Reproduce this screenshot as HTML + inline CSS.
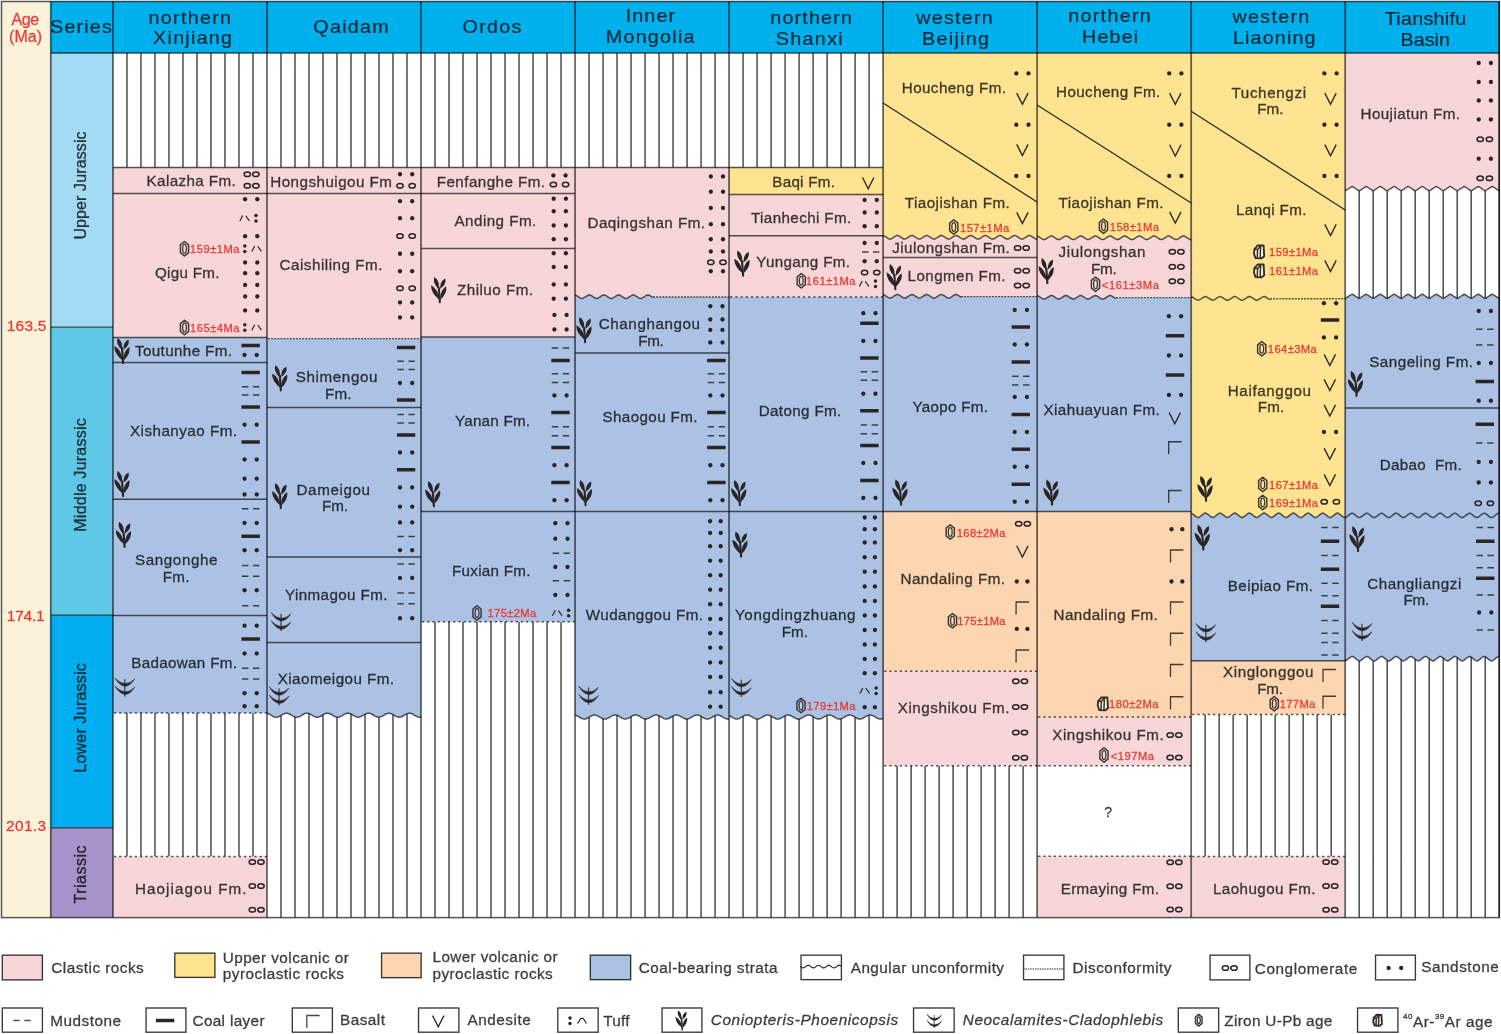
<!DOCTYPE html>
<html lang="en"><head><meta charset="utf-8"><title>Jurassic stratigraphic correlation of northern China</title>
<style>html,body{margin:0;padding:0;background:#fff}svg{display:block}
text{font-family:"Liberation Sans",sans-serif;fill:#000;stroke:#000;stroke-width:.32px;opacity:.77}
.h{stroke-width:.22px}.r{fill:#E5352F;stroke:#E5352F;stroke-width:.3px;opacity:.95}.sy{fill:#2a2526}.s{fill:none;stroke:#2a2526;stroke-width:1.5}.m{fill:none;stroke:rgba(0,0,0,.68);stroke-width:1.4}
.b{fill:none;stroke:rgba(0,0,0,.72);stroke-width:1.3}.v{fill:none;stroke:#2a2526;stroke-width:1.35}.c{fill:none;stroke:#2a2526;stroke-width:1.2;stroke-linejoin:round}
.z{fill:none;stroke:#3a3636;stroke-width:1.45;stroke-linejoin:round}.z3{fill:#fff;fill-opacity:.18;stroke:#3a3636;stroke-width:1.3}
.a{fill:#fff;fill-opacity:.8;stroke:#352c22;stroke-width:1.9;stroke-linejoin:round}.a2{fill:none;stroke:#352c22;stroke-width:1.5}</style></head>
<body>
<svg width="1501" height="1034" viewBox="0 0 1501 1034">
<rect x="0" y="0" width="1501" height="1034" fill="#fff"/>
<rect x="1.5" y="1.5" width="49.25" height="916.1" fill="#FBF3D9"/>
<rect x="50.75" y="1.5" width="1448.47" height="51.5" fill="#00B0EC"/>
<rect x="50.75" y="53" width="62.2" height="274.2" fill="#A2DBF3"/>
<rect x="50.75" y="327.2" width="62.2" height="288" fill="#60C8E7"/>
<rect x="50.75" y="615.2" width="62.2" height="212.6" fill="#00AEEF"/>
<rect x="50.75" y="827.8" width="62.2" height="89.8" fill="#A892CA"/>
<path d="M126.95 53V167.5M140.96 53V167.5M154.96 53V167.5M168.96 53V167.5M182.96 53V167.5M196.97 53V167.5M210.97 53V167.5M224.97 53V167.5M238.97 53V167.5M252.98 53V167.5M126.95 713V856.5M140.96 713V856.5M154.96 713V856.5M168.96 713V856.5M182.96 713V856.5M196.97 713V856.5M210.97 713V856.5M224.97 713V856.5M238.97 713V856.5M252.98 713V856.5M280.98 53V167.5M294.99 53V167.5M308.99 53V167.5M322.99 53V167.5M336.99 53V167.5M351 53V167.5M365 53V167.5M379 53V167.5M393 53V167.5M407.01 53V167.5M280.98 715.43V917.6M294.99 716.92V917.6M308.99 713.57V917.6M322.99 714.81V917.6M336.99 717.15V917.6M351 714V917.6M365 714.23V917.6M379 717.19V917.6M393 714.54V917.6M407.01 713.75V917.6M435.01 53V167.5M449.02 53V167.5M463.02 53V167.5M477.02 53V167.5M491.02 53V167.5M505.03 53V167.5M519.03 53V167.5M533.03 53V167.5M547.03 53V167.5M561.04 53V167.5M435.01 621.75V917.6M449.02 621.75V917.6M463.02 621.75V917.6M477.02 621.75V917.6M491.02 621.75V917.6M505.03 621.75V917.6M519.03 621.75V917.6M533.03 621.75V917.6M547.03 621.75V917.6M561.04 621.75V917.6M589.04 53V167.5M603.05 53V167.5M617.05 53V167.5M631.05 53V167.5M645.05 53V167.5M659.06 53V167.5M673.06 53V167.5M687.06 53V167.5M701.06 53V167.5M715.07 53V167.5M589.04 717.23V917.6M603.05 718.72V917.6M617.05 715.37V917.6M631.05 716.61V917.6M645.05 718.95V917.6M659.06 715.8V917.6M673.06 716.03V917.6M687.06 718.99V917.6M701.06 716.34V917.6M715.07 715.55V917.6M743.07 53V167.5M757.08 53V167.5M771.08 53V167.5M785.08 53V167.5M799.08 53V167.5M813.09 53V167.5M827.09 53V167.5M841.09 53V167.5M855.09 53V167.5M869.1 53V167.5M743.07 716.32V917.6M757.08 718.99V917.6M771.08 716.05V917.6M785.08 715.78V917.6M799.08 718.95V917.6M813.09 716.63V917.6M827.09 715.36V917.6M841.09 718.71V917.6M855.09 717.24V917.6M869.1 715.09V917.6M897.1 765.75V917.6M911.11 765.75V917.6M925.11 765.75V917.6M939.11 765.75V917.6M953.11 765.75V917.6M967.12 765.75V917.6M981.12 765.75V917.6M995.12 765.75V917.6M1009.12 765.75V917.6M1023.13 765.75V917.6M1205.16 714.5V856.5M1219.17 714.5V856.5M1233.17 714.5V856.5M1247.17 714.5V856.5M1261.17 714.5V856.5M1275.18 714.5V856.5M1289.18 714.5V856.5M1303.18 714.5V856.5M1317.18 714.5V856.5M1331.19 714.5V856.5M1359.19 190.7V298.4M1373.2 190.7V298.4M1387.2 190.7V298.4M1401.2 190.7V298.4M1415.2 190.7V298.4M1429.21 190.7V298.4M1443.21 190.7V298.4M1457.21 190.7V298.4M1471.21 190.7V298.4M1485.22 190.7V298.4M1359.19 660.94V917.6M1373.2 660.61V917.6M1387.2 660.2V917.6M1401.2 659.73V917.6M1415.2 659.21V917.6M1429.21 658.67V917.6M1443.21 658.13V917.6M1457.21 657.62V917.6M1471.21 657.15V917.6M1485.22 656.75V917.6" stroke="rgba(0,0,0,.68)" stroke-width="1.55" fill="none"/>
<rect x="112.95" y="167.5" width="154.03" height="26" fill="#F7D6D8"/>
<rect x="112.95" y="193.5" width="154.03" height="144" fill="#F7D6D8"/>
<rect x="112.95" y="337.5" width="154.03" height="25" fill="#ACC2E4"/>
<rect x="112.95" y="362.5" width="154.03" height="136.75" fill="#ACC2E4"/>
<rect x="112.95" y="499.25" width="154.03" height="116.25" fill="#ACC2E4"/>
<rect x="112.95" y="615.5" width="154.03" height="97.5" fill="#ACC2E4"/>
<rect x="112.95" y="856.5" width="154.03" height="61.1" fill="#F7D6D8"/>
<rect x="266.98" y="167.5" width="154.03" height="26" fill="#F7D6D8"/>
<rect x="266.98" y="193.5" width="154.03" height="145.1" fill="#F7D6D8"/>
<rect x="266.98" y="338.6" width="154.03" height="68.9" fill="#ACC2E4"/>
<rect x="266.98" y="407.5" width="154.03" height="149.5" fill="#ACC2E4"/>
<rect x="266.98" y="557" width="154.03" height="85.5" fill="#ACC2E4"/>
<path d="M266.98 642.5 421.01 642.5 L421 717 420.1 717.2 419.2 717.2 418.3 717 417.4 716.7 416.5 716.3 415.6 715.8 414.7 715.3 413.8 714.7 412.9 714.2 412 713.8 411.1 713.4 410.2 713.2 409.3 713.2 408.4 713.3 407.5 713.6 406.6 713.9 405.7 714.4 404.8 714.9 403.9 715.5 403 716 402.1 716.5 401.2 716.8 400.3 717.1 399.4 717.2 398.5 717.1 397.6 717 396.7 716.6 395.8 716.2 394.9 715.7 394 715.1 393.1 714.6 392.2 714.1 391.3 713.7 390.4 713.4 389.5 713.2 388.6 713.2 387.7 713.4 386.8 713.6 385.9 714 385 714.5 384.1 715.1 383.2 715.6 382.3 716.1 381.4 716.6 380.5 716.9 379.6 717.1 378.7 717.2 377.8 717.1 376.9 716.9 376 716.5 375.1 716.1 374.2 715.5 373.3 715 372.4 714.5 371.5 714 370.6 713.6 369.7 713.3 368.8 713.2 367.9 713.2 367 713.4 366.1 713.7 365.2 714.1 364.3 714.7 363.4 715.2 362.5 715.7 361.6 716.2 360.7 716.7 359.8 717 358.9 717.2 358 717.2 357.1 717.1 356.2 716.8 355.3 716.4 354.4 715.9 353.5 715.4 352.6 714.9 351.7 714.3 350.8 713.9 349.8 713.5 348.9 713.3 348 713.2 347.1 713.3 346.2 713.5 345.3 713.8 344.4 714.3 343.5 714.8 342.6 715.3 341.7 715.9 340.8 716.4 339.9 716.8 339 717 338.1 717.2 337.2 717.2 336.3 717 335.4 716.7 334.5 716.3 333.6 715.8 332.7 715.3 331.8 714.7 330.9 714.2 330 713.8 329.1 713.5 328.2 713.3 327.3 713.2 326.4 713.3 325.5 713.5 324.6 713.9 323.7 714.4 322.8 714.9 321.9 715.5 321 716 320.1 716.5 319.2 716.8 318.3 717.1 317.4 717.2 316.5 717.2 315.6 717 314.7 716.6 313.8 716.2 312.9 715.7 312 715.1 311.1 714.6 310.2 714.1 309.3 713.7 308.4 713.4 307.5 713.2 306.6 713.2 305.7 713.3 304.8 713.6 303.9 714 303 714.5 302.1 715 301.2 715.6 300.3 716.1 299.4 716.6 298.5 716.9 297.6 717.1 296.7 717.2 295.8 717.1 294.9 716.9 294 716.5 293.1 716.1 292.2 715.6 291.3 715 290.4 714.5 289.5 714 288.6 713.6 287.7 713.3 286.8 713.2 285.9 713.2 285 713.4 284.1 713.7 283.2 714.1 282.3 714.6 281.4 715.2 280.5 715.7 279.6 716.2 278.7 716.7 277.8 717 276.9 717.2 276 717.2 275.1 717.1 274.2 716.8 273.3 716.4 272.4 716 271.5 715.4 270.6 714.9 269.7 714.4 268.8 713.9 267.9 713.5 267 713.3Z" fill="#ACC2E4"/>
<rect x="421.01" y="167.5" width="154.03" height="26" fill="#F7D6D8"/>
<rect x="421.01" y="193.5" width="154.03" height="55" fill="#F7D6D8"/>
<rect x="421.01" y="248.5" width="154.03" height="88.5" fill="#F7D6D8"/>
<rect x="421.01" y="337" width="154.03" height="174.5" fill="#ACC2E4"/>
<rect x="421.01" y="511.5" width="154.03" height="110.25" fill="#ACC2E4"/>
<path d="M575.04 167.5 729.07 167.5 L729.1 297 728.2 297 727.3 297 726.4 297 725.5 297 724.6 297 723.7 297 722.8 297 721.9 297 721 297 720.1 297 719.2 297 718.3 297 717.4 297 716.5 297 715.6 297 714.7 297 713.8 297 712.9 297 712 297 711.1 297 710.2 297 709.3 297 708.4 297 707.5 297 706.6 297 705.7 297 704.7 297 703.8 297 702.9 297 702 297 701.1 297 700.2 297 699.3 297 698.4 297 697.5 297 696.6 297 695.7 297 694.8 297 693.9 297 693 297 692.1 297 691.2 297 690.3 297 689.4 297 688.5 297 687.6 297 686.7 297 685.8 297 684.9 297 684 297 683.1 297 682.2 297 681.3 297 680.4 297 679.5 297 678.6 297 677.7 297 676.8 297 675.9 297 675 297 674.1 297 673.2 297 672.3 297 671.4 297 670.5 297 669.6 297 668.7 297 667.8 297 666.9 297 666 297 665.1 297 664.2 297 663.3 297 662.4 297 661.5 297 660.6 297 659.7 297 658.8 297 657.9 297 657 297 656.1 297 655.2 297 654.3 297 653.4 297 652.5 297.3 651.6 296.7 650.7 296.1 649.8 295.5 648.9 295.1 648 294.9 647.1 295 646.2 295.5 645.3 296 644.4 296.6 643.5 297.2 642.6 297.8 641.7 298.3 640.8 298.5 639.9 298.4 639 298 638.1 297.4 637.2 296.9 636.3 296.3 635.4 295.7 634.5 295.2 633.6 294.9 632.7 294.9 631.8 295.4 630.9 295.9 630 296.5 629.1 297.1 628.2 297.6 627.3 298.1 626.4 298.5 625.5 298.5 624.6 298.1 623.7 297.6 622.8 297 621.9 296.4 621 295.9 620.1 295.3 619.2 294.9 618.3 294.9 617.4 295.2 616.5 295.7 615.6 296.3 614.7 296.9 613.8 297.5 612.9 298 612 298.4 611.1 298.5 610.2 298.2 609.3 297.8 608.4 297.2 607.5 296.6 606.6 296 605.7 295.5 604.8 295 603.9 294.9 603 295.1 602.1 295.6 601.2 296.1 600.3 296.7 599.4 297.3 598.5 297.8 597.6 298.3 596.7 298.5 595.8 298.4 594.9 297.9 594 297.4 593.1 296.8 592.2 296.2 591.3 295.6 590.4 295.1 589.5 294.9 588.6 295 587.7 295.4 586.7 296 585.8 296.5 584.9 297.1 584 297.7 583.1 298.2 582.2 298.5 581.3 298.5 580.4 298 579.5 297.5 578.6 296.9 577.7 296.3 576.8 295.8 575.9 295.3 575 294.9Z" fill="#F7D6D8"/>
<path d="M575 294.9 575.9 295.3 576.8 295.8 577.7 296.3 578.6 296.9 579.5 297.5 580.4 298 581.3 298.5 582.2 298.5 583.1 298.2 584 297.7 584.9 297.1 585.8 296.5 586.7 296 587.7 295.4 588.6 295 589.5 294.9 590.4 295.1 591.3 295.6 592.2 296.2 593.1 296.8 594 297.4 594.9 297.9 595.8 298.4 596.7 298.5 597.6 298.3 598.5 297.8 599.4 297.3 600.3 296.7 601.2 296.1 602.1 295.6 603 295.1 603.9 294.9 604.8 295 605.7 295.5 606.6 296 607.5 296.6 608.4 297.2 609.3 297.8 610.2 298.2 611.1 298.5 612 298.4 612.9 298 613.8 297.5 614.7 296.9 615.6 296.3 616.5 295.7 617.4 295.2 618.3 294.9 619.2 294.9 620.1 295.3 621 295.9 621.9 296.4 622.8 297 623.7 297.6 624.6 298.1 625.5 298.5 626.4 298.5 627.3 298.1 628.2 297.6 629.1 297.1 630 296.5 630.9 295.9 631.8 295.4 632.7 294.9 633.6 294.9 634.5 295.2 635.4 295.7 636.3 296.3 637.2 296.9 638.1 297.4 639 298 639.9 298.4 640.8 298.5 641.7 298.3 642.6 297.8 643.5 297.2 644.4 296.6 645.3 296 646.2 295.5 647.1 295 648 294.9 648.9 295.1 649.8 295.5 650.7 296.1 651.6 296.7 652.5 297.3 653.4 297 654.3 297 655.2 297 656.1 297 657 297 657.9 297 658.8 297 659.7 297 660.6 297 661.5 297 662.4 297 663.3 297 664.2 297 665.1 297 666 297 666.9 297 667.8 297 668.7 297 669.6 297 670.5 297 671.4 297 672.3 297 673.2 297 674.1 297 675 297 675.9 297 676.8 297 677.7 297 678.6 297 679.5 297 680.4 297 681.3 297 682.2 297 683.1 297 684 297 684.9 297 685.8 297 686.7 297 687.6 297 688.5 297 689.4 297 690.3 297 691.2 297 692.1 297 693 297 693.9 297 694.8 297 695.7 297 696.6 297 697.5 297 698.4 297 699.3 297 700.2 297 701.1 297 702 297 702.9 297 703.8 297 704.7 297 705.7 297 706.6 297 707.5 297 708.4 297 709.3 297 710.2 297 711.1 297 712 297 712.9 297 713.8 297 714.7 297 715.6 297 716.5 297 717.4 297 718.3 297 719.2 297 720.1 297 721 297 721.9 297 722.8 297 723.7 297 724.6 297 725.5 297 726.4 297 727.3 297 728.2 297 729.1 297 L729.07 353 575.04 353Z" fill="#ACC2E4"/>
<rect x="575.04" y="353" width="154.03" height="158.5" fill="#ACC2E4"/>
<path d="M575.04 511.5 729.07 511.5 L729.1 718.8 728.2 719 727.3 719 726.4 718.8 725.5 718.5 724.6 718.1 723.7 717.6 722.8 717.1 721.9 716.5 721 716 720.1 715.6 719.2 715.2 718.3 715 717.4 715 716.5 715.1 715.6 715.4 714.7 715.7 713.8 716.2 712.9 716.7 712 717.3 711.1 717.8 710.2 718.3 709.3 718.6 708.4 718.9 707.5 719 706.6 718.9 705.7 718.8 704.7 718.4 703.8 718 702.9 717.5 702 716.9 701.1 716.4 700.2 715.9 699.3 715.5 698.4 715.2 697.5 715 696.6 715 695.7 715.2 694.8 715.4 693.9 715.8 693 716.3 692.1 716.9 691.2 717.4 690.3 717.9 689.4 718.4 688.5 718.7 687.6 718.9 686.7 719 685.8 718.9 684.9 718.7 684 718.3 683.1 717.9 682.2 717.3 681.3 716.8 680.4 716.3 679.5 715.8 678.6 715.4 677.7 715.1 676.8 715 675.9 715 675 715.2 674.1 715.5 673.2 715.9 672.3 716.5 671.4 717 670.5 717.5 669.6 718 668.7 718.5 667.8 718.8 666.9 719 666 719 665.1 718.9 664.2 718.6 663.3 718.2 662.4 717.7 661.5 717.2 660.6 716.7 659.7 716.1 658.8 715.7 657.9 715.3 657 715.1 656.1 715 655.2 715.1 654.3 715.3 653.4 715.6 652.5 716.1 651.6 716.6 650.7 717.1 649.8 717.7 648.9 718.2 648 718.6 647.1 718.8 646.2 719 645.3 719 644.4 718.8 643.5 718.5 642.6 718.1 641.7 717.6 640.8 717.1 639.9 716.5 639 716 638.1 715.6 637.2 715.3 636.3 715.1 635.4 715 634.5 715.1 633.6 715.3 632.7 715.7 631.8 716.2 630.9 716.7 630 717.3 629.1 717.8 628.2 718.3 627.3 718.6 626.4 718.9 625.5 719 624.6 719 623.7 718.8 622.8 718.4 621.9 718 621 717.5 620.1 716.9 619.2 716.4 618.3 715.9 617.4 715.5 616.5 715.2 615.6 715 614.7 715 613.8 715.1 612.9 715.4 612 715.8 611.1 716.3 610.2 716.8 609.3 717.4 608.4 717.9 607.5 718.4 606.6 718.7 605.7 718.9 604.8 719 603.9 718.9 603 718.7 602.1 718.3 601.2 717.9 600.3 717.4 599.4 716.8 598.5 716.3 597.6 715.8 596.7 715.4 595.8 715.1 594.9 715 594 715 593.1 715.2 592.2 715.5 591.3 715.9 590.4 716.4 589.5 717 588.6 717.5 587.7 718 586.7 718.5 585.8 718.8 584.9 719 584 719 583.1 718.9 582.2 718.6 581.3 718.2 580.4 717.8 579.5 717.2 578.6 716.7 577.7 716.2 576.8 715.7 575.9 715.3 575 715.1Z" fill="#ACC2E4"/>
<rect x="729.07" y="167.5" width="154.03" height="27" fill="#FEE391"/>
<rect x="729.07" y="194.5" width="154.03" height="41.25" fill="#F7D6D8"/>
<rect x="729.07" y="235.75" width="154.03" height="61.25" fill="#F7D6D8"/>
<rect x="729.07" y="297" width="154.03" height="214.5" fill="#ACC2E4"/>
<path d="M729.07 511.5 883.1 511.5 L883.1 718.3 882.2 718.7 881.3 718.9 880.4 719 879.5 718.9 878.6 718.7 877.7 718.4 876.8 717.9 875.9 717.4 875 716.9 874.1 716.3 873.2 715.8 872.3 715.4 871.4 715.2 870.5 715 869.6 715 868.7 715.2 867.8 715.5 866.9 715.9 866 716.4 865.1 716.9 864.2 717.5 863.3 718 862.4 718.4 861.5 718.7 860.6 718.9 859.7 719 858.8 718.9 857.9 718.7 857 718.3 856.1 717.8 855.2 717.3 854.3 716.7 853.4 716.2 852.5 715.7 851.6 715.4 850.7 715.1 849.8 715 848.9 715 848 715.2 847.1 715.6 846.2 716 845.3 716.5 844.4 717 843.5 717.6 842.6 718.1 841.7 718.5 840.8 718.8 839.9 719 839 719 838.1 718.9 837.2 718.6 836.3 718.2 835.4 717.7 834.5 717.2 833.6 716.6 832.7 716.1 831.8 715.6 830.9 715.3 830 715.1 829.1 715 828.2 715.1 827.3 715.3 826.4 715.7 825.5 716.1 824.6 716.6 823.6 717.2 822.7 717.7 821.8 718.2 820.9 718.6 820 718.9 819.1 719 818.2 719 817.3 718.8 816.4 718.5 815.5 718.1 814.6 717.6 813.7 717 812.8 716.5 811.9 716 811 715.5 810.1 715.2 809.2 715 808.3 715 807.4 715.1 806.5 715.4 805.6 715.8 804.7 716.2 803.8 716.8 802.9 717.3 802 717.8 801.1 718.3 800.2 718.7 799.3 718.9 798.4 719 797.5 718.9 796.6 718.7 795.7 718.4 794.8 718 793.9 717.4 793 716.9 792.1 716.4 791.2 715.9 790.3 715.5 789.4 715.2 788.5 715 787.6 715 786.7 715.2 785.8 715.5 784.9 715.9 784 716.4 783.1 716.9 782.2 717.4 781.3 718 780.4 718.4 779.5 718.7 778.6 718.9 777.7 719 776.8 718.9 775.9 718.7 775 718.3 774.1 717.8 773.2 717.3 772.3 716.8 771.4 716.2 770.5 715.8 769.6 715.4 768.7 715.1 767.8 715 766.9 715 766 715.2 765.1 715.5 764.2 716 763.3 716.5 762.4 717 761.5 717.6 760.6 718.1 759.7 718.5 758.8 718.8 757.9 719 757 719 756.1 718.9 755.2 718.6 754.3 718.2 753.4 717.7 752.5 717.2 751.6 716.6 750.7 716.1 749.8 715.7 748.9 715.3 748 715.1 747.1 715 746.2 715.1 745.3 715.3 744.4 715.6 743.5 716.1 742.6 716.6 741.7 717.2 740.8 717.7 739.9 718.2 739 718.6 738.1 718.9 737.2 719 736.3 719 735.4 718.8 734.5 718.5 733.6 718.1 732.7 717.6 731.8 717 730.9 716.5 730 716 729.1 715.6Z" fill="#ACC2E4"/>
<path d="M883.1 53 1037.13 53 L1037.1 239.1 1036.2 239.1 1035.3 238.7 1034.4 238.2 1033.5 237.6 1032.6 237 1031.7 236.5 1030.8 235.9 1029.9 235.5 1029 235.5 1028.1 235.8 1027.2 236.3 1026.3 236.9 1025.4 237.5 1024.5 238.1 1023.6 238.6 1022.7 239 1021.8 239.1 1020.9 238.8 1020 238.4 1019.1 237.8 1018.2 237.2 1017.3 236.6 1016.4 236.1 1015.5 235.6 1014.6 235.5 1013.7 235.7 1012.8 236.2 1011.9 236.7 1011 237.3 1010.1 237.9 1009.2 238.5 1008.3 238.9 1007.4 239.1 1006.5 239 1005.6 238.5 1004.7 238 1003.8 237.4 1002.9 236.8 1002 236.2 1001.1 235.7 1000.2 235.5 999.3 235.6 998.4 236 997.5 236.6 996.6 237.1 995.7 237.7 994.8 238.3 993.9 238.8 993 239.1 992.1 239.1 991.2 238.6 990.3 238.1 989.4 237.5 988.5 236.9 987.6 236.4 986.7 235.9 985.8 235.5 984.9 235.5 984 235.9 983.1 236.4 982.2 237 981.3 237.6 980.4 238.1 979.5 238.7 978.6 239.1 977.7 239.1 976.8 238.8 975.9 238.3 975 237.7 974.1 237.1 973.2 236.5 972.3 236 971.4 235.6 970.5 235.5 969.6 235.8 968.7 236.2 967.8 236.8 966.9 237.4 966 238 965.1 238.5 964.2 239 963.3 239.1 962.4 238.9 961.5 238.4 960.6 237.9 959.7 237.3 958.8 236.7 957.9 236.1 957 235.7 956.1 235.5 955.2 235.6 954.3 236.1 953.4 236.6 952.5 237.2 951.6 237.8 950.7 238.4 949.8 238.9 948.9 239.1 948 239 947.1 238.6 946.2 238 945.3 237.5 944.4 236.9 943.5 236.3 942.6 235.8 941.6 235.5 940.7 235.5 939.8 236 938.9 236.5 938 237.1 937.1 237.7 936.2 238.2 935.3 238.7 934.4 239.1 933.5 239.1 932.6 238.7 931.7 238.2 930.8 237.6 929.9 237 929 236.5 928.1 235.9 927.2 235.5 926.3 235.5 925.4 235.8 924.5 236.3 923.6 236.9 922.7 237.5 921.8 238.1 920.9 238.6 920 239 919.1 239.1 918.2 238.8 917.3 238.4 916.4 237.8 915.5 237.2 914.6 236.6 913.7 236.1 912.8 235.6 911.9 235.5 911 235.7 910.1 236.2 909.2 236.7 908.3 237.3 907.4 237.9 906.5 238.4 905.6 238.9 904.7 239.1 903.8 239 902.9 238.5 902 238 901.1 237.4 900.2 236.8 899.3 236.2 898.4 235.7 897.5 235.5 896.6 235.6 895.7 236 894.8 236.6 893.9 237.1 893 237.7 892.1 238.3 891.2 238.8 890.3 239.1 889.4 239.1 888.5 238.6 887.6 238.1 886.7 237.5 885.8 236.9 884.9 236.4 884 235.9 883.1 235.5Z" fill="#FEE391"/>
<path d="M883.1 235.5 884 235.9 884.9 236.4 885.8 236.9 886.7 237.5 887.6 238.1 888.5 238.6 889.4 239.1 890.3 239.1 891.2 238.8 892.1 238.3 893 237.7 893.9 237.1 894.8 236.6 895.7 236 896.6 235.6 897.5 235.5 898.4 235.7 899.3 236.2 900.2 236.8 901.1 237.4 902 238 902.9 238.5 903.8 239 904.7 239.1 905.6 238.9 906.5 238.4 907.4 237.9 908.3 237.3 909.2 236.7 910.1 236.2 911 235.7 911.9 235.5 912.8 235.6 913.7 236.1 914.6 236.6 915.5 237.2 916.4 237.8 917.3 238.4 918.2 238.8 919.1 239.1 920 239 920.9 238.6 921.8 238.1 922.7 237.5 923.6 236.9 924.5 236.3 925.4 235.8 926.3 235.5 927.2 235.5 928.1 235.9 929 236.5 929.9 237 930.8 237.6 931.7 238.2 932.6 238.7 933.5 239.1 934.4 239.1 935.3 238.7 936.2 238.2 937.1 237.7 938 237.1 938.9 236.5 939.8 236 940.7 235.5 941.6 235.5 942.6 235.8 943.5 236.3 944.4 236.9 945.3 237.5 946.2 238 947.1 238.6 948 239 948.9 239.1 949.8 238.9 950.7 238.4 951.6 237.8 952.5 237.2 953.4 236.6 954.3 236.1 955.2 235.6 956.1 235.5 957 235.7 957.9 236.1 958.8 236.7 959.7 237.3 960.6 237.9 961.5 238.4 962.4 238.9 963.3 239.1 964.2 239 965.1 238.5 966 238 966.9 237.4 967.8 236.8 968.7 236.2 969.6 235.8 970.5 235.5 971.4 235.6 972.3 236 973.2 236.5 974.1 237.1 975 237.7 975.9 238.3 976.8 238.8 977.7 239.1 978.6 239.1 979.5 238.7 980.4 238.1 981.3 237.6 982.2 237 983.1 236.4 984 235.9 984.9 235.5 985.8 235.5 986.7 235.9 987.6 236.4 988.5 236.9 989.4 237.5 990.3 238.1 991.2 238.6 992.1 239.1 993 239.1 993.9 238.8 994.8 238.3 995.7 237.7 996.6 237.1 997.5 236.6 998.4 236 999.3 235.6 1000.2 235.5 1001.1 235.7 1002 236.2 1002.9 236.8 1003.8 237.4 1004.7 238 1005.6 238.5 1006.5 239 1007.4 239.1 1008.3 238.9 1009.2 238.5 1010.1 237.9 1011 237.3 1011.9 236.7 1012.8 236.2 1013.7 235.7 1014.6 235.5 1015.5 235.6 1016.4 236.1 1017.3 236.6 1018.2 237.2 1019.1 237.8 1020 238.4 1020.9 238.8 1021.8 239.1 1022.7 239 1023.6 238.6 1024.5 238.1 1025.4 237.5 1026.3 236.9 1027.2 236.3 1028.1 235.8 1029 235.5 1029.9 235.5 1030.8 235.9 1031.7 236.5 1032.6 237 1033.5 237.6 1034.4 238.2 1035.3 238.7 1036.2 239.1 1037.1 239.1 L1037.13 257.5 883.1 257.5Z" fill="#F7D6D8"/>
<path d="M883.1 257.5 1037.13 257.5 L1037.1 296.6 1036.2 296.6 1035.3 296.6 1034.4 296.6 1033.5 296.6 1032.6 296.6 1031.7 296.6 1030.8 296.6 1029.9 296.6 1029 296.6 1028.1 296.6 1027.2 296.6 1026.3 296.6 1025.4 296.6 1024.5 296.6 1023.6 296.6 1022.7 296.6 1021.8 296.6 1020.9 296.6 1020 296.6 1019.1 296.6 1018.2 296.6 1017.3 296.6 1016.4 296.6 1015.5 296.6 1014.6 296.6 1013.7 296.6 1012.8 296.6 1011.9 296.6 1011 296.6 1010.1 296.6 1009.2 296.6 1008.3 296.6 1007.4 296.6 1006.5 296.6 1005.6 296.6 1004.7 296.6 1003.8 296.6 1002.9 296.6 1002 296.6 1001.1 296.6 1000.2 296.6 999.3 296.6 998.4 296.6 997.5 296.6 996.6 296.6 995.7 296.6 994.8 296.6 993.9 296.6 993 296.6 992.1 296.6 991.2 296.6 990.3 296.6 989.4 296.6 988.5 296.6 987.6 296.6 986.7 296.6 985.8 296.6 984.9 296.6 984 296.6 983.1 296.6 982.2 296.6 981.3 296.6 980.4 296.6 979.5 296.6 978.6 296.6 977.7 296.6 976.8 296.6 975.9 296.6 975 296.6 974.1 296.6 973.2 296.6 972.3 296.6 971.4 296.6 970.5 296.6 969.6 296.6 968.7 296.6 967.8 296.6 966.9 296.6 966 296.6 965.1 296.6 964.2 296.6 963.3 296.6 962.4 296.6 961.5 296.6 960.6 296.9 959.7 296.3 958.8 295.7 957.9 295.1 957 294.7 956.1 294.5 955.2 294.6 954.3 295.1 953.4 295.6 952.5 296.2 951.6 296.8 950.7 297.4 949.8 297.9 948.9 298.1 948 298 947.1 297.6 946.2 297 945.3 296.5 944.4 295.9 943.5 295.3 942.6 294.8 941.6 294.5 940.7 294.5 939.8 295 938.9 295.5 938 296.1 937.1 296.7 936.2 297.2 935.3 297.7 934.4 298.1 933.5 298.1 932.6 297.7 931.7 297.2 930.8 296.6 929.9 296 929 295.5 928.1 294.9 927.2 294.5 926.3 294.5 925.4 294.8 924.5 295.3 923.6 295.9 922.7 296.5 921.8 297.1 920.9 297.6 920 298 919.1 298.1 918.2 297.8 917.3 297.4 916.4 296.8 915.5 296.2 914.6 295.6 913.7 295.1 912.8 294.6 911.9 294.5 911 294.7 910.1 295.2 909.2 295.7 908.3 296.3 907.4 296.9 906.5 297.4 905.6 297.9 904.7 298.1 903.8 298 902.9 297.5 902 297 901.1 296.4 900.2 295.8 899.3 295.2 898.4 294.7 897.5 294.5 896.6 294.6 895.7 295 894.8 295.6 893.9 296.1 893 296.7 892.1 297.3 891.2 297.8 890.3 298.1 889.4 298.1 888.5 297.6 887.6 297.1 886.7 296.5 885.8 295.9 884.9 295.4 884 294.9 883.1 294.5Z" fill="#F7D6D8"/>
<path d="M883.1 294.5 884 294.9 884.9 295.4 885.8 295.9 886.7 296.5 887.6 297.1 888.5 297.6 889.4 298.1 890.3 298.1 891.2 297.8 892.1 297.3 893 296.7 893.9 296.1 894.8 295.6 895.7 295 896.6 294.6 897.5 294.5 898.4 294.7 899.3 295.2 900.2 295.8 901.1 296.4 902 297 902.9 297.5 903.8 298 904.7 298.1 905.6 297.9 906.5 297.4 907.4 296.9 908.3 296.3 909.2 295.7 910.1 295.2 911 294.7 911.9 294.5 912.8 294.6 913.7 295.1 914.6 295.6 915.5 296.2 916.4 296.8 917.3 297.4 918.2 297.8 919.1 298.1 920 298 920.9 297.6 921.8 297.1 922.7 296.5 923.6 295.9 924.5 295.3 925.4 294.8 926.3 294.5 927.2 294.5 928.1 294.9 929 295.5 929.9 296 930.8 296.6 931.7 297.2 932.6 297.7 933.5 298.1 934.4 298.1 935.3 297.7 936.2 297.2 937.1 296.7 938 296.1 938.9 295.5 939.8 295 940.7 294.5 941.6 294.5 942.6 294.8 943.5 295.3 944.4 295.9 945.3 296.5 946.2 297 947.1 297.6 948 298 948.9 298.1 949.8 297.9 950.7 297.4 951.6 296.8 952.5 296.2 953.4 295.6 954.3 295.1 955.2 294.6 956.1 294.5 957 294.7 957.9 295.1 958.8 295.7 959.7 296.3 960.6 296.9 961.5 296.6 962.4 296.6 963.3 296.6 964.2 296.6 965.1 296.6 966 296.6 966.9 296.6 967.8 296.6 968.7 296.6 969.6 296.6 970.5 296.6 971.4 296.6 972.3 296.6 973.2 296.6 974.1 296.6 975 296.6 975.9 296.6 976.8 296.6 977.7 296.6 978.6 296.6 979.5 296.6 980.4 296.6 981.3 296.6 982.2 296.6 983.1 296.6 984 296.6 984.9 296.6 985.8 296.6 986.7 296.6 987.6 296.6 988.5 296.6 989.4 296.6 990.3 296.6 991.2 296.6 992.1 296.6 993 296.6 993.9 296.6 994.8 296.6 995.7 296.6 996.6 296.6 997.5 296.6 998.4 296.6 999.3 296.6 1000.2 296.6 1001.1 296.6 1002 296.6 1002.9 296.6 1003.8 296.6 1004.7 296.6 1005.6 296.6 1006.5 296.6 1007.4 296.6 1008.3 296.6 1009.2 296.6 1010.1 296.6 1011 296.6 1011.9 296.6 1012.8 296.6 1013.7 296.6 1014.6 296.6 1015.5 296.6 1016.4 296.6 1017.3 296.6 1018.2 296.6 1019.1 296.6 1020 296.6 1020.9 296.6 1021.8 296.6 1022.7 296.6 1023.6 296.6 1024.5 296.6 1025.4 296.6 1026.3 296.6 1027.2 296.6 1028.1 296.6 1029 296.6 1029.9 296.6 1030.8 296.6 1031.7 296.6 1032.6 296.6 1033.5 296.6 1034.4 296.6 1035.3 296.6 1036.2 296.6 1037.1 296.6 L1037.13 511.5 883.1 511.5Z" fill="#ACC2E4"/>
<rect x="883.1" y="511.5" width="154.03" height="159.75" fill="#FCD5B1"/>
<rect x="883.1" y="671.25" width="154.03" height="94.5" fill="#F7D6D8"/>
<path d="M1037.13 53 1191.16 53 L1191.2 239.6 1190.3 239.6 1189.4 239.2 1188.5 238.7 1187.6 238.1 1186.7 237.5 1185.8 237 1184.9 236.4 1184 236 1183.1 236 1182.2 236.3 1181.3 236.8 1180.4 237.4 1179.5 238 1178.5 238.6 1177.6 239.1 1176.7 239.5 1175.8 239.6 1174.9 239.3 1174 238.9 1173.1 238.3 1172.2 237.7 1171.3 237.1 1170.4 236.6 1169.5 236.1 1168.6 236 1167.7 236.2 1166.8 236.7 1165.9 237.2 1165 237.8 1164.1 238.4 1163.2 239 1162.3 239.4 1161.4 239.6 1160.5 239.5 1159.6 239 1158.7 238.5 1157.8 237.9 1156.9 237.3 1156 236.7 1155.1 236.2 1154.2 236 1153.3 236.1 1152.4 236.5 1151.5 237.1 1150.6 237.6 1149.7 238.2 1148.8 238.8 1147.9 239.3 1147 239.6 1146.1 239.6 1145.2 239.1 1144.3 238.6 1143.4 238 1142.5 237.4 1141.6 236.9 1140.7 236.4 1139.8 236 1138.9 236 1138 236.4 1137.1 236.9 1136.2 237.5 1135.3 238.1 1134.4 238.6 1133.5 239.2 1132.6 239.6 1131.7 239.6 1130.8 239.3 1129.9 238.8 1129 238.2 1128.1 237.6 1127.2 237 1126.3 236.5 1125.4 236.1 1124.5 236 1123.6 236.3 1122.7 236.7 1121.8 237.3 1120.9 237.9 1120 238.5 1119.1 239 1118.2 239.5 1117.3 239.6 1116.4 239.4 1115.5 238.9 1114.6 238.4 1113.7 237.8 1112.8 237.2 1111.9 236.6 1111 236.2 1110.1 236 1109.2 236.1 1108.3 236.6 1107.4 237.1 1106.5 237.7 1105.6 238.3 1104.7 238.9 1103.8 239.4 1102.9 239.6 1102 239.5 1101.1 239.1 1100.2 238.5 1099.3 238 1098.4 237.4 1097.5 236.8 1096.6 236.3 1095.7 236 1094.8 236 1093.9 236.5 1093 237 1092.1 237.6 1091.2 238.2 1090.3 238.7 1089.4 239.2 1088.5 239.6 1087.6 239.6 1086.7 239.2 1085.8 238.7 1084.9 238.1 1084 237.5 1083.1 237 1082.2 236.4 1081.3 236 1080.4 236 1079.5 236.3 1078.6 236.8 1077.7 237.4 1076.8 238 1075.9 238.6 1075 239.1 1074.1 239.5 1073.2 239.6 1072.3 239.3 1071.4 238.9 1070.5 238.3 1069.6 237.7 1068.7 237.1 1067.8 236.6 1066.9 236.1 1066 236 1065.1 236.2 1064.2 236.7 1063.3 237.2 1062.4 237.8 1061.5 238.4 1060.5 238.9 1059.6 239.4 1058.7 239.6 1057.8 239.5 1056.9 239 1056 238.5 1055.1 237.9 1054.2 237.3 1053.3 236.7 1052.4 236.2 1051.5 236 1050.6 236.1 1049.7 236.5 1048.8 237.1 1047.9 237.6 1047 238.2 1046.1 238.8 1045.2 239.3 1044.3 239.6 1043.4 239.6 1042.5 239.1 1041.6 238.6 1040.7 238 1039.8 237.4 1038.9 236.9 1038 236.4 1037.1 236Z" fill="#FEE391"/>
<path d="M1037.1 236 1038 236.4 1038.9 236.9 1039.8 237.4 1040.7 238 1041.6 238.6 1042.5 239.1 1043.4 239.6 1044.3 239.6 1045.2 239.3 1046.1 238.8 1047 238.2 1047.9 237.6 1048.8 237.1 1049.7 236.5 1050.6 236.1 1051.5 236 1052.4 236.2 1053.3 236.7 1054.2 237.3 1055.1 237.9 1056 238.5 1056.9 239 1057.8 239.5 1058.7 239.6 1059.6 239.4 1060.5 238.9 1061.5 238.4 1062.4 237.8 1063.3 237.2 1064.2 236.7 1065.1 236.2 1066 236 1066.9 236.1 1067.8 236.6 1068.7 237.1 1069.6 237.7 1070.5 238.3 1071.4 238.9 1072.3 239.3 1073.2 239.6 1074.1 239.5 1075 239.1 1075.9 238.6 1076.8 238 1077.7 237.4 1078.6 236.8 1079.5 236.3 1080.4 236 1081.3 236 1082.2 236.4 1083.1 237 1084 237.5 1084.9 238.1 1085.8 238.7 1086.7 239.2 1087.6 239.6 1088.5 239.6 1089.4 239.2 1090.3 238.7 1091.2 238.2 1092.1 237.6 1093 237 1093.9 236.5 1094.8 236 1095.7 236 1096.6 236.3 1097.5 236.8 1098.4 237.4 1099.3 238 1100.2 238.5 1101.1 239.1 1102 239.5 1102.9 239.6 1103.8 239.4 1104.7 238.9 1105.6 238.3 1106.5 237.7 1107.4 237.1 1108.3 236.6 1109.2 236.1 1110.1 236 1111 236.2 1111.9 236.6 1112.8 237.2 1113.7 237.8 1114.6 238.4 1115.5 238.9 1116.4 239.4 1117.3 239.6 1118.2 239.5 1119.1 239 1120 238.5 1120.9 237.9 1121.8 237.3 1122.7 236.7 1123.6 236.3 1124.5 236 1125.4 236.1 1126.3 236.5 1127.2 237 1128.1 237.6 1129 238.2 1129.9 238.8 1130.8 239.3 1131.7 239.6 1132.6 239.6 1133.5 239.2 1134.4 238.6 1135.3 238.1 1136.2 237.5 1137.1 236.9 1138 236.4 1138.9 236 1139.8 236 1140.7 236.4 1141.6 236.9 1142.5 237.4 1143.4 238 1144.3 238.6 1145.2 239.1 1146.1 239.6 1147 239.6 1147.9 239.3 1148.8 238.8 1149.7 238.2 1150.6 237.6 1151.5 237.1 1152.4 236.5 1153.3 236.1 1154.2 236 1155.1 236.2 1156 236.7 1156.9 237.3 1157.8 237.9 1158.7 238.5 1159.6 239 1160.5 239.5 1161.4 239.6 1162.3 239.4 1163.2 239 1164.1 238.4 1165 237.8 1165.9 237.2 1166.8 236.7 1167.7 236.2 1168.6 236 1169.5 236.1 1170.4 236.6 1171.3 237.1 1172.2 237.7 1173.1 238.3 1174 238.9 1174.9 239.3 1175.8 239.6 1176.7 239.5 1177.6 239.1 1178.5 238.6 1179.5 238 1180.4 237.4 1181.3 236.8 1182.2 236.3 1183.1 236 1184 236 1184.9 236.4 1185.8 237 1186.7 237.5 1187.6 238.1 1188.5 238.7 1189.4 239.2 1190.3 239.6 1191.2 239.6 L1191.2 297.6 1190.3 297.6 1189.4 297.6 1188.5 297.6 1187.6 297.6 1186.7 297.6 1185.8 297.6 1184.9 297.6 1184 297.6 1183.1 297.6 1182.2 297.6 1181.3 297.6 1180.4 297.6 1179.5 297.6 1178.5 297.6 1177.6 297.6 1176.7 297.6 1175.8 297.6 1174.9 297.6 1174 297.6 1173.1 297.6 1172.2 297.6 1171.3 297.6 1170.4 297.6 1169.5 297.6 1168.6 297.6 1167.7 297.6 1166.8 297.6 1165.9 297.6 1165 297.6 1164.1 297.6 1163.2 297.6 1162.3 297.6 1161.4 297.6 1160.5 297.6 1159.6 297.6 1158.7 297.6 1157.8 297.6 1156.9 297.6 1156 297.6 1155.1 297.6 1154.2 297.6 1153.3 297.6 1152.4 297.6 1151.5 297.6 1150.6 297.6 1149.7 297.6 1148.8 297.6 1147.9 297.6 1147 297.6 1146.1 297.6 1145.2 297.6 1144.3 297.6 1143.4 297.6 1142.5 297.6 1141.6 297.6 1140.7 297.6 1139.8 297.6 1138.9 297.6 1138 297.6 1137.1 297.6 1136.2 297.6 1135.3 297.6 1134.4 297.6 1133.5 297.6 1132.6 297.6 1131.7 297.6 1130.8 297.6 1129.9 297.6 1129 297.6 1128.1 297.6 1127.2 297.6 1126.3 297.6 1125.4 297.6 1124.5 297.6 1123.6 297.6 1122.7 297.6 1121.8 297.6 1120.9 297.6 1120 297.6 1119.1 297.6 1118.2 297.6 1117.3 297.6 1116.4 297.6 1115.5 298.4 1114.6 297.9 1113.7 297.3 1112.8 296.7 1111.9 296.1 1111 295.7 1110.1 295.5 1109.2 295.6 1108.3 296.1 1107.4 296.6 1106.5 297.2 1105.6 297.8 1104.7 298.4 1103.8 298.9 1102.9 299.1 1102 299 1101.1 298.6 1100.2 298 1099.3 297.5 1098.4 296.9 1097.5 296.3 1096.6 295.8 1095.7 295.5 1094.8 295.5 1093.9 296 1093 296.5 1092.1 297.1 1091.2 297.7 1090.3 298.2 1089.4 298.7 1088.5 299.1 1087.6 299.1 1086.7 298.7 1085.8 298.2 1084.9 297.6 1084 297 1083.1 296.5 1082.2 295.9 1081.3 295.5 1080.4 295.5 1079.5 295.8 1078.6 296.3 1077.7 296.9 1076.8 297.5 1075.9 298.1 1075 298.6 1074.1 299 1073.2 299.1 1072.3 298.8 1071.4 298.4 1070.5 297.8 1069.6 297.2 1068.7 296.6 1067.8 296.1 1066.9 295.6 1066 295.5 1065.1 295.7 1064.2 296.2 1063.3 296.7 1062.4 297.3 1061.5 297.9 1060.5 298.4 1059.6 298.9 1058.7 299.1 1057.8 299 1056.9 298.5 1056 298 1055.1 297.4 1054.2 296.8 1053.3 296.2 1052.4 295.7 1051.5 295.5 1050.6 295.6 1049.7 296 1048.8 296.6 1047.9 297.1 1047 297.7 1046.1 298.3 1045.2 298.8 1044.3 299.1 1043.4 299.1 1042.5 298.6 1041.6 298.1 1040.7 297.5 1039.8 296.9 1038.9 296.4 1038 295.9 1037.1 295.5Z" fill="#F7D6D8"/>
<path d="M1037.1 295.5 1038 295.9 1038.9 296.4 1039.8 296.9 1040.7 297.5 1041.6 298.1 1042.5 298.6 1043.4 299.1 1044.3 299.1 1045.2 298.8 1046.1 298.3 1047 297.7 1047.9 297.1 1048.8 296.6 1049.7 296 1050.6 295.6 1051.5 295.5 1052.4 295.7 1053.3 296.2 1054.2 296.8 1055.1 297.4 1056 298 1056.9 298.5 1057.8 299 1058.7 299.1 1059.6 298.9 1060.5 298.4 1061.5 297.9 1062.4 297.3 1063.3 296.7 1064.2 296.2 1065.1 295.7 1066 295.5 1066.9 295.6 1067.8 296.1 1068.7 296.6 1069.6 297.2 1070.5 297.8 1071.4 298.4 1072.3 298.8 1073.2 299.1 1074.1 299 1075 298.6 1075.9 298.1 1076.8 297.5 1077.7 296.9 1078.6 296.3 1079.5 295.8 1080.4 295.5 1081.3 295.5 1082.2 295.9 1083.1 296.5 1084 297 1084.9 297.6 1085.8 298.2 1086.7 298.7 1087.6 299.1 1088.5 299.1 1089.4 298.7 1090.3 298.2 1091.2 297.7 1092.1 297.1 1093 296.5 1093.9 296 1094.8 295.5 1095.7 295.5 1096.6 295.8 1097.5 296.3 1098.4 296.9 1099.3 297.5 1100.2 298 1101.1 298.6 1102 299 1102.9 299.1 1103.8 298.9 1104.7 298.4 1105.6 297.8 1106.5 297.2 1107.4 296.6 1108.3 296.1 1109.2 295.6 1110.1 295.5 1111 295.7 1111.9 296.1 1112.8 296.7 1113.7 297.3 1114.6 297.9 1115.5 298.4 1116.4 297.6 1117.3 297.6 1118.2 297.6 1119.1 297.6 1120 297.6 1120.9 297.6 1121.8 297.6 1122.7 297.6 1123.6 297.6 1124.5 297.6 1125.4 297.6 1126.3 297.6 1127.2 297.6 1128.1 297.6 1129 297.6 1129.9 297.6 1130.8 297.6 1131.7 297.6 1132.6 297.6 1133.5 297.6 1134.4 297.6 1135.3 297.6 1136.2 297.6 1137.1 297.6 1138 297.6 1138.9 297.6 1139.8 297.6 1140.7 297.6 1141.6 297.6 1142.5 297.6 1143.4 297.6 1144.3 297.6 1145.2 297.6 1146.1 297.6 1147 297.6 1147.9 297.6 1148.8 297.6 1149.7 297.6 1150.6 297.6 1151.5 297.6 1152.4 297.6 1153.3 297.6 1154.2 297.6 1155.1 297.6 1156 297.6 1156.9 297.6 1157.8 297.6 1158.7 297.6 1159.6 297.6 1160.5 297.6 1161.4 297.6 1162.3 297.6 1163.2 297.6 1164.1 297.6 1165 297.6 1165.9 297.6 1166.8 297.6 1167.7 297.6 1168.6 297.6 1169.5 297.6 1170.4 297.6 1171.3 297.6 1172.2 297.6 1173.1 297.6 1174 297.6 1174.9 297.6 1175.8 297.6 1176.7 297.6 1177.6 297.6 1178.5 297.6 1179.5 297.6 1180.4 297.6 1181.3 297.6 1182.2 297.6 1183.1 297.6 1184 297.6 1184.9 297.6 1185.8 297.6 1186.7 297.6 1187.6 297.6 1188.5 297.6 1189.4 297.6 1190.3 297.6 1191.2 297.6 L1191.16 511.5 1037.13 511.5Z" fill="#ACC2E4"/>
<rect x="1037.13" y="511.5" width="154.03" height="205.5" fill="#FCD5B1"/>
<rect x="1037.13" y="717" width="154.03" height="48.75" fill="#F7D6D8"/>
<rect x="1037.13" y="856.25" width="154.03" height="61.35" fill="#F7D6D8"/>
<path d="M1191.16 53 1345.19 53 L1345.2 298.7 1344.3 298.7 1343.4 298.7 1342.5 298.7 1341.6 298.7 1340.7 298.7 1339.8 298.7 1338.9 298.7 1338 298.7 1337.1 298.7 1336.2 298.7 1335.3 298.7 1334.4 298.7 1333.5 298.7 1332.6 298.7 1331.7 298.7 1330.8 298.7 1329.9 298.7 1329 298.7 1328.1 298.7 1327.2 298.7 1326.3 298.7 1325.4 298.7 1324.5 298.7 1323.6 298.7 1322.7 298.7 1321.8 298.7 1320.9 298.7 1320 298.7 1319.1 298.7 1318.2 298.7 1317.3 298.7 1316.4 298.7 1315.5 298.7 1314.6 298.7 1313.7 298.7 1312.8 298.7 1311.9 298.7 1311 298.7 1310.1 298.7 1309.2 298.7 1308.3 298.7 1307.4 298.7 1306.5 298.7 1305.6 298.7 1304.7 298.7 1303.8 298.7 1302.9 298.7 1302 298.7 1301.1 298.7 1300.2 298.7 1299.3 298.7 1298.4 298.7 1297.4 298.7 1296.5 298.7 1295.6 298.7 1294.7 298.7 1293.8 298.7 1292.9 298.7 1292 298.7 1291.1 298.7 1290.2 298.7 1289.3 298.7 1288.4 298.7 1287.5 298.7 1286.6 298.7 1285.7 298.7 1284.8 298.7 1283.9 298.7 1283 298.7 1282.1 298.7 1281.2 298.7 1280.3 298.7 1279.4 298.7 1278.5 298.7 1277.6 298.7 1276.7 298.7 1275.8 298.7 1274.9 298.7 1274 298.7 1273.1 298.7 1272.2 298.7 1271.3 298.7 1270.4 298.7 1269.5 299.5 1268.6 299 1267.7 298.4 1266.8 297.8 1265.9 297.2 1265 296.8 1264.1 296.6 1263.2 296.7 1262.3 297.2 1261.4 297.7 1260.5 298.3 1259.6 298.9 1258.7 299.5 1257.8 300 1256.9 300.2 1256 300.1 1255.1 299.7 1254.2 299.1 1253.3 298.6 1252.4 298 1251.5 297.4 1250.6 296.9 1249.7 296.6 1248.8 296.6 1247.9 297.1 1247 297.6 1246.1 298.2 1245.2 298.8 1244.3 299.3 1243.4 299.8 1242.5 300.2 1241.6 300.2 1240.7 299.8 1239.8 299.3 1238.9 298.7 1238 298.1 1237.1 297.6 1236.2 297 1235.3 296.6 1234.4 296.6 1233.5 296.9 1232.6 297.4 1231.7 298 1230.8 298.6 1229.9 299.2 1229 299.7 1228.1 300.1 1227.2 300.2 1226.3 299.9 1225.4 299.5 1224.5 298.9 1223.6 298.3 1222.7 297.7 1221.8 297.2 1220.9 296.7 1220 296.6 1219.1 296.8 1218.2 297.3 1217.3 297.8 1216.4 298.4 1215.5 299 1214.6 299.5 1213.7 300 1212.8 300.2 1211.9 300.1 1211 299.6 1210.1 299.1 1209.2 298.5 1208.3 297.9 1207.4 297.3 1206.5 296.8 1205.6 296.6 1204.7 296.7 1203.8 297.1 1202.9 297.7 1202 298.2 1201.1 298.8 1200.2 299.4 1199.3 299.9 1198.4 300.2 1197.5 300.2 1196.6 299.7 1195.7 299.2 1194.8 298.6 1193.9 298 1193 297.5 1192.1 297 1191.2 296.6Z" fill="#FEE391"/>
<path d="M1191.2 296.6 1192.1 297 1193 297.5 1193.9 298 1194.8 298.6 1195.7 299.2 1196.6 299.7 1197.5 300.2 1198.4 300.2 1199.3 299.9 1200.2 299.4 1201.1 298.8 1202 298.2 1202.9 297.7 1203.8 297.1 1204.7 296.7 1205.6 296.6 1206.5 296.8 1207.4 297.3 1208.3 297.9 1209.2 298.5 1210.1 299.1 1211 299.6 1211.9 300.1 1212.8 300.2 1213.7 300 1214.6 299.5 1215.5 299 1216.4 298.4 1217.3 297.8 1218.2 297.3 1219.1 296.8 1220 296.6 1220.9 296.7 1221.8 297.2 1222.7 297.7 1223.6 298.3 1224.5 298.9 1225.4 299.5 1226.3 299.9 1227.2 300.2 1228.1 300.1 1229 299.7 1229.9 299.2 1230.8 298.6 1231.7 298 1232.6 297.4 1233.5 296.9 1234.4 296.6 1235.3 296.6 1236.2 297 1237.1 297.6 1238 298.1 1238.9 298.7 1239.8 299.3 1240.7 299.8 1241.6 300.2 1242.5 300.2 1243.4 299.8 1244.3 299.3 1245.2 298.8 1246.1 298.2 1247 297.6 1247.9 297.1 1248.8 296.6 1249.7 296.6 1250.6 296.9 1251.5 297.4 1252.4 298 1253.3 298.6 1254.2 299.1 1255.1 299.7 1256 300.1 1256.9 300.2 1257.8 300 1258.7 299.5 1259.6 298.9 1260.5 298.3 1261.4 297.7 1262.3 297.2 1263.2 296.7 1264.1 296.6 1265 296.8 1265.9 297.2 1266.8 297.8 1267.7 298.4 1268.6 299 1269.5 299.5 1270.4 298.7 1271.3 298.7 1272.2 298.7 1273.1 298.7 1274 298.7 1274.9 298.7 1275.8 298.7 1276.7 298.7 1277.6 298.7 1278.5 298.7 1279.4 298.7 1280.3 298.7 1281.2 298.7 1282.1 298.7 1283 298.7 1283.9 298.7 1284.8 298.7 1285.7 298.7 1286.6 298.7 1287.5 298.7 1288.4 298.7 1289.3 298.7 1290.2 298.7 1291.1 298.7 1292 298.7 1292.9 298.7 1293.8 298.7 1294.7 298.7 1295.6 298.7 1296.5 298.7 1297.4 298.7 1298.4 298.7 1299.3 298.7 1300.2 298.7 1301.1 298.7 1302 298.7 1302.9 298.7 1303.8 298.7 1304.7 298.7 1305.6 298.7 1306.5 298.7 1307.4 298.7 1308.3 298.7 1309.2 298.7 1310.1 298.7 1311 298.7 1311.9 298.7 1312.8 298.7 1313.7 298.7 1314.6 298.7 1315.5 298.7 1316.4 298.7 1317.3 298.7 1318.2 298.7 1319.1 298.7 1320 298.7 1320.9 298.7 1321.8 298.7 1322.7 298.7 1323.6 298.7 1324.5 298.7 1325.4 298.7 1326.3 298.7 1327.2 298.7 1328.1 298.7 1329 298.7 1329.9 298.7 1330.8 298.7 1331.7 298.7 1332.6 298.7 1333.5 298.7 1334.4 298.7 1335.3 298.7 1336.2 298.7 1337.1 298.7 1338 298.7 1338.9 298.7 1339.8 298.7 1340.7 298.7 1341.6 298.7 1342.5 298.7 1343.4 298.7 1344.3 298.7 1345.2 298.7 L1345.2 517.5 1344.3 517.5 1343.4 517 1342.5 516.4 1341.6 515.7 1340.7 515 1339.8 514.3 1338.9 513.6 1338 513.1 1337.1 513.1 1336.2 513.5 1335.3 514.1 1334.4 514.8 1333.5 515.5 1332.6 516.2 1331.7 516.9 1330.8 517.4 1329.9 517.5 1329 517.2 1328.1 516.6 1327.2 515.9 1326.3 515.2 1325.4 514.5 1324.5 513.8 1323.6 513.3 1322.7 513.1 1321.8 513.4 1320.9 513.9 1320 514.6 1319.1 515.3 1318.2 516 1317.3 516.7 1316.4 517.3 1315.5 517.5 1314.6 517.3 1313.7 516.8 1312.8 516.1 1311.9 515.4 1311 514.7 1310.1 514 1309.2 513.4 1308.3 513.1 1307.4 513.2 1306.5 513.8 1305.6 514.4 1304.7 515.1 1303.8 515.8 1302.9 516.5 1302 517.1 1301.1 517.5 1300.2 517.4 1299.3 516.9 1298.4 516.3 1297.4 515.6 1296.5 514.9 1295.6 514.2 1294.7 513.6 1293.8 513.1 1292.9 513.1 1292 513.6 1291.1 514.2 1290.2 514.9 1289.3 515.6 1288.4 516.3 1287.5 517 1286.6 517.5 1285.7 517.5 1284.8 517.1 1283.9 516.5 1283 515.8 1282.1 515.1 1281.2 514.4 1280.3 513.7 1279.4 513.2 1278.5 513.1 1277.6 513.4 1276.7 514 1275.8 514.7 1274.9 515.4 1274 516.1 1273.1 516.8 1272.2 517.3 1271.3 517.5 1270.4 517.2 1269.5 516.7 1268.6 516 1267.7 515.3 1266.8 514.6 1265.9 513.9 1265 513.3 1264.1 513.1 1263.2 513.3 1262.3 513.8 1261.4 514.5 1260.5 515.2 1259.6 515.9 1258.7 516.6 1257.8 517.2 1256.9 517.5 1256 517.4 1255.1 516.8 1254.2 516.2 1253.3 515.5 1252.4 514.8 1251.5 514.1 1250.6 513.5 1249.7 513.1 1248.8 513.2 1247.9 513.7 1247 514.3 1246.1 515 1245.2 515.7 1244.3 516.4 1243.4 517 1242.5 517.5 1241.6 517.5 1240.7 517 1239.8 516.4 1238.9 515.7 1238 515 1237.1 514.3 1236.2 513.6 1235.3 513.1 1234.4 513.1 1233.5 513.5 1232.6 514.1 1231.7 514.8 1230.8 515.5 1229.9 516.2 1229 516.9 1228.1 517.4 1227.2 517.5 1226.3 517.2 1225.4 516.6 1224.5 515.9 1223.6 515.2 1222.7 514.5 1221.8 513.8 1220.9 513.3 1220 513.1 1219.1 513.4 1218.2 513.9 1217.3 514.6 1216.4 515.3 1215.5 516 1214.6 516.7 1213.7 517.3 1212.8 517.5 1211.9 517.3 1211 516.8 1210.1 516.1 1209.2 515.4 1208.3 514.7 1207.4 514 1206.5 513.4 1205.6 513.1 1204.7 513.2 1203.8 513.8 1202.9 514.4 1202 515.1 1201.1 515.8 1200.2 516.5 1199.3 517.1 1198.4 517.5 1197.5 517.4 1196.6 516.9 1195.7 516.3 1194.8 515.6 1193.9 514.9 1193 514.2 1192.1 513.6 1191.2 513.1Z" fill="#FEE391"/>
<path d="M1191.2 513.1 1192.1 513.6 1193 514.2 1193.9 514.9 1194.8 515.6 1195.7 516.3 1196.6 516.9 1197.5 517.4 1198.4 517.5 1199.3 517.1 1200.2 516.5 1201.1 515.8 1202 515.1 1202.9 514.4 1203.8 513.8 1204.7 513.2 1205.6 513.1 1206.5 513.4 1207.4 514 1208.3 514.7 1209.2 515.4 1210.1 516.1 1211 516.8 1211.9 517.3 1212.8 517.5 1213.7 517.3 1214.6 516.7 1215.5 516 1216.4 515.3 1217.3 514.6 1218.2 513.9 1219.1 513.4 1220 513.1 1220.9 513.3 1221.8 513.8 1222.7 514.5 1223.6 515.2 1224.5 515.9 1225.4 516.6 1226.3 517.2 1227.2 517.5 1228.1 517.4 1229 516.9 1229.9 516.2 1230.8 515.5 1231.7 514.8 1232.6 514.1 1233.5 513.5 1234.4 513.1 1235.3 513.1 1236.2 513.6 1237.1 514.3 1238 515 1238.9 515.7 1239.8 516.4 1240.7 517 1241.6 517.5 1242.5 517.5 1243.4 517 1244.3 516.4 1245.2 515.7 1246.1 515 1247 514.3 1247.9 513.7 1248.8 513.2 1249.7 513.1 1250.6 513.5 1251.5 514.1 1252.4 514.8 1253.3 515.5 1254.2 516.2 1255.1 516.8 1256 517.4 1256.9 517.5 1257.8 517.2 1258.7 516.6 1259.6 515.9 1260.5 515.2 1261.4 514.5 1262.3 513.8 1263.2 513.3 1264.1 513.1 1265 513.3 1265.9 513.9 1266.8 514.6 1267.7 515.3 1268.6 516 1269.5 516.7 1270.4 517.2 1271.3 517.5 1272.2 517.3 1273.1 516.8 1274 516.1 1274.9 515.4 1275.8 514.7 1276.7 514 1277.6 513.4 1278.5 513.1 1279.4 513.2 1280.3 513.7 1281.2 514.4 1282.1 515.1 1283 515.8 1283.9 516.5 1284.8 517.1 1285.7 517.5 1286.6 517.5 1287.5 517 1288.4 516.3 1289.3 515.6 1290.2 514.9 1291.1 514.2 1292 513.6 1292.9 513.1 1293.8 513.1 1294.7 513.6 1295.6 514.2 1296.5 514.9 1297.4 515.6 1298.4 516.3 1299.3 516.9 1300.2 517.4 1301.1 517.5 1302 517.1 1302.9 516.5 1303.8 515.8 1304.7 515.1 1305.6 514.4 1306.5 513.8 1307.4 513.2 1308.3 513.1 1309.2 513.4 1310.1 514 1311 514.7 1311.9 515.4 1312.8 516.1 1313.7 516.8 1314.6 517.3 1315.5 517.5 1316.4 517.3 1317.3 516.7 1318.2 516 1319.1 515.3 1320 514.6 1320.9 513.9 1321.8 513.4 1322.7 513.1 1323.6 513.3 1324.5 513.8 1325.4 514.5 1326.3 515.2 1327.2 515.9 1328.1 516.6 1329 517.2 1329.9 517.5 1330.8 517.4 1331.7 516.9 1332.6 516.2 1333.5 515.5 1334.4 514.8 1335.3 514.1 1336.2 513.5 1337.1 513.1 1338 513.1 1338.9 513.6 1339.8 514.3 1340.7 515 1341.6 515.7 1342.5 516.4 1343.4 517 1344.3 517.5 1345.2 517.5 L1345.19 660.75 1191.16 660.75Z" fill="#ACC2E4"/>
<rect x="1191.16" y="660.75" width="154.03" height="53.75" fill="#FCD5B1"/>
<rect x="1191.16" y="856.5" width="154.03" height="61.1" fill="#F7D6D8"/>
<path d="M1345.19 53 1499.22 53 L1499.2 190.7 1498.3 190.3 1497.4 189.7 1496.5 189.1 1495.6 188.5 1494.7 187.9 1493.8 187.3 1492.9 186.7 1492 186.5 1491.1 187 1490.2 187.6 1489.3 188.2 1488.4 188.8 1487.5 189.4 1486.6 190 1485.7 190.6 1484.8 190.7 1483.9 190.1 1483 189.5 1482.1 188.8 1481.2 188.2 1480.3 187.6 1479.4 187 1478.5 186.5 1477.6 186.7 1476.7 187.3 1475.8 187.9 1474.9 188.5 1474 189.1 1473.1 189.7 1472.2 190.3 1471.3 190.7 1470.4 190.4 1469.5 189.8 1468.6 189.2 1467.7 188.6 1466.8 188 1465.9 187.4 1465 186.8 1464.1 186.5 1463.2 186.9 1462.3 187.6 1461.4 188.2 1460.5 188.8 1459.6 189.4 1458.7 190 1457.8 190.6 1456.9 190.7 1456 190.1 1455.1 189.5 1454.2 188.9 1453.3 188.3 1452.4 187.7 1451.5 187.1 1450.6 186.5 1449.7 186.6 1448.8 187.2 1447.9 187.8 1447 188.4 1446.1 189 1445.2 189.6 1444.3 190.2 1443.4 190.7 1442.5 190.4 1441.6 189.8 1440.7 189.2 1439.8 188.6 1438.9 188 1438 187.4 1437.1 186.8 1436.2 186.5 1435.3 186.9 1434.4 187.5 1433.5 188.1 1432.6 188.7 1431.7 189.3 1430.8 189.9 1429.9 190.5 1429 190.7 1428.1 190.2 1427.2 189.6 1426.3 189 1425.4 188.4 1424.5 187.8 1423.6 187.1 1422.7 186.5 1421.8 186.6 1420.9 187.2 1420 187.8 1419.1 188.4 1418.2 189 1417.3 189.6 1416.4 190.2 1415.4 190.7 1414.5 190.5 1413.6 189.9 1412.7 189.3 1411.8 188.7 1410.9 188.1 1410 187.5 1409.1 186.9 1408.2 186.5 1407.3 186.8 1406.4 187.4 1405.5 188 1404.6 188.6 1403.7 189.3 1402.8 189.9 1401.9 190.5 1401 190.7 1400.1 190.2 1399.2 189.6 1398.3 189 1397.4 188.4 1396.5 187.8 1395.6 187.2 1394.7 186.6 1393.8 186.5 1392.9 187.1 1392 187.7 1391.1 188.3 1390.2 188.9 1389.3 189.5 1388.4 190.1 1387.5 190.7 1386.6 190.6 1385.7 190 1384.8 189.4 1383.9 188.7 1383 188.1 1382.1 187.5 1381.2 186.9 1380.3 186.5 1379.4 186.8 1378.5 187.4 1377.6 188 1376.7 188.6 1375.8 189.2 1374.9 189.8 1374 190.4 1373.1 190.7 1372.2 190.3 1371.3 189.7 1370.4 189.1 1369.5 188.5 1368.6 187.9 1367.7 187.3 1366.8 186.7 1365.9 186.5 1365 187 1364.1 187.7 1363.2 188.3 1362.3 188.9 1361.4 189.5 1360.5 190.1 1359.6 190.7 1358.7 190.6 1357.8 190 1356.9 189.4 1356 188.8 1355.1 188.2 1354.2 187.6 1353.3 187 1352.4 186.5 1351.5 186.7 1350.6 187.3 1349.7 187.9 1348.8 188.5 1347.9 189.1 1347 189.7 1346.1 190.3 1345.2 190.7Z" fill="#F7D6D8"/>
<path d="M1345.2 298.4 1346.1 298 1347 297.4 1347.9 296.8 1348.8 296.2 1349.7 295.6 1350.6 295 1351.5 294.4 1352.4 294.2 1353.3 294.7 1354.2 295.3 1355.1 295.9 1356 296.5 1356.9 297.1 1357.8 297.7 1358.7 298.3 1359.6 298.4 1360.5 297.8 1361.4 297.2 1362.3 296.6 1363.2 296 1364.1 295.4 1365 294.7 1365.9 294.2 1366.8 294.4 1367.7 295 1368.6 295.6 1369.5 296.2 1370.4 296.8 1371.3 297.4 1372.2 298 1373.1 298.4 1374 298.1 1374.9 297.5 1375.8 296.9 1376.7 296.3 1377.6 295.7 1378.5 295.1 1379.4 294.5 1380.3 294.2 1381.2 294.6 1382.1 295.2 1383 295.8 1383.9 296.4 1384.8 297.1 1385.7 297.7 1386.6 298.3 1387.5 298.4 1388.4 297.8 1389.3 297.2 1390.2 296.6 1391.1 296 1392 295.4 1392.9 294.8 1393.8 294.2 1394.7 294.3 1395.6 294.9 1396.5 295.5 1397.4 296.1 1398.3 296.7 1399.2 297.3 1400.1 297.9 1401 298.4 1401.9 298.2 1402.8 297.6 1403.7 297 1404.6 296.3 1405.5 295.7 1406.4 295.1 1407.3 294.5 1408.2 294.2 1409.1 294.6 1410 295.2 1410.9 295.8 1411.8 296.4 1412.7 297 1413.6 297.6 1414.5 298.2 1415.4 298.4 1416.4 297.9 1417.3 297.3 1418.2 296.7 1419.1 296.1 1420 295.5 1420.9 294.9 1421.8 294.3 1422.7 294.2 1423.6 294.8 1424.5 295.5 1425.4 296.1 1426.3 296.7 1427.2 297.3 1428.1 297.9 1429 298.4 1429.9 298.2 1430.8 297.6 1431.7 297 1432.6 296.4 1433.5 295.8 1434.4 295.2 1435.3 294.6 1436.2 294.2 1437.1 294.5 1438 295.1 1438.9 295.7 1439.8 296.3 1440.7 296.9 1441.6 297.5 1442.5 298.1 1443.4 298.4 1444.3 297.9 1445.2 297.3 1446.1 296.7 1447 296.1 1447.9 295.5 1448.8 294.9 1449.7 294.3 1450.6 294.2 1451.5 294.8 1452.4 295.4 1453.3 296 1454.2 296.6 1455.1 297.2 1456 297.8 1456.9 298.4 1457.8 298.3 1458.7 297.7 1459.6 297.1 1460.5 296.5 1461.4 295.9 1462.3 295.3 1463.2 294.6 1464.1 294.2 1465 294.5 1465.9 295.1 1466.8 295.7 1467.7 296.3 1468.6 296.9 1469.5 297.5 1470.4 298.1 1471.3 298.4 1472.2 298 1473.1 297.4 1474 296.8 1474.9 296.2 1475.8 295.6 1476.7 295 1477.6 294.4 1478.5 294.2 1479.4 294.7 1480.3 295.3 1481.2 295.9 1482.1 296.5 1483 297.2 1483.9 297.8 1484.8 298.4 1485.7 298.3 1486.6 297.7 1487.5 297.1 1488.4 296.5 1489.3 295.9 1490.2 295.3 1491.1 294.7 1492 294.2 1492.9 294.4 1493.8 295 1494.7 295.6 1495.6 296.2 1496.5 296.8 1497.4 297.4 1498.3 298 1499.2 298.4 L1499.22 408 1345.19 408Z" fill="#ACC2E4"/>
<path d="M1345.19 408 1499.22 408 L1499.2 513.2 1498.3 513.2 1497.4 513.7 1496.5 514.3 1495.6 515 1494.7 515.8 1493.8 516.5 1492.9 517.1 1492 517.6 1491.1 517.6 1490.2 517.2 1489.3 516.6 1488.4 515.9 1487.5 515.1 1486.6 514.4 1485.7 513.8 1484.8 513.3 1483.9 513.2 1483 513.6 1482.1 514.1 1481.2 514.8 1480.3 515.5 1479.4 516.3 1478.5 516.9 1477.6 517.4 1476.7 517.6 1475.8 517.3 1474.9 516.7 1474 516.1 1473.1 515.4 1472.2 514.6 1471.3 514 1470.4 513.4 1469.5 513.2 1468.6 513.4 1467.7 514 1466.8 514.6 1465.9 515.3 1465 516.1 1464.1 516.7 1463.2 517.3 1462.3 517.6 1461.4 517.5 1460.5 516.9 1459.6 516.3 1458.7 515.6 1457.8 514.8 1456.9 514.2 1456 513.6 1455.1 513.2 1454.2 513.3 1453.3 513.8 1452.4 514.4 1451.5 515.1 1450.6 515.9 1449.7 516.6 1448.8 517.2 1447.9 517.6 1447 517.6 1446.1 517.1 1445.2 516.5 1444.3 515.8 1443.4 515 1442.5 514.3 1441.6 513.7 1440.7 513.2 1439.8 513.2 1438.9 513.6 1438 514.2 1437.1 514.9 1436.2 515.7 1435.3 516.4 1434.4 517 1433.5 517.5 1432.6 517.6 1431.7 517.2 1430.8 516.7 1429.9 516 1429 515.3 1428.1 514.5 1427.2 513.9 1426.3 513.4 1425.4 513.2 1424.5 513.5 1423.6 514 1422.7 514.7 1421.8 515.4 1420.9 516.2 1420 516.8 1419.1 517.4 1418.2 517.6 1417.3 517.4 1416.4 516.8 1415.4 516.2 1414.5 515.5 1413.6 514.7 1412.7 514.1 1411.8 513.5 1410.9 513.2 1410 513.3 1409.1 513.9 1408.2 514.5 1407.3 515.2 1406.4 516 1405.5 516.6 1404.6 517.2 1403.7 517.6 1402.8 517.5 1401.9 517 1401 516.4 1400.1 515.7 1399.2 514.9 1398.3 514.2 1397.4 513.6 1396.5 513.2 1395.6 513.2 1394.7 513.7 1393.8 514.3 1392.9 515 1392 515.8 1391.1 516.5 1390.2 517.1 1389.3 517.6 1388.4 517.6 1387.5 517.2 1386.6 516.6 1385.7 515.9 1384.8 515.1 1383.9 514.4 1383 513.8 1382.1 513.3 1381.2 513.2 1380.3 513.6 1379.4 514.1 1378.5 514.8 1377.6 515.5 1376.7 516.3 1375.8 516.9 1374.9 517.4 1374 517.6 1373.1 517.3 1372.2 516.8 1371.3 516.1 1370.4 515.4 1369.5 514.6 1368.6 514 1367.7 513.4 1366.8 513.2 1365.9 513.4 1365 514 1364.1 514.6 1363.2 515.3 1362.3 516.1 1361.4 516.7 1360.5 517.3 1359.6 517.6 1358.7 517.5 1357.8 516.9 1356.9 516.3 1356 515.6 1355.1 514.8 1354.2 514.2 1353.3 513.6 1352.4 513.2 1351.5 513.3 1350.6 513.8 1349.7 514.4 1348.8 515.1 1347.9 515.9 1347 516.5 1346.1 517.2 1345.2 517.6Z" fill="#ACC2E4"/>
<path d="M1345.2 517.6 1346.1 517.2 1347 516.5 1347.9 515.9 1348.8 515.1 1349.7 514.4 1350.6 513.8 1351.5 513.3 1352.4 513.2 1353.3 513.6 1354.2 514.2 1355.1 514.8 1356 515.6 1356.9 516.3 1357.8 516.9 1358.7 517.5 1359.6 517.6 1360.5 517.3 1361.4 516.7 1362.3 516.1 1363.2 515.3 1364.1 514.6 1365 514 1365.9 513.4 1366.8 513.2 1367.7 513.4 1368.6 514 1369.5 514.6 1370.4 515.4 1371.3 516.1 1372.2 516.8 1373.1 517.3 1374 517.6 1374.9 517.4 1375.8 516.9 1376.7 516.3 1377.6 515.5 1378.5 514.8 1379.4 514.1 1380.3 513.6 1381.2 513.2 1382.1 513.3 1383 513.8 1383.9 514.4 1384.8 515.1 1385.7 515.9 1386.6 516.6 1387.5 517.2 1388.4 517.6 1389.3 517.6 1390.2 517.1 1391.1 516.5 1392 515.8 1392.9 515 1393.8 514.3 1394.7 513.7 1395.6 513.2 1396.5 513.2 1397.4 513.6 1398.3 514.2 1399.2 514.9 1400.1 515.7 1401 516.4 1401.9 517 1402.8 517.5 1403.7 517.6 1404.6 517.2 1405.5 516.6 1406.4 516 1407.3 515.2 1408.2 514.5 1409.1 513.9 1410 513.3 1410.9 513.2 1411.8 513.5 1412.7 514.1 1413.6 514.7 1414.5 515.5 1415.4 516.2 1416.4 516.8 1417.3 517.4 1418.2 517.6 1419.1 517.4 1420 516.8 1420.9 516.2 1421.8 515.4 1422.7 514.7 1423.6 514 1424.5 513.5 1425.4 513.2 1426.3 513.4 1427.2 513.9 1428.1 514.5 1429 515.3 1429.9 516 1430.8 516.7 1431.7 517.2 1432.6 517.6 1433.5 517.5 1434.4 517 1435.3 516.4 1436.2 515.7 1437.1 514.9 1438 514.2 1438.9 513.6 1439.8 513.2 1440.7 513.2 1441.6 513.7 1442.5 514.3 1443.4 515 1444.3 515.8 1445.2 516.5 1446.1 517.1 1447 517.6 1447.9 517.6 1448.8 517.2 1449.7 516.6 1450.6 515.9 1451.5 515.1 1452.4 514.4 1453.3 513.8 1454.2 513.3 1455.1 513.2 1456 513.6 1456.9 514.2 1457.8 514.8 1458.7 515.6 1459.6 516.3 1460.5 516.9 1461.4 517.5 1462.3 517.6 1463.2 517.3 1464.1 516.7 1465 516.1 1465.9 515.3 1466.8 514.6 1467.7 514 1468.6 513.4 1469.5 513.2 1470.4 513.4 1471.3 514 1472.2 514.6 1473.1 515.4 1474 516.1 1474.9 516.7 1475.8 517.3 1476.7 517.6 1477.6 517.4 1478.5 516.9 1479.4 516.3 1480.3 515.5 1481.2 514.8 1482.1 514.1 1483 513.6 1483.9 513.2 1484.8 513.3 1485.7 513.8 1486.6 514.4 1487.5 515.1 1488.4 515.9 1489.3 516.6 1490.2 517.2 1491.1 517.6 1492 517.6 1492.9 517.1 1493.8 516.5 1494.7 515.8 1495.6 515 1496.5 514.3 1497.4 513.7 1498.3 513.2 1499.2 513.2 L1499.2 656.5 1498.3 656.6 1497.4 657.1 1496.5 657.7 1495.6 658.4 1494.7 659.1 1493.8 659.8 1492.9 660.4 1492 660.9 1491.1 660.9 1490.2 660.4 1489.3 659.8 1488.4 659.1 1487.5 658.4 1486.6 657.7 1485.7 657 1484.8 656.5 1483.9 656.5 1483 656.9 1482.1 657.5 1481.2 658.2 1480.3 658.9 1479.4 659.6 1478.5 660.3 1477.6 660.8 1476.7 660.9 1475.8 660.6 1474.9 660 1474 659.3 1473.1 658.6 1472.2 657.9 1471.3 657.2 1470.4 656.7 1469.5 656.5 1468.6 656.8 1467.7 657.3 1466.8 658 1465.9 658.7 1465 659.4 1464.1 660.1 1463.2 660.7 1462.3 660.9 1461.4 660.7 1460.5 660.2 1459.6 659.5 1458.7 658.8 1457.8 658.1 1456.9 657.4 1456 656.8 1455.1 656.5 1454.2 656.6 1453.3 657.2 1452.4 657.8 1451.5 658.5 1450.6 659.2 1449.7 659.9 1448.8 660.5 1447.9 660.9 1447 660.8 1446.1 660.3 1445.2 659.7 1444.3 659 1443.4 658.3 1442.5 657.6 1441.6 657 1440.7 656.5 1439.8 656.5 1438.9 657 1438 657.6 1437.1 658.3 1436.2 659 1435.3 659.7 1434.4 660.4 1433.5 660.9 1432.6 660.9 1431.7 660.5 1430.8 659.9 1429.9 659.2 1429 658.5 1428.1 657.8 1427.2 657.1 1426.3 656.6 1425.4 656.5 1424.5 656.8 1423.6 657.4 1422.7 658.1 1421.8 658.8 1420.9 659.5 1420 660.2 1419.1 660.7 1418.2 660.9 1417.3 660.6 1416.4 660.1 1415.4 659.4 1414.5 658.7 1413.6 658 1412.7 657.3 1411.8 656.7 1410.9 656.5 1410 656.7 1409.1 657.2 1408.2 657.9 1407.3 658.6 1406.4 659.3 1405.5 660 1404.6 660.6 1403.7 660.9 1402.8 660.8 1401.9 660.2 1401 659.6 1400.1 658.9 1399.2 658.2 1398.3 657.5 1397.4 656.9 1396.5 656.5 1395.6 656.6 1394.7 657.1 1393.8 657.7 1392.9 658.4 1392 659.1 1391.1 659.8 1390.2 660.4 1389.3 660.9 1388.4 660.9 1387.5 660.4 1386.6 659.8 1385.7 659.1 1384.8 658.4 1383.9 657.7 1383 657 1382.1 656.5 1381.2 656.5 1380.3 656.9 1379.4 657.5 1378.5 658.2 1377.6 658.9 1376.7 659.6 1375.8 660.3 1374.9 660.8 1374 660.9 1373.1 660.6 1372.2 660 1371.3 659.3 1370.4 658.6 1369.5 657.9 1368.6 657.2 1367.7 656.7 1366.8 656.5 1365.9 656.8 1365 657.3 1364.1 658 1363.2 658.7 1362.3 659.4 1361.4 660.1 1360.5 660.7 1359.6 660.9 1358.7 660.7 1357.8 660.2 1356.9 659.5 1356 658.8 1355.1 658.1 1354.2 657.4 1353.3 656.8 1352.4 656.5 1351.5 656.6 1350.6 657.2 1349.7 657.8 1348.8 658.5 1347.9 659.2 1347 659.9 1346.1 660.5 1345.2 660.9Z" fill="#ACC2E4"/>
<path d="M112.95 167.5H266.98M112.95 193.5H266.98M112.95 337.5H266.98M112.95 362.5H266.98M112.95 499.25H266.98M112.95 615.5H266.98M266.98 167.5H421.01M266.98 193.5H421.01M266.98 407.5H421.01M266.98 557H421.01M266.98 642.5H421.01M421.01 167.5H575.04M421.01 193.5H575.04M421.01 248.5H575.04M421.01 337H575.04M421.01 511.5H575.04M575.04 167.5H729.07M575.04 353H729.07M575.04 511.5H729.07M729.07 167.5H883.1M729.07 194.5H883.1M729.07 235.75H883.1M729.07 511.5H883.1M883.1 257.5H1037.13M883.1 511.5H1037.13M1037.13 511.5H1191.16M1191.16 660.75H1345.19M1345.19 408H1499.22" stroke="rgba(0,0,0,.66)" stroke-width="1.3" fill="none"/>
<path d="M113.95 713H266.98M113.95 856.5H266.98M422.01 621.75H575.04M730.07 297H883.1M884.1 671.25H1037.13M884.1 765.75H1037.13M1038.13 717H1191.16M1038.13 765.75H1191.16M1038.13 856.25H1191.16M1192.16 714.5H1345.19M1192.16 856.5H1345.19" stroke="rgba(0,0,0,.66)" stroke-width="1.45" stroke-dasharray="2.3 2.9" fill="none"/>
<path d="M267.98 338.6H421.01M653 297H729.07M961 296.6H1037.13M1116 297.6H1191.16M1270 298.7H1345.19" stroke="rgba(0,0,0,.66)" stroke-width="1.4" stroke-dasharray="2 1.1" fill="none"/>
<path d="M267 713.3 267.9 713.5 268.8 713.9 269.7 714.4 270.6 714.9 271.5 715.4 272.4 716 273.3 716.4 274.2 716.8 275.1 717.1 276 717.2 276.9 717.2 277.8 717 278.7 716.7 279.6 716.2 280.5 715.7 281.4 715.2 282.3 714.6 283.2 714.1 284.1 713.7 285 713.4 285.9 713.2 286.8 713.2 287.7 713.3 288.6 713.6 289.5 714 290.4 714.5 291.3 715 292.2 715.6 293.1 716.1 294 716.5 294.9 716.9 295.8 717.1 296.7 717.2 297.6 717.1 298.5 716.9 299.4 716.6 300.3 716.1 301.2 715.6 302.1 715 303 714.5 303.9 714 304.8 713.6 305.7 713.3 306.6 713.2 307.5 713.2 308.4 713.4 309.3 713.7 310.2 714.1 311.1 714.6 312 715.1 312.9 715.7 313.8 716.2 314.7 716.6 315.6 717 316.5 717.2 317.4 717.2 318.3 717.1 319.2 716.8 320.1 716.5 321 716 321.9 715.5 322.8 714.9 323.7 714.4 324.6 713.9 325.5 713.5 326.4 713.3 327.3 713.2 328.2 713.3 329.1 713.5 330 713.8 330.9 714.2 331.8 714.7 332.7 715.3 333.6 715.8 334.5 716.3 335.4 716.7 336.3 717 337.2 717.2 338.1 717.2 339 717 339.9 716.8 340.8 716.4 341.7 715.9 342.6 715.3 343.5 714.8 344.4 714.3 345.3 713.8 346.2 713.5 347.1 713.3 348 713.2 348.9 713.3 349.8 713.5 350.8 713.9 351.7 714.3 352.6 714.9 353.5 715.4 354.4 715.9 355.3 716.4 356.2 716.8 357.1 717.1 358 717.2 358.9 717.2 359.8 717 360.7 716.7 361.6 716.2 362.5 715.7 363.4 715.2 364.3 714.7 365.2 714.1 366.1 713.7 367 713.4 367.9 713.2 368.8 713.2 369.7 713.3 370.6 713.6 371.5 714 372.4 714.5 373.3 715 374.2 715.5 375.1 716.1 376 716.5 376.9 716.9 377.8 717.1 378.7 717.2 379.6 717.1 380.5 716.9 381.4 716.6 382.3 716.1 383.2 715.6 384.1 715.1 385 714.5 385.9 714 386.8 713.6 387.7 713.4 388.6 713.2 389.5 713.2 390.4 713.4 391.3 713.7 392.2 714.1 393.1 714.6 394 715.1 394.9 715.7 395.8 716.2 396.7 716.6 397.6 717 398.5 717.1 399.4 717.2 400.3 717.1 401.2 716.8 402.1 716.5 403 716 403.9 715.5 404.8 714.9 405.7 714.4 406.6 713.9 407.5 713.6 408.4 713.3 409.3 713.2 410.2 713.2 411.1 713.4 412 713.8 412.9 714.2 413.8 714.7 414.7 715.3 415.6 715.8 416.5 716.3 417.4 716.7 418.3 717 419.2 717.2 420.1 717.2 421 717M575 294.9 575.9 295.3 576.8 295.8 577.7 296.3 578.6 296.9 579.5 297.5 580.4 298 581.3 298.4 582.2 298.5 583.1 298.2 584 297.7 584.9 297.2 585.8 296.6 586.7 296 587.6 295.5 588.5 295 589.4 294.9 590.3 295.1 591.2 295.6 592.1 296.1 593 296.7 593.9 297.3 594.8 297.8 595.7 298.3 596.5 298.5 597.4 298.4 598.3 297.9 599.2 297.4 600.1 296.8 601 296.2 601.9 295.6 602.8 295.2 603.7 294.9 604.6 295 605.5 295.4 606.4 295.9 607.3 296.5 608.2 297.1 609.1 297.7 610 298.1 610.9 298.5 611.8 298.5 612.7 298.1 613.6 297.6 614.5 297 615.4 296.4 616.3 295.8 617.2 295.3 618.1 294.9 618.9 294.9 619.8 295.2 620.7 295.7 621.6 296.3 622.5 296.9 623.4 297.4 624.3 298 625.2 298.4 626.1 298.5 627 298.3 627.9 297.8 628.8 297.2 629.7 296.6 630.6 296.1 631.5 295.5 632.4 295.1 633.3 294.9 634.2 295.1 635.1 295.5 636 296.1 636.9 296.6 637.8 297.2 638.7 297.8 639.6 298.3 640.5 298.5 641.4 298.4 642.2 298 643.1 297.4 644 296.9 644.9 296.3 645.8 295.7 646.7 295.2 647.6 294.9 648.5 294.9 649.4 295.3 650.3 295.8 651.2 296.4 652.1 297 653 297.6M575 715.1 575.9 715.3 576.8 715.7 577.7 716.2 578.6 716.7 579.5 717.2 580.4 717.8 581.3 718.2 582.2 718.6 583.1 718.9 584 719 584.9 719 585.8 718.8 586.7 718.5 587.7 718 588.6 717.5 589.5 717 590.4 716.4 591.3 715.9 592.2 715.5 593.1 715.2 594 715 594.9 715 595.8 715.1 596.7 715.4 597.6 715.8 598.5 716.3 599.4 716.8 600.3 717.4 601.2 717.9 602.1 718.3 603 718.7 603.9 718.9 604.8 719 605.7 718.9 606.6 718.7 607.5 718.4 608.4 717.9 609.3 717.4 610.2 716.8 611.1 716.3 612 715.8 612.9 715.4 613.8 715.1 614.7 715 615.6 715 616.5 715.2 617.4 715.5 618.3 715.9 619.2 716.4 620.1 716.9 621 717.5 621.9 718 622.8 718.4 623.7 718.8 624.6 719 625.5 719 626.4 718.9 627.3 718.6 628.2 718.3 629.1 717.8 630 717.3 630.9 716.7 631.8 716.2 632.7 715.7 633.6 715.3 634.5 715.1 635.4 715 636.3 715.1 637.2 715.3 638.1 715.6 639 716 639.9 716.5 640.8 717.1 641.7 717.6 642.6 718.1 643.5 718.5 644.4 718.8 645.3 719 646.2 719 647.1 718.8 648 718.6 648.9 718.2 649.8 717.7 650.7 717.1 651.6 716.6 652.5 716.1 653.4 715.6 654.3 715.3 655.2 715.1 656.1 715 657 715.1 657.9 715.3 658.8 715.7 659.7 716.1 660.6 716.7 661.5 717.2 662.4 717.7 663.3 718.2 664.2 718.6 665.1 718.9 666 719 666.9 719 667.8 718.8 668.7 718.5 669.6 718 670.5 717.5 671.4 717 672.3 716.5 673.2 715.9 674.1 715.5 675 715.2 675.9 715 676.8 715 677.7 715.1 678.6 715.4 679.5 715.8 680.4 716.3 681.3 716.8 682.2 717.3 683.1 717.9 684 718.3 684.9 718.7 685.8 718.9 686.7 719 687.6 718.9 688.5 718.7 689.4 718.4 690.3 717.9 691.2 717.4 692.1 716.9 693 716.3 693.9 715.8 694.8 715.4 695.7 715.2 696.6 715 697.5 715 698.4 715.2 699.3 715.5 700.2 715.9 701.1 716.4 702 716.9 702.9 717.5 703.8 718 704.7 718.4 705.7 718.8 706.6 718.9 707.5 719 708.4 718.9 709.3 718.6 710.2 718.3 711.1 717.8 712 717.3 712.9 716.7 713.8 716.2 714.7 715.7 715.6 715.4 716.5 715.1 717.4 715 718.3 715 719.2 715.2 720.1 715.6 721 716 721.9 716.5 722.8 717.1 723.7 717.6 724.6 718.1 725.5 718.5 726.4 718.8 727.3 719 728.2 719 729.1 718.8M729.1 715.6 730 716 730.9 716.5 731.8 717 732.7 717.6 733.6 718.1 734.5 718.5 735.4 718.8 736.3 719 737.2 719 738.1 718.9 739 718.6 739.9 718.2 740.8 717.7 741.7 717.2 742.6 716.6 743.5 716.1 744.4 715.6 745.3 715.3 746.2 715.1 747.1 715 748 715.1 748.9 715.3 749.8 715.7 750.7 716.1 751.6 716.6 752.5 717.2 753.4 717.7 754.3 718.2 755.2 718.6 756.1 718.9 757 719 757.9 719 758.8 718.8 759.7 718.5 760.6 718.1 761.5 717.6 762.4 717 763.3 716.5 764.2 716 765.1 715.5 766 715.2 766.9 715 767.8 715 768.7 715.1 769.6 715.4 770.5 715.8 771.4 716.2 772.3 716.8 773.2 717.3 774.1 717.8 775 718.3 775.9 718.7 776.8 718.9 777.7 719 778.6 718.9 779.5 718.7 780.4 718.4 781.3 718 782.2 717.4 783.1 716.9 784 716.4 784.9 715.9 785.8 715.5 786.7 715.2 787.6 715 788.5 715 789.4 715.2 790.3 715.5 791.2 715.9 792.1 716.4 793 716.9 793.9 717.4 794.8 718 795.7 718.4 796.6 718.7 797.5 718.9 798.4 719 799.3 718.9 800.2 718.7 801.1 718.3 802 717.8 802.9 717.3 803.8 716.8 804.7 716.2 805.6 715.8 806.5 715.4 807.4 715.1 808.3 715 809.2 715 810.1 715.2 811 715.5 811.9 716 812.8 716.5 813.7 717 814.6 717.6 815.5 718.1 816.4 718.5 817.3 718.8 818.2 719 819.1 719 820 718.9 820.9 718.6 821.8 718.2 822.7 717.7 823.6 717.2 824.6 716.6 825.5 716.1 826.4 715.7 827.3 715.3 828.2 715.1 829.1 715 830 715.1 830.9 715.3 831.8 715.6 832.7 716.1 833.6 716.6 834.5 717.2 835.4 717.7 836.3 718.2 837.2 718.6 838.1 718.9 839 719 839.9 719 840.8 718.8 841.7 718.5 842.6 718.1 843.5 717.6 844.4 717 845.3 716.5 846.2 716 847.1 715.6 848 715.2 848.9 715 849.8 715 850.7 715.1 851.6 715.4 852.5 715.7 853.4 716.2 854.3 716.7 855.2 717.3 856.1 717.8 857 718.3 857.9 718.7 858.8 718.9 859.7 719 860.6 718.9 861.5 718.7 862.4 718.4 863.3 718 864.2 717.5 865.1 716.9 866 716.4 866.9 715.9 867.8 715.5 868.7 715.2 869.6 715 870.5 715 871.4 715.2 872.3 715.4 873.2 715.8 874.1 716.3 875 716.9 875.9 717.4 876.8 717.9 877.7 718.4 878.6 718.7 879.5 718.9 880.4 719 881.3 718.9 882.2 718.7 883.1 718.3M883.1 235.5 884 235.9 884.9 236.4 885.8 236.9 886.7 237.5 887.6 238.1 888.5 238.6 889.4 239.1 890.3 239.1 891.2 238.8 892.1 238.3 893 237.7 893.9 237.1 894.8 236.6 895.7 236 896.6 235.6 897.5 235.5 898.4 235.7 899.3 236.2 900.2 236.8 901.1 237.4 902 238 902.9 238.5 903.8 239 904.7 239.1 905.6 238.9 906.5 238.4 907.4 237.9 908.3 237.3 909.2 236.7 910.1 236.2 911 235.7 911.9 235.5 912.8 235.6 913.7 236.1 914.6 236.6 915.5 237.2 916.4 237.8 917.3 238.4 918.2 238.8 919.1 239.1 920 239 920.9 238.6 921.8 238.1 922.7 237.5 923.6 236.9 924.5 236.3 925.4 235.8 926.3 235.5 927.2 235.5 928.1 235.9 929 236.5 929.9 237 930.8 237.6 931.7 238.2 932.6 238.7 933.5 239.1 934.4 239.1 935.3 238.7 936.2 238.2 937.1 237.7 938 237.1 938.9 236.5 939.8 236 940.7 235.5 941.6 235.5 942.6 235.8 943.5 236.3 944.4 236.9 945.3 237.5 946.2 238 947.1 238.6 948 239 948.9 239.1 949.8 238.9 950.7 238.4 951.6 237.8 952.5 237.2 953.4 236.6 954.3 236.1 955.2 235.6 956.1 235.5 957 235.7 957.9 236.1 958.8 236.7 959.7 237.3 960.6 237.9 961.5 238.4 962.4 238.9 963.3 239.1 964.2 239 965.1 238.5 966 238 966.9 237.4 967.8 236.8 968.7 236.2 969.6 235.8 970.5 235.5 971.4 235.6 972.3 236 973.2 236.5 974.1 237.1 975 237.7 975.9 238.3 976.8 238.8 977.7 239.1 978.6 239.1 979.5 238.7 980.4 238.1 981.3 237.6 982.2 237 983.1 236.4 984 235.9 984.9 235.5 985.8 235.5 986.7 235.9 987.6 236.4 988.5 236.9 989.4 237.5 990.3 238.1 991.2 238.6 992.1 239.1 993 239.1 993.9 238.8 994.8 238.3 995.7 237.7 996.6 237.1 997.5 236.6 998.4 236 999.3 235.6 1000.2 235.5 1001.1 235.7 1002 236.2 1002.9 236.8 1003.8 237.4 1004.7 238 1005.6 238.5 1006.5 239 1007.4 239.1 1008.3 238.9 1009.2 238.5 1010.1 237.9 1011 237.3 1011.9 236.7 1012.8 236.2 1013.7 235.7 1014.6 235.5 1015.5 235.6 1016.4 236.1 1017.3 236.6 1018.2 237.2 1019.1 237.8 1020 238.4 1020.9 238.8 1021.8 239.1 1022.7 239 1023.6 238.6 1024.5 238.1 1025.4 237.5 1026.3 236.9 1027.2 236.3 1028.1 235.8 1029 235.5 1029.9 235.5 1030.8 235.9 1031.7 236.5 1032.6 237 1033.5 237.6 1034.4 238.2 1035.3 238.7 1036.2 239.1 1037.1 239.1M883.1 294.5 884 294.9 884.9 295.4 885.8 295.9 886.7 296.5 887.6 297.1 888.5 297.6 889.4 298 890.3 298.1 891.2 297.8 892.1 297.3 892.9 296.8 893.8 296.2 894.7 295.6 895.6 295.1 896.5 294.6 897.4 294.5 898.3 294.7 899.2 295.2 900.1 295.7 901 296.3 901.9 296.9 902.8 297.4 903.7 297.9 904.6 298.1 905.5 298 906.4 297.5 907.3 297 908.2 296.4 909.1 295.8 910 295.3 910.9 294.8 911.8 294.5 912.6 294.6 913.5 295 914.4 295.5 915.3 296.1 916.2 296.7 917.1 297.2 918 297.7 918.9 298.1 919.8 298.1 920.7 297.7 921.6 297.2 922.5 296.6 923.4 296 924.3 295.5 925.2 295 926.1 294.5 927 294.5 927.9 294.8 928.8 295.3 929.7 295.8 930.6 296.4 931.5 297 932.3 297.6 933.2 298 934.1 298.1 935 297.9 935.9 297.4 936.8 296.9 937.7 296.3 938.6 295.7 939.5 295.1 940.4 294.7 941.3 294.5 942.2 294.6 943.1 295.1 944 295.6 944.9 296.2 945.8 296.8 946.7 297.4 947.6 297.8 948.5 298.1 949.4 298 950.3 297.6 951.2 297.1 952 296.5 952.9 295.9 953.8 295.3 954.7 294.8 955.6 294.5 956.5 294.5 957.4 294.9 958.3 295.4 959.2 296 960.1 296.6 961 297.2M1037.1 236 1038 236.4 1038.9 236.9 1039.8 237.4 1040.7 238 1041.6 238.6 1042.5 239.1 1043.4 239.6 1044.3 239.6 1045.2 239.3 1046.1 238.8 1047 238.2 1047.9 237.6 1048.8 237.1 1049.7 236.5 1050.6 236.1 1051.5 236 1052.4 236.2 1053.3 236.7 1054.2 237.3 1055.1 237.9 1056 238.5 1056.9 239 1057.8 239.5 1058.7 239.6 1059.6 239.4 1060.5 238.9 1061.5 238.4 1062.4 237.8 1063.3 237.2 1064.2 236.7 1065.1 236.2 1066 236 1066.9 236.1 1067.8 236.6 1068.7 237.1 1069.6 237.7 1070.5 238.3 1071.4 238.9 1072.3 239.3 1073.2 239.6 1074.1 239.5 1075 239.1 1075.9 238.6 1076.8 238 1077.7 237.4 1078.6 236.8 1079.5 236.3 1080.4 236 1081.3 236 1082.2 236.4 1083.1 237 1084 237.5 1084.9 238.1 1085.8 238.7 1086.7 239.2 1087.6 239.6 1088.5 239.6 1089.4 239.2 1090.3 238.7 1091.2 238.2 1092.1 237.6 1093 237 1093.9 236.5 1094.8 236 1095.7 236 1096.6 236.3 1097.5 236.8 1098.4 237.4 1099.3 238 1100.2 238.5 1101.1 239.1 1102 239.5 1102.9 239.6 1103.8 239.4 1104.7 238.9 1105.6 238.3 1106.5 237.7 1107.4 237.1 1108.3 236.6 1109.2 236.1 1110.1 236 1111 236.2 1111.9 236.6 1112.8 237.2 1113.7 237.8 1114.6 238.4 1115.5 238.9 1116.4 239.4 1117.3 239.6 1118.2 239.5 1119.1 239 1120 238.5 1120.9 237.9 1121.8 237.3 1122.7 236.7 1123.6 236.3 1124.5 236 1125.4 236.1 1126.3 236.5 1127.2 237 1128.1 237.6 1129 238.2 1129.9 238.8 1130.8 239.3 1131.7 239.6 1132.6 239.6 1133.5 239.2 1134.4 238.6 1135.3 238.1 1136.2 237.5 1137.1 236.9 1138 236.4 1138.9 236 1139.8 236 1140.7 236.4 1141.6 236.9 1142.5 237.4 1143.4 238 1144.3 238.6 1145.2 239.1 1146.1 239.6 1147 239.6 1147.9 239.3 1148.8 238.8 1149.7 238.2 1150.6 237.6 1151.5 237.1 1152.4 236.5 1153.3 236.1 1154.2 236 1155.1 236.2 1156 236.7 1156.9 237.3 1157.8 237.9 1158.7 238.5 1159.6 239 1160.5 239.5 1161.4 239.6 1162.3 239.4 1163.2 239 1164.1 238.4 1165 237.8 1165.9 237.2 1166.8 236.7 1167.7 236.2 1168.6 236 1169.5 236.1 1170.4 236.6 1171.3 237.1 1172.2 237.7 1173.1 238.3 1174 238.9 1174.9 239.3 1175.8 239.6 1176.7 239.5 1177.6 239.1 1178.5 238.6 1179.5 238 1180.4 237.4 1181.3 236.8 1182.2 236.3 1183.1 236 1184 236 1184.9 236.4 1185.8 237 1186.7 237.5 1187.6 238.1 1188.5 238.7 1189.4 239.2 1190.3 239.6 1191.2 239.6M1037.1 295.5 1038 295.9 1038.9 296.4 1039.8 296.9 1040.7 297.5 1041.6 298.1 1042.5 298.6 1043.4 299 1044.3 299.1 1045.2 298.8 1046.1 298.3 1047 297.8 1047.9 297.2 1048.8 296.6 1049.7 296.1 1050.6 295.6 1051.5 295.5 1052.4 295.7 1053.3 296.2 1054.2 296.7 1055.1 297.3 1056 297.9 1056.8 298.4 1057.7 298.9 1058.6 299.1 1059.5 299 1060.4 298.5 1061.3 298 1062.2 297.4 1063.1 296.8 1064 296.2 1064.9 295.8 1065.8 295.5 1066.7 295.6 1067.6 296 1068.5 296.5 1069.4 297.1 1070.3 297.7 1071.2 298.3 1072.1 298.7 1073 299.1 1073.9 299.1 1074.8 298.7 1075.7 298.2 1076.6 297.6 1077.5 297 1078.4 296.4 1079.3 295.9 1080.2 295.5 1081 295.5 1081.9 295.8 1082.8 296.3 1083.7 296.9 1084.6 297.5 1085.5 298.1 1086.4 298.6 1087.3 299 1088.2 299.1 1089.1 298.9 1090 298.4 1090.9 297.8 1091.8 297.2 1092.7 296.6 1093.6 296.1 1094.5 295.7 1095.4 295.5 1096.3 295.7 1097.2 296.1 1098.1 296.7 1099 297.3 1099.9 297.8 1100.8 298.4 1101.7 298.9 1102.6 299.1 1103.5 299 1104.3 298.6 1105.2 298 1106.1 297.5 1107 296.9 1107.9 296.3 1108.8 295.8 1109.7 295.5 1110.6 295.5 1111.5 295.9 1112.4 296.5 1113.3 297 1114.2 297.6 1115.1 298.2 1116 298.7M1191.2 296.6 1192.1 297 1193 297.5 1193.8 298 1194.7 298.6 1195.6 299.2 1196.5 299.7 1197.4 300.1 1198.3 300.2 1199.2 299.9 1200.1 299.4 1201 298.9 1201.9 298.3 1202.8 297.7 1203.7 297.2 1204.6 296.7 1205.5 296.6 1206.4 296.8 1207.3 297.3 1208.2 297.8 1209.1 298.4 1210 299 1210.9 299.5 1211.8 300 1212.7 300.2 1213.6 300.1 1214.5 299.6 1215.3 299.1 1216.2 298.5 1217.1 297.9 1218 297.4 1218.9 296.9 1219.8 296.6 1220.7 296.7 1221.6 297.1 1222.5 297.6 1223.4 298.2 1224.3 298.8 1225.2 299.3 1226.1 299.8 1227 300.2 1227.9 300.2 1228.8 299.8 1229.7 299.3 1230.6 298.7 1231.5 298.1 1232.4 297.6 1233.3 297 1234.2 296.6 1235.1 296.6 1236 296.9 1236.9 297.4 1237.7 298 1238.6 298.6 1239.5 299.1 1240.4 299.7 1241.3 300.1 1242.2 300.2 1243.1 300 1244 299.5 1244.9 298.9 1245.8 298.4 1246.7 297.8 1247.6 297.2 1248.5 296.8 1249.4 296.6 1250.3 296.8 1251.2 297.2 1252.1 297.7 1253 298.3 1253.9 298.9 1254.8 299.5 1255.7 300 1256.6 300.2 1257.5 300.1 1258.4 299.7 1259.2 299.2 1260.1 298.6 1261 298 1261.9 297.4 1262.8 296.9 1263.7 296.6 1264.6 296.6 1265.5 297 1266.4 297.5 1267.3 298.1 1268.2 298.7 1269.1 299.3 1270 299.8M1191.2 513.1 1192.1 513.6 1193 514.2 1193.9 514.9 1194.8 515.6 1195.7 516.3 1196.6 516.9 1197.5 517.4 1198.4 517.5 1199.3 517.1 1200.2 516.5 1201.1 515.8 1202 515.1 1202.9 514.4 1203.8 513.8 1204.7 513.2 1205.6 513.1 1206.5 513.4 1207.4 514 1208.3 514.7 1209.2 515.4 1210.1 516.1 1211 516.8 1211.9 517.3 1212.8 517.5 1213.7 517.3 1214.6 516.7 1215.5 516 1216.4 515.3 1217.3 514.6 1218.2 513.9 1219.1 513.4 1220 513.1 1220.9 513.3 1221.8 513.8 1222.7 514.5 1223.6 515.2 1224.5 515.9 1225.4 516.6 1226.3 517.2 1227.2 517.5 1228.1 517.4 1229 516.9 1229.9 516.2 1230.8 515.5 1231.7 514.8 1232.6 514.1 1233.5 513.5 1234.4 513.1 1235.3 513.1 1236.2 513.6 1237.1 514.3 1238 515 1238.9 515.7 1239.8 516.4 1240.7 517 1241.6 517.5 1242.5 517.5 1243.4 517 1244.3 516.4 1245.2 515.7 1246.1 515 1247 514.3 1247.9 513.7 1248.8 513.2 1249.7 513.1 1250.6 513.5 1251.5 514.1 1252.4 514.8 1253.3 515.5 1254.2 516.2 1255.1 516.8 1256 517.4 1256.9 517.5 1257.8 517.2 1258.7 516.6 1259.6 515.9 1260.5 515.2 1261.4 514.5 1262.3 513.8 1263.2 513.3 1264.1 513.1 1265 513.3 1265.9 513.9 1266.8 514.6 1267.7 515.3 1268.6 516 1269.5 516.7 1270.4 517.2 1271.3 517.5 1272.2 517.3 1273.1 516.8 1274 516.1 1274.9 515.4 1275.8 514.7 1276.7 514 1277.6 513.4 1278.5 513.1 1279.4 513.2 1280.3 513.7 1281.2 514.4 1282.1 515.1 1283 515.8 1283.9 516.5 1284.8 517.1 1285.7 517.5 1286.6 517.5 1287.5 517 1288.4 516.3 1289.3 515.6 1290.2 514.9 1291.1 514.2 1292 513.6 1292.9 513.1 1293.8 513.1 1294.7 513.6 1295.6 514.2 1296.5 514.9 1297.4 515.6 1298.4 516.3 1299.3 516.9 1300.2 517.4 1301.1 517.5 1302 517.1 1302.9 516.5 1303.8 515.8 1304.7 515.1 1305.6 514.4 1306.5 513.8 1307.4 513.2 1308.3 513.1 1309.2 513.4 1310.1 514 1311 514.7 1311.9 515.4 1312.8 516.1 1313.7 516.8 1314.6 517.3 1315.5 517.5 1316.4 517.3 1317.3 516.7 1318.2 516 1319.1 515.3 1320 514.6 1320.9 513.9 1321.8 513.4 1322.7 513.1 1323.6 513.3 1324.5 513.8 1325.4 514.5 1326.3 515.2 1327.2 515.9 1328.1 516.6 1329 517.2 1329.9 517.5 1330.8 517.4 1331.7 516.9 1332.6 516.2 1333.5 515.5 1334.4 514.8 1335.3 514.1 1336.2 513.5 1337.1 513.1 1338 513.1 1338.9 513.6 1339.8 514.3 1340.7 515 1341.6 515.7 1342.5 516.4 1343.4 517 1344.3 517.5 1345.2 517.5M1345.2 190.7 1346.1 190.3 1347 189.7 1347.9 189.1 1348.8 188.5 1349.7 187.9 1350.6 187.3 1351.5 186.7 1352.4 186.5 1353.3 187 1354.2 187.6 1355.1 188.2 1356 188.8 1356.9 189.4 1357.8 190 1358.7 190.6 1359.6 190.7 1360.5 190.1 1361.4 189.5 1362.3 188.9 1363.2 188.3 1364.1 187.7 1365 187 1365.9 186.5 1366.8 186.7 1367.7 187.3 1368.6 187.9 1369.5 188.5 1370.4 189.1 1371.3 189.7 1372.2 190.3 1373.1 190.7 1374 190.4 1374.9 189.8 1375.8 189.2 1376.7 188.6 1377.6 188 1378.5 187.4 1379.4 186.8 1380.3 186.5 1381.2 186.9 1382.1 187.5 1383 188.1 1383.9 188.7 1384.8 189.4 1385.7 190 1386.6 190.6 1387.5 190.7 1388.4 190.1 1389.3 189.5 1390.2 188.9 1391.1 188.3 1392 187.7 1392.9 187.1 1393.8 186.5 1394.7 186.6 1395.6 187.2 1396.5 187.8 1397.4 188.4 1398.3 189 1399.2 189.6 1400.1 190.2 1401 190.7 1401.9 190.5 1402.8 189.9 1403.7 189.3 1404.6 188.6 1405.5 188 1406.4 187.4 1407.3 186.8 1408.2 186.5 1409.1 186.9 1410 187.5 1410.9 188.1 1411.8 188.7 1412.7 189.3 1413.6 189.9 1414.5 190.5 1415.4 190.7 1416.4 190.2 1417.3 189.6 1418.2 189 1419.1 188.4 1420 187.8 1420.9 187.2 1421.8 186.6 1422.7 186.5 1423.6 187.1 1424.5 187.8 1425.4 188.4 1426.3 189 1427.2 189.6 1428.1 190.2 1429 190.7 1429.9 190.5 1430.8 189.9 1431.7 189.3 1432.6 188.7 1433.5 188.1 1434.4 187.5 1435.3 186.9 1436.2 186.5 1437.1 186.8 1438 187.4 1438.9 188 1439.8 188.6 1440.7 189.2 1441.6 189.8 1442.5 190.4 1443.4 190.7 1444.3 190.2 1445.2 189.6 1446.1 189 1447 188.4 1447.9 187.8 1448.8 187.2 1449.7 186.6 1450.6 186.5 1451.5 187.1 1452.4 187.7 1453.3 188.3 1454.2 188.9 1455.1 189.5 1456 190.1 1456.9 190.7 1457.8 190.6 1458.7 190 1459.6 189.4 1460.5 188.8 1461.4 188.2 1462.3 187.6 1463.2 186.9 1464.1 186.5 1465 186.8 1465.9 187.4 1466.8 188 1467.7 188.6 1468.6 189.2 1469.5 189.8 1470.4 190.4 1471.3 190.7 1472.2 190.3 1473.1 189.7 1474 189.1 1474.9 188.5 1475.8 187.9 1476.7 187.3 1477.6 186.7 1478.5 186.5 1479.4 187 1480.3 187.6 1481.2 188.2 1482.1 188.8 1483 189.5 1483.9 190.1 1484.8 190.7 1485.7 190.6 1486.6 190 1487.5 189.4 1488.4 188.8 1489.3 188.2 1490.2 187.6 1491.1 187 1492 186.5 1492.9 186.7 1493.8 187.3 1494.7 187.9 1495.6 188.5 1496.5 189.1 1497.4 189.7 1498.3 190.3 1499.2 190.7M1345.2 298.4 1346.1 298 1347 297.4 1347.9 296.8 1348.8 296.2 1349.7 295.6 1350.6 295 1351.5 294.4 1352.4 294.2 1353.3 294.7 1354.2 295.3 1355.1 295.9 1356 296.5 1356.9 297.1 1357.8 297.7 1358.7 298.3 1359.6 298.4 1360.5 297.8 1361.4 297.2 1362.3 296.6 1363.2 296 1364.1 295.4 1365 294.7 1365.9 294.2 1366.8 294.4 1367.7 295 1368.6 295.6 1369.5 296.2 1370.4 296.8 1371.3 297.4 1372.2 298 1373.1 298.4 1374 298.1 1374.9 297.5 1375.8 296.9 1376.7 296.3 1377.6 295.7 1378.5 295.1 1379.4 294.5 1380.3 294.2 1381.2 294.6 1382.1 295.2 1383 295.8 1383.9 296.4 1384.8 297.1 1385.7 297.7 1386.6 298.3 1387.5 298.4 1388.4 297.8 1389.3 297.2 1390.2 296.6 1391.1 296 1392 295.4 1392.9 294.8 1393.8 294.2 1394.7 294.3 1395.6 294.9 1396.5 295.5 1397.4 296.1 1398.3 296.7 1399.2 297.3 1400.1 297.9 1401 298.4 1401.9 298.2 1402.8 297.6 1403.7 297 1404.6 296.3 1405.5 295.7 1406.4 295.1 1407.3 294.5 1408.2 294.2 1409.1 294.6 1410 295.2 1410.9 295.8 1411.8 296.4 1412.7 297 1413.6 297.6 1414.5 298.2 1415.4 298.4 1416.4 297.9 1417.3 297.3 1418.2 296.7 1419.1 296.1 1420 295.5 1420.9 294.9 1421.8 294.3 1422.7 294.2 1423.6 294.8 1424.5 295.5 1425.4 296.1 1426.3 296.7 1427.2 297.3 1428.1 297.9 1429 298.4 1429.9 298.2 1430.8 297.6 1431.7 297 1432.6 296.4 1433.5 295.8 1434.4 295.2 1435.3 294.6 1436.2 294.2 1437.1 294.5 1438 295.1 1438.9 295.7 1439.8 296.3 1440.7 296.9 1441.6 297.5 1442.5 298.1 1443.4 298.4 1444.3 297.9 1445.2 297.3 1446.1 296.7 1447 296.1 1447.9 295.5 1448.8 294.9 1449.7 294.3 1450.6 294.2 1451.5 294.8 1452.4 295.4 1453.3 296 1454.2 296.6 1455.1 297.2 1456 297.8 1456.9 298.4 1457.8 298.3 1458.7 297.7 1459.6 297.1 1460.5 296.5 1461.4 295.9 1462.3 295.3 1463.2 294.6 1464.1 294.2 1465 294.5 1465.9 295.1 1466.8 295.7 1467.7 296.3 1468.6 296.9 1469.5 297.5 1470.4 298.1 1471.3 298.4 1472.2 298 1473.1 297.4 1474 296.8 1474.9 296.2 1475.8 295.6 1476.7 295 1477.6 294.4 1478.5 294.2 1479.4 294.7 1480.3 295.3 1481.2 295.9 1482.1 296.5 1483 297.2 1483.9 297.8 1484.8 298.4 1485.7 298.3 1486.6 297.7 1487.5 297.1 1488.4 296.5 1489.3 295.9 1490.2 295.3 1491.1 294.7 1492 294.2 1492.9 294.4 1493.8 295 1494.7 295.6 1495.6 296.2 1496.5 296.8 1497.4 297.4 1498.3 298 1499.2 298.4M1345.2 517.6 1346.1 517.2 1347 516.5 1347.9 515.9 1348.8 515.1 1349.7 514.4 1350.6 513.8 1351.5 513.3 1352.4 513.2 1353.3 513.6 1354.2 514.2 1355.1 514.8 1356 515.6 1356.9 516.3 1357.8 516.9 1358.7 517.5 1359.6 517.6 1360.5 517.3 1361.4 516.7 1362.3 516.1 1363.2 515.3 1364.1 514.6 1365 514 1365.9 513.4 1366.8 513.2 1367.7 513.4 1368.6 514 1369.5 514.6 1370.4 515.4 1371.3 516.1 1372.2 516.8 1373.1 517.3 1374 517.6 1374.9 517.4 1375.8 516.9 1376.7 516.3 1377.6 515.5 1378.5 514.8 1379.4 514.1 1380.3 513.6 1381.2 513.2 1382.1 513.3 1383 513.8 1383.9 514.4 1384.8 515.1 1385.7 515.9 1386.6 516.6 1387.5 517.2 1388.4 517.6 1389.3 517.6 1390.2 517.1 1391.1 516.5 1392 515.8 1392.9 515 1393.8 514.3 1394.7 513.7 1395.6 513.2 1396.5 513.2 1397.4 513.6 1398.3 514.2 1399.2 514.9 1400.1 515.7 1401 516.4 1401.9 517 1402.8 517.5 1403.7 517.6 1404.6 517.2 1405.5 516.6 1406.4 516 1407.3 515.2 1408.2 514.5 1409.1 513.9 1410 513.3 1410.9 513.2 1411.8 513.5 1412.7 514.1 1413.6 514.7 1414.5 515.5 1415.4 516.2 1416.4 516.8 1417.3 517.4 1418.2 517.6 1419.1 517.4 1420 516.8 1420.9 516.2 1421.8 515.4 1422.7 514.7 1423.6 514 1424.5 513.5 1425.4 513.2 1426.3 513.4 1427.2 513.9 1428.1 514.5 1429 515.3 1429.9 516 1430.8 516.7 1431.7 517.2 1432.6 517.6 1433.5 517.5 1434.4 517 1435.3 516.4 1436.2 515.7 1437.1 514.9 1438 514.2 1438.9 513.6 1439.8 513.2 1440.7 513.2 1441.6 513.7 1442.5 514.3 1443.4 515 1444.3 515.8 1445.2 516.5 1446.1 517.1 1447 517.6 1447.9 517.6 1448.8 517.2 1449.7 516.6 1450.6 515.9 1451.5 515.1 1452.4 514.4 1453.3 513.8 1454.2 513.3 1455.1 513.2 1456 513.6 1456.9 514.2 1457.8 514.8 1458.7 515.6 1459.6 516.3 1460.5 516.9 1461.4 517.5 1462.3 517.6 1463.2 517.3 1464.1 516.7 1465 516.1 1465.9 515.3 1466.8 514.6 1467.7 514 1468.6 513.4 1469.5 513.2 1470.4 513.4 1471.3 514 1472.2 514.6 1473.1 515.4 1474 516.1 1474.9 516.7 1475.8 517.3 1476.7 517.6 1477.6 517.4 1478.5 516.9 1479.4 516.3 1480.3 515.5 1481.2 514.8 1482.1 514.1 1483 513.6 1483.9 513.2 1484.8 513.3 1485.7 513.8 1486.6 514.4 1487.5 515.1 1488.4 515.9 1489.3 516.6 1490.2 517.2 1491.1 517.6 1492 517.6 1492.9 517.1 1493.8 516.5 1494.7 515.8 1495.6 515 1496.5 514.3 1497.4 513.7 1498.3 513.2 1499.2 513.2M1345.2 660.9 1346.1 660.5 1347 659.9 1347.9 659.2 1348.8 658.5 1349.7 657.8 1350.6 657.2 1351.5 656.6 1352.4 656.5 1353.3 656.8 1354.2 657.4 1355.1 658.1 1356 658.8 1356.9 659.5 1357.8 660.2 1358.7 660.7 1359.6 660.9 1360.5 660.7 1361.4 660.1 1362.3 659.4 1363.2 658.7 1364.1 658 1365 657.3 1365.9 656.8 1366.8 656.5 1367.7 656.7 1368.6 657.2 1369.5 657.9 1370.4 658.6 1371.3 659.3 1372.2 660 1373.1 660.6 1374 660.9 1374.9 660.8 1375.8 660.3 1376.7 659.6 1377.6 658.9 1378.5 658.2 1379.4 657.5 1380.3 656.9 1381.2 656.5 1382.1 656.5 1383 657 1383.9 657.7 1384.8 658.4 1385.7 659.1 1386.6 659.8 1387.5 660.4 1388.4 660.9 1389.3 660.9 1390.2 660.4 1391.1 659.8 1392 659.1 1392.9 658.4 1393.8 657.7 1394.7 657.1 1395.6 656.6 1396.5 656.5 1397.4 656.9 1398.3 657.5 1399.2 658.2 1400.1 658.9 1401 659.6 1401.9 660.2 1402.8 660.8 1403.7 660.9 1404.6 660.6 1405.5 660 1406.4 659.3 1407.3 658.6 1408.2 657.9 1409.1 657.2 1410 656.7 1410.9 656.5 1411.8 656.7 1412.7 657.3 1413.6 658 1414.5 658.7 1415.4 659.4 1416.4 660.1 1417.3 660.6 1418.2 660.9 1419.1 660.7 1420 660.2 1420.9 659.5 1421.8 658.8 1422.7 658.1 1423.6 657.4 1424.5 656.8 1425.4 656.5 1426.3 656.6 1427.2 657.1 1428.1 657.8 1429 658.5 1429.9 659.2 1430.8 659.9 1431.7 660.5 1432.6 660.9 1433.5 660.9 1434.4 660.4 1435.3 659.7 1436.2 659 1437.1 658.3 1438 657.6 1438.9 657 1439.8 656.5 1440.7 656.5 1441.6 657 1442.5 657.6 1443.4 658.3 1444.3 659 1445.2 659.7 1446.1 660.3 1447 660.8 1447.9 660.9 1448.8 660.5 1449.7 659.9 1450.6 659.2 1451.5 658.5 1452.4 657.8 1453.3 657.2 1454.2 656.6 1455.1 656.5 1456 656.8 1456.9 657.4 1457.8 658.1 1458.7 658.8 1459.6 659.5 1460.5 660.2 1461.4 660.7 1462.3 660.9 1463.2 660.7 1464.1 660.1 1465 659.4 1465.9 658.7 1466.8 658 1467.7 657.3 1468.6 656.8 1469.5 656.5 1470.4 656.7 1471.3 657.2 1472.2 657.9 1473.1 658.6 1474 659.3 1474.9 660 1475.8 660.6 1476.7 660.9 1477.6 660.8 1478.5 660.3 1479.4 659.6 1480.3 658.9 1481.2 658.2 1482.1 657.5 1483 656.9 1483.9 656.5 1484.8 656.5 1485.7 657 1486.6 657.7 1487.5 658.4 1488.4 659.1 1489.3 659.8 1490.2 660.4 1491.1 660.9 1492 660.9 1492.9 660.4 1493.8 659.8 1494.7 659.1 1495.6 658.4 1496.5 657.7 1497.4 657.1 1498.3 656.6 1499.2 656.5" stroke="rgba(0,0,0,.66)" stroke-width="1.5" stroke-linejoin="round" fill="none"/>
<path d="M883.1 103L1037.13 202" stroke="#2a2526" stroke-width="1.2"/>
<path d="M1037.13 105L1191.16 203" stroke="#2a2526" stroke-width="1.2"/>
<path d="M1191.16 111.25L1345.19 210" stroke="#2a2526" stroke-width="1.2"/>
<path d="M50.75 327.2H112.95" stroke="rgba(0,0,0,.66)" stroke-width="1.3"/>
<path d="M50.75 615.2H112.95" stroke="rgba(0,0,0,.66)" stroke-width="1.3"/>
<path d="M50.75 827.8H112.95" stroke="rgba(0,0,0,.66)" stroke-width="1.3"/>
<path d="M112.95 1.5V917.6M266.98 1.5V917.6M421.01 1.5V917.6M575.04 1.5V917.6M729.07 1.5V917.6M883.1 1.5V917.6M1037.13 1.5V917.6M1191.16 1.5V917.6M1345.19 1.5V917.6M1499.22 1.5V917.6M50.75 1.5V917.6" stroke="rgba(0,0,0,.6)" stroke-width="1.75" fill="none"/>
<path d="M50.75 53.0H1499.22" stroke="rgba(0,0,0,.66)" stroke-width="1.5" fill="none"/>
<rect x="1.5" y="1.5" width="1497.72" height="916.1" fill="none" stroke="rgba(0,0,0,.66)" stroke-width="1.5"/>
<g transform="translate(-0.5 0)">
<g><rect x="2.8" y="955.15" width="40.1" height="24.75" fill="#F7D6D8" stroke="rgba(0,0,0,.78)" stroke-width="1.35"/>
<rect x="175.3" y="953.15" width="40.1" height="24.25" fill="#FEE391" stroke="rgba(0,0,0,.78)" stroke-width="1.35"/>
<rect x="382.05" y="953.15" width="39.6" height="24.5" fill="#FCD5B1" stroke="rgba(0,0,0,.78)" stroke-width="1.35"/>
<rect x="590.8" y="955.15" width="40.35" height="24.5" fill="#ACC2E4" stroke="rgba(0,0,0,.78)" stroke-width="1.35"/>
<rect x="801.55" y="955.15" width="40.35" height="24.5" fill="#fff" stroke="rgba(0,0,0,.78)" stroke-width="1.35"/>
<path d="M800.75 966.4 801.25 966.8 801.75 967.17 802.25 967.5 802.75 967.74 803.25 967.87 803.75 967.89 804.25 967.79 804.75 967.58 805.25 967.28 805.75 966.91 806.25 966.52 806.75 966.13 807.25 965.79 807.75 965.52 808.25 965.35 808.75 965.3 809.25 965.37 809.75 965.55 810.25 965.82 810.75 966.17 811.25 966.56 811.75 966.95 812.25 967.31 812.75 967.61 813.25 967.81 813.75 967.9 814.25 967.87 814.75 967.72 815.25 967.47 815.75 967.14 816.25 966.76 816.75 966.36 817.25 965.99 817.75 965.67 818.25 965.44 818.75 965.32 819.25 965.31 819.75 965.43 820.25 965.65 820.75 965.96 821.25 966.32 821.75 966.72 822.25 967.1 822.75 967.44 823.25 967.7 823.75 967.86 824.25 967.9 824.75 967.82 825.25 967.63 825.75 967.34 826.25 966.99 826.75 966.6 827.25 966.21 827.75 965.86 828.25 965.57 828.75 965.38 829.25 965.3 829.75 965.34 830.25 965.5 830.75 965.76 831.25 966.1 831.75 966.48 832.25 966.88 832.75 967.24 833.25 967.55 833.75 967.77 834.25 967.89 834.75 967.88 835.25 967.76 835.75 967.53 836.25 967.21 836.75 966.84 837.25 966.44 837.75 966.06 838.25 965.73 838.75 965.48 839.25 965.33 839.75 965.3 840.25 965.39 840.75 965.59 841.25 965.89 841.75 966.25" stroke="#2a2526" stroke-width="1.1" fill="none"/>
<rect x="1024.05" y="955.15" width="40.35" height="24.5" fill="#fff" stroke="rgba(0,0,0,.78)" stroke-width="1.35"/>
<path d="M1023.5 969H1064.5" stroke="#2a2526" stroke-width="1.2" stroke-dasharray="1.5 0.9" fill="none"/>
<rect x="1210.55" y="955.15" width="39.85" height="24.75" fill="#fff" stroke="rgba(0,0,0,.78)" stroke-width="1.35"/>
<rect x="1376.05" y="955.15" width="39.85" height="24.75" fill="#fff" stroke="rgba(0,0,0,.78)" stroke-width="1.35"/>
<rect x="2.8" y="1008" width="40.1" height="24.2" fill="#fff" stroke="rgba(0,0,0,.78)" stroke-width="1.35"/>
<rect x="146.55" y="1008" width="39.85" height="24.2" fill="#fff" stroke="rgba(0,0,0,.78)" stroke-width="1.35"/>
<rect x="292.8" y="1008" width="40.1" height="24.2" fill="#fff" stroke="rgba(0,0,0,.78)" stroke-width="1.35"/>
<rect x="419.05" y="1008" width="40.35" height="24.2" fill="#fff" stroke="rgba(0,0,0,.78)" stroke-width="1.35"/>
<rect x="558.3" y="1008" width="40.35" height="24.2" fill="#fff" stroke="rgba(0,0,0,.78)" stroke-width="1.35"/>
<rect x="662.55" y="1008" width="39.85" height="24.2" fill="#fff" stroke="rgba(0,0,0,.78)" stroke-width="1.35"/>
<rect x="914.05" y="1008" width="40.6" height="24.2" fill="#fff" stroke="rgba(0,0,0,.78)" stroke-width="1.35"/>
<rect x="1178.8" y="1008" width="40.35" height="24.2" fill="#fff" stroke="rgba(0,0,0,.78)" stroke-width="1.35"/>
<rect x="1358.05" y="1008" width="40.35" height="24.2" fill="#fff" stroke="rgba(0,0,0,.78)" stroke-width="1.35"/></g>
<g class="sy"><ellipse cx="247.8" cy="174.25" rx="3.2" ry="2.35" class="s"/><ellipse cx="256.4" cy="174.25" rx="3.2" ry="2.35" class="s"/>
<ellipse cx="247.8" cy="185.75" rx="3.2" ry="2.35" class="s"/><ellipse cx="256.4" cy="185.75" rx="3.2" ry="2.35" class="s"/>
<circle cx="245.6" cy="199.25" r="2.15"/><circle cx="257.8" cy="199.25" r="2.15"/>
<path d="M240.3 221.05L243.2 215.45M246.2 215.75L249.9 220.95" class="c"/><circle cx="256.5" cy="215.45" r="1.75"/><circle cx="256.5" cy="221.05" r="1.75"/>
<circle cx="245.6" cy="236.25" r="2.15"/><circle cx="257.8" cy="236.25" r="2.15"/>
<circle cx="245.3" cy="245.95" r="1.75"/><circle cx="245.3" cy="251.55" r="1.75"/><path d="M252.3 251.55L255.2 245.95M258.2 246.25L261.9 251.45" class="c"/>
<circle cx="245.6" cy="262.5" r="2.15"/><circle cx="257.8" cy="262.5" r="2.15"/>
<circle cx="245.6" cy="273.25" r="2.15"/><circle cx="257.8" cy="273.25" r="2.15"/>
<circle cx="245.6" cy="285" r="2.15"/><circle cx="257.8" cy="285" r="2.15"/>
<circle cx="245.6" cy="296.5" r="2.15"/><circle cx="257.8" cy="296.5" r="2.15"/>
<circle cx="245.6" cy="310.5" r="2.15"/><circle cx="257.8" cy="310.5" r="2.15"/>
<circle cx="245.3" cy="324.7" r="1.75"/><circle cx="245.3" cy="330.3" r="1.75"/><path d="M252.3 330.3L255.2 324.7M258.2 325L261.9 330.2" class="c"/>
<rect x="241.95" y="343.75" width="18.4" height="3.5"/>
<circle cx="245.05" cy="355" r="2.15"/><circle cx="257.25" cy="355" r="2.15"/>
<rect x="241.95" y="370.75" width="18.4" height="3.5"/>
<path d="M241.85 386.75m.6 0h6.4m4.6 0h6.4" class="m"/>
<path d="M241.85 395m.6 0h6.4m4.6 0h6.4" class="m"/>
<rect x="241.95" y="405.25" width="18.4" height="3.5"/>
<circle cx="245.05" cy="424.75" r="2.15"/><circle cx="257.25" cy="424.75" r="2.15"/>
<rect x="241.95" y="440.25" width="18.4" height="3.5"/>
<circle cx="245.05" cy="459.5" r="2.15"/><circle cx="257.25" cy="459.5" r="2.15"/>
<circle cx="245.05" cy="478.75" r="2.15"/><circle cx="257.25" cy="478.75" r="2.15"/>
<circle cx="245.05" cy="494.5" r="2.15"/><circle cx="257.25" cy="494.5" r="2.15"/>
<path d="M241.85 508.75m.6 0h6.4m4.6 0h6.4" class="m"/>
<circle cx="245.05" cy="523" r="2.15"/><circle cx="257.25" cy="523" r="2.15"/>
<rect x="241.95" y="534.5" width="18.4" height="3.5"/>
<circle cx="245.05" cy="550.25" r="2.15"/><circle cx="257.25" cy="550.25" r="2.15"/>
<path d="M241.85 565.5m.6 0h6.4m4.6 0h6.4" class="m"/>
<path d="M241.85 576.25m.6 0h6.4m4.6 0h6.4" class="m"/>
<circle cx="245.05" cy="590.25" r="2.15"/><circle cx="257.25" cy="590.25" r="2.15"/>
<path d="M241.85 605.75m.6 0h6.4m4.6 0h6.4" class="m"/>
<circle cx="245.05" cy="625.75" r="2.15"/><circle cx="257.25" cy="625.75" r="2.15"/>
<rect x="241.95" y="637.25" width="18.4" height="3.5"/>
<circle cx="245.05" cy="653.5" r="2.15"/><circle cx="257.25" cy="653.5" r="2.15"/>
<path d="M241.85 668.25m.6 0h6.4m4.6 0h6.4" class="m"/>
<path d="M241.85 679m.6 0h6.4m4.6 0h6.4" class="m"/>
<circle cx="245.05" cy="693.25" r="2.15"/><circle cx="257.25" cy="693.25" r="2.15"/>
<circle cx="245.05" cy="706.25" r="2.15"/><circle cx="257.25" cy="706.25" r="2.15"/>
<ellipse cx="252.85" cy="862" rx="3.2" ry="2.35" class="s"/><ellipse cx="261.45" cy="862" rx="3.2" ry="2.35" class="s"/>
<ellipse cx="252.85" cy="886" rx="3.2" ry="2.35" class="s"/><ellipse cx="261.45" cy="886" rx="3.2" ry="2.35" class="s"/>
<ellipse cx="252.85" cy="909.75" rx="3.2" ry="2.35" class="s"/><ellipse cx="261.45" cy="909.75" rx="3.2" ry="2.35" class="s"/>
<circle cx="400.5" cy="174.25" r="2.15"/><circle cx="412.7" cy="174.25" r="2.15"/>
<ellipse cx="400.5" cy="185.75" rx="3.2" ry="2.35" class="s"/><ellipse cx="412.7" cy="185.75" rx="3.2" ry="2.35" class="s"/>
<circle cx="400.5" cy="201.25" r="2.15"/><circle cx="412.7" cy="201.25" r="2.15"/>
<circle cx="400.5" cy="218.25" r="2.15"/><circle cx="412.7" cy="218.25" r="2.15"/>
<ellipse cx="400.5" cy="236" rx="3.2" ry="2.35" class="s"/><ellipse cx="412.7" cy="236" rx="3.2" ry="2.35" class="s"/>
<circle cx="400.5" cy="253.75" r="2.15"/><circle cx="412.7" cy="253.75" r="2.15"/>
<circle cx="400.5" cy="271.25" r="2.15"/><circle cx="412.7" cy="271.25" r="2.15"/>
<ellipse cx="400.5" cy="288.25" rx="3.2" ry="2.35" class="s"/><ellipse cx="412.7" cy="288.25" rx="3.2" ry="2.35" class="s"/>
<circle cx="400.5" cy="302.5" r="2.15"/><circle cx="412.7" cy="302.5" r="2.15"/>
<circle cx="400.5" cy="317.5" r="2.15"/><circle cx="412.7" cy="317.5" r="2.15"/>
<rect x="397.4" y="345.75" width="18.4" height="3.5"/>
<path d="M397.3 361.25m.6 0h6.4m4.6 0h6.4" class="m"/>
<path d="M397.3 369.5m.6 0h6.4m4.6 0h6.4" class="m"/>
<circle cx="400.5" cy="383" r="2.15"/><circle cx="412.7" cy="383" r="2.15"/>
<rect x="397.4" y="398.25" width="18.4" height="3.5"/>
<path d="M397.3 414.5m.6 0h6.4m4.6 0h6.4" class="m"/>
<path d="M397.3 423m.6 0h6.4m4.6 0h6.4" class="m"/>
<rect x="397.4" y="433.25" width="18.4" height="3.5"/>
<circle cx="400.5" cy="452.5" r="2.15"/><circle cx="412.7" cy="452.5" r="2.15"/>
<rect x="397.4" y="468" width="18.4" height="3.5"/>
<circle cx="400.5" cy="487.5" r="2.15"/><circle cx="412.7" cy="487.5" r="2.15"/>
<circle cx="400.5" cy="506.75" r="2.15"/><circle cx="412.7" cy="506.75" r="2.15"/>
<circle cx="400.5" cy="522.5" r="2.15"/><circle cx="412.7" cy="522.5" r="2.15"/>
<path d="M397.3 536.5m.6 0h6.4m4.6 0h6.4" class="m"/>
<circle cx="400.5" cy="550.25" r="2.15"/><circle cx="412.7" cy="550.25" r="2.15"/>
<path d="M397.3 564m.6 0h6.4m4.6 0h6.4" class="m"/>
<circle cx="400.5" cy="578" r="2.15"/><circle cx="412.7" cy="578" r="2.15"/>
<path d="M397.3 593m.6 0h6.4m4.6 0h6.4" class="m"/>
<path d="M397.3 603.75m.6 0h6.4m4.6 0h6.4" class="m"/>
<circle cx="400.5" cy="618.25" r="2.15"/><circle cx="412.7" cy="618.25" r="2.15"/>
<circle cx="553.9" cy="175.5" r="2.15"/><circle cx="566.1" cy="175.5" r="2.15"/>
<ellipse cx="553.9" cy="184.5" rx="3.2" ry="2.35" class="s"/><ellipse cx="566.1" cy="184.5" rx="3.2" ry="2.35" class="s"/>
<circle cx="554.2" cy="198.75" r="2.15"/><circle cx="566.4" cy="198.75" r="2.15"/>
<circle cx="554.2" cy="211.25" r="2.15"/><circle cx="566.4" cy="211.25" r="2.15"/>
<circle cx="554.2" cy="225.5" r="2.15"/><circle cx="566.4" cy="225.5" r="2.15"/>
<circle cx="554.2" cy="239.25" r="2.15"/><circle cx="566.4" cy="239.25" r="2.15"/>
<circle cx="554.2" cy="253.25" r="2.15"/><circle cx="566.4" cy="253.25" r="2.15"/>
<circle cx="554.2" cy="267" r="2.15"/><circle cx="566.4" cy="267" r="2.15"/>
<circle cx="554.2" cy="284.5" r="2.15"/><circle cx="566.4" cy="284.5" r="2.15"/>
<circle cx="554.2" cy="298.75" r="2.15"/><circle cx="566.4" cy="298.75" r="2.15"/>
<circle cx="554.9" cy="315" r="2.15"/><circle cx="567.1" cy="315" r="2.15"/>
<circle cx="554.9" cy="329.5" r="2.15"/><circle cx="567.1" cy="329.5" r="2.15"/>
<path d="M551.7 348m.6 0h6.4m4.6 0h6.4" class="m"/>
<rect x="551.8" y="358.75" width="18.4" height="3.5"/>
<path d="M551.7 373.75m.6 0h6.4m4.6 0h6.4" class="m"/>
<path d="M551.7 382.5m.6 0h6.4m4.6 0h6.4" class="m"/>
<circle cx="554.9" cy="395.5" r="2.15"/><circle cx="567.1" cy="395.5" r="2.15"/>
<rect x="551.8" y="410.75" width="18.4" height="3.5"/>
<path d="M551.7 426.75m.6 0h6.4m4.6 0h6.4" class="m"/>
<path d="M551.7 435.75m.6 0h6.4m4.6 0h6.4" class="m"/>
<rect x="551.8" y="445.75" width="18.4" height="3.5"/>
<circle cx="554.9" cy="465.25" r="2.15"/><circle cx="567.1" cy="465.25" r="2.15"/>
<rect x="551.8" y="480.75" width="18.4" height="3.5"/>
<circle cx="554.9" cy="500.25" r="2.15"/><circle cx="567.1" cy="500.25" r="2.15"/>
<circle cx="555.8" cy="523.25" r="2.15"/><circle cx="568" cy="523.25" r="2.15"/>
<circle cx="555.8" cy="538.75" r="2.15"/><circle cx="568" cy="538.75" r="2.15"/>
<path d="M552.6 553.25m.6 0h6.4m4.6 0h6.4" class="m"/>
<circle cx="555.8" cy="567" r="2.15"/><circle cx="568" cy="567" r="2.15"/>
<path d="M552.6 580.75m.6 0h6.4m4.6 0h6.4" class="m"/>
<circle cx="555.8" cy="595" r="2.15"/><circle cx="568" cy="595" r="2.15"/>
<path d="M552.9 615.8L555.8 610.2M558.8 610.5L562.5 615.7" class="c"/><circle cx="569.1" cy="610.2" r="1.75"/><circle cx="569.1" cy="615.8" r="1.75"/>
<circle cx="711.3" cy="176.5" r="2.15"/><circle cx="723.5" cy="176.5" r="2.15"/>
<circle cx="711.3" cy="191.75" r="2.15"/><circle cx="723.5" cy="191.75" r="2.15"/>
<circle cx="711.3" cy="208" r="2.15"/><circle cx="723.5" cy="208" r="2.15"/>
<circle cx="711.3" cy="224.25" r="2.15"/><circle cx="723.5" cy="224.25" r="2.15"/>
<circle cx="711.3" cy="239.25" r="2.15"/><circle cx="723.5" cy="239.25" r="2.15"/>
<circle cx="711.3" cy="251.5" r="2.15"/><circle cx="723.5" cy="251.5" r="2.15"/>
<ellipse cx="711.3" cy="262.25" rx="3.2" ry="2.35" class="s"/><ellipse cx="723.5" cy="262.25" rx="3.2" ry="2.35" class="s"/>
<circle cx="711.3" cy="271.25" r="2.15"/><circle cx="723.5" cy="271.25" r="2.15"/>
<circle cx="710.8" cy="306.25" r="2.15"/><circle cx="723" cy="306.25" r="2.15"/>
<circle cx="710.8" cy="319.5" r="2.15"/><circle cx="723" cy="319.5" r="2.15"/>
<circle cx="710.8" cy="330" r="2.15"/><circle cx="723" cy="330" r="2.15"/>
<circle cx="710.8" cy="342.5" r="2.15"/><circle cx="723" cy="342.5" r="2.15"/>
<rect x="707.7" y="358.75" width="18.4" height="3.5"/>
<path d="M707.6 373.75m.6 0h6.4m4.6 0h6.4" class="m"/>
<path d="M707.6 382.5m.6 0h6.4m4.6 0h6.4" class="m"/>
<circle cx="710.8" cy="395.5" r="2.15"/><circle cx="723" cy="395.5" r="2.15"/>
<rect x="707.7" y="410.75" width="18.4" height="3.5"/>
<path d="M707.6 426.75m.6 0h6.4m4.6 0h6.4" class="m"/>
<path d="M707.6 435.75m.6 0h6.4m4.6 0h6.4" class="m"/>
<rect x="707.7" y="445.75" width="18.4" height="3.5"/>
<circle cx="710.8" cy="465.25" r="2.15"/><circle cx="723" cy="465.25" r="2.15"/>
<rect x="707.7" y="480.75" width="18.4" height="3.5"/>
<circle cx="710.8" cy="500.25" r="2.15"/><circle cx="723" cy="500.25" r="2.15"/>
<circle cx="710.6" cy="521.25" r="2.15"/><circle cx="721.2" cy="521.25" r="2.15"/>
<circle cx="710.6" cy="533" r="2.15"/><circle cx="721.2" cy="533" r="2.15"/>
<circle cx="710.6" cy="546.25" r="2.15"/><circle cx="721.2" cy="546.25" r="2.15"/>
<circle cx="710.6" cy="560.75" r="2.15"/><circle cx="721.2" cy="560.75" r="2.15"/>
<circle cx="710.6" cy="575.25" r="2.15"/><circle cx="721.2" cy="575.25" r="2.15"/>
<circle cx="710.6" cy="589.75" r="2.15"/><circle cx="721.2" cy="589.75" r="2.15"/>
<circle cx="710.6" cy="604.25" r="2.15"/><circle cx="721.2" cy="604.25" r="2.15"/>
<circle cx="710.6" cy="619" r="2.15"/><circle cx="721.2" cy="619" r="2.15"/>
<circle cx="710.6" cy="633.25" r="2.15"/><circle cx="721.2" cy="633.25" r="2.15"/>
<circle cx="710.6" cy="647.75" r="2.15"/><circle cx="721.2" cy="647.75" r="2.15"/>
<circle cx="710.6" cy="662.5" r="2.15"/><circle cx="721.2" cy="662.5" r="2.15"/>
<circle cx="710.6" cy="677" r="2.15"/><circle cx="721.2" cy="677" r="2.15"/>
<circle cx="710.6" cy="692.25" r="2.15"/><circle cx="721.2" cy="692.25" r="2.15"/>
<circle cx="710.6" cy="706.75" r="2.15"/><circle cx="721.2" cy="706.75" r="2.15"/>
<path d="M863 177.5L868.7 188.7L874.4 177.5" class="v"/>
<circle cx="865.1" cy="200" r="2.15"/><circle cx="877.3" cy="200" r="2.15"/>
<circle cx="865.1" cy="212.5" r="2.15"/><circle cx="877.3" cy="212.5" r="2.15"/>
<circle cx="865.1" cy="226.25" r="2.15"/><circle cx="877.3" cy="226.25" r="2.15"/>
<circle cx="865.1" cy="243" r="2.15"/><circle cx="877.3" cy="243" r="2.15"/>
<path d="M861.9 252m.6 0h6.4m4.6 0h6.4" class="m"/>
<circle cx="865.1" cy="261.25" r="2.15"/><circle cx="877.3" cy="261.25" r="2.15"/>
<ellipse cx="865.1" cy="272.5" rx="3.2" ry="2.35" class="s"/><ellipse cx="877.3" cy="272.5" rx="3.2" ry="2.35" class="s"/>
<path d="M859.8 286.55L862.7 280.95M865.7 281.25L869.4 286.45" class="c"/><circle cx="876" cy="280.95" r="1.75"/><circle cx="876" cy="286.55" r="1.75"/>
<circle cx="863.8" cy="313.25" r="2.15"/><circle cx="876" cy="313.25" r="2.15"/>
<rect x="860.7" y="321.5" width="18.4" height="3.5"/>
<circle cx="863.8" cy="341" r="2.15"/><circle cx="876" cy="341" r="2.15"/>
<rect x="860.7" y="356.25" width="18.4" height="3.5"/>
<path d="M860.6 371.75m.6 0h6.4m4.6 0h6.4" class="m"/>
<path d="M860.6 380.25m.6 0h6.4m4.6 0h6.4" class="m"/>
<circle cx="863.8" cy="393.75" r="2.15"/><circle cx="876" cy="393.75" r="2.15"/>
<rect x="860.7" y="409" width="18.4" height="3.5"/>
<path d="M860.6 425m.6 0h6.4m4.6 0h6.4" class="m"/>
<path d="M860.6 433.75m.6 0h6.4m4.6 0h6.4" class="m"/>
<rect x="860.7" y="443.75" width="18.4" height="3.5"/>
<circle cx="863.8" cy="463" r="2.15"/><circle cx="876" cy="463" r="2.15"/>
<rect x="860.7" y="478.75" width="18.4" height="3.5"/>
<circle cx="863.8" cy="498" r="2.15"/><circle cx="876" cy="498" r="2.15"/>
<circle cx="865.2" cy="517.5" r="2.15"/><circle cx="875.4" cy="517.5" r="2.15"/>
<circle cx="865.2" cy="529.25" r="2.15"/><circle cx="875.4" cy="529.25" r="2.15"/>
<circle cx="865.2" cy="542.5" r="2.15"/><circle cx="875.4" cy="542.5" r="2.15"/>
<circle cx="865.2" cy="557.25" r="2.15"/><circle cx="875.4" cy="557.25" r="2.15"/>
<circle cx="865.2" cy="571.75" r="2.15"/><circle cx="875.4" cy="571.75" r="2.15"/>
<circle cx="865.2" cy="586.5" r="2.15"/><circle cx="875.4" cy="586.5" r="2.15"/>
<circle cx="865.2" cy="601" r="2.15"/><circle cx="875.4" cy="601" r="2.15"/>
<circle cx="865.2" cy="615.5" r="2.15"/><circle cx="875.4" cy="615.5" r="2.15"/>
<circle cx="865.2" cy="630" r="2.15"/><circle cx="875.4" cy="630" r="2.15"/>
<circle cx="865.2" cy="644.5" r="2.15"/><circle cx="875.4" cy="644.5" r="2.15"/>
<circle cx="865.2" cy="659" r="2.15"/><circle cx="875.4" cy="659" r="2.15"/>
<circle cx="865.2" cy="673.25" r="2.15"/><circle cx="875.4" cy="673.25" r="2.15"/>
<path d="M860.4 693.55L863.3 687.95M866.3 688.25L870 693.45" class="c"/><circle cx="876.6" cy="687.95" r="1.75"/><circle cx="876.6" cy="693.55" r="1.75"/>
<circle cx="865.2" cy="707.25" r="2.15"/><circle cx="875.4" cy="707.25" r="2.15"/>
<circle cx="1016.8" cy="73.45" r="2.15"/><circle cx="1029" cy="73.45" r="2.15"/>
<path d="M1017.2 93.15L1022.9 104.35L1028.6 93.15" class="v"/>
<circle cx="1016.8" cy="124.75" r="2.15"/><circle cx="1029" cy="124.75" r="2.15"/>
<path d="M1017.2 144.4L1022.9 155.6L1028.6 144.4" class="v"/>
<circle cx="1016.8" cy="176" r="2.15"/><circle cx="1029" cy="176" r="2.15"/>
<path d="M1017.2 212.4L1022.9 223.6L1028.6 212.4" class="v"/>
<ellipse cx="1018.1" cy="248" rx="3.2" ry="2.35" class="s"/><ellipse cx="1026.7" cy="248" rx="3.2" ry="2.35" class="s"/>
<ellipse cx="1018.1" cy="270.75" rx="3.2" ry="2.35" class="s"/><ellipse cx="1026.7" cy="270.75" rx="3.2" ry="2.35" class="s"/>
<ellipse cx="1018.1" cy="285.5" rx="3.2" ry="2.35" class="s"/><ellipse cx="1026.7" cy="285.5" rx="3.2" ry="2.35" class="s"/>
<circle cx="1015.2" cy="310" r="2.15"/><circle cx="1027.4" cy="310" r="2.15"/>
<rect x="1012.1" y="325.25" width="18.4" height="3.5"/>
<circle cx="1015.2" cy="344.5" r="2.15"/><circle cx="1027.4" cy="344.5" r="2.15"/>
<rect x="1012.1" y="360.25" width="18.4" height="3.5"/>
<path d="M1012 376.25m.6 0h6.4m4.6 0h6.4" class="m"/>
<path d="M1012 385m.6 0h6.4m4.6 0h6.4" class="m"/>
<circle cx="1015.2" cy="397" r="2.15"/><circle cx="1027.4" cy="397" r="2.15"/>
<rect x="1012.1" y="412.75" width="18.4" height="3.5"/>
<circle cx="1015.2" cy="432" r="2.15"/><circle cx="1027.4" cy="432" r="2.15"/>
<rect x="1012.1" y="447.5" width="18.4" height="3.5"/>
<circle cx="1015.2" cy="466.75" r="2.15"/><circle cx="1027.4" cy="466.75" r="2.15"/>
<rect x="1012.1" y="482.5" width="18.4" height="3.5"/>
<circle cx="1015.2" cy="501.75" r="2.15"/><circle cx="1027.4" cy="501.75" r="2.15"/>
<ellipse cx="1019.2" cy="523.75" rx="3.2" ry="2.35" class="s"/><ellipse cx="1027.8" cy="523.75" rx="3.2" ry="2.35" class="s"/>
<path d="M1017.2 545.8L1022.9 557L1028.6 545.8" class="v"/>
<path d="M1016.6 614.4V602H1029.5" class="b"/>
<path d="M1016.6 662.4V650H1029.5" class="b"/>
<ellipse cx="1016.3" cy="681.25" rx="3.2" ry="2.35" class="s"/><ellipse cx="1024.9" cy="681.25" rx="3.2" ry="2.35" class="s"/>
<ellipse cx="1016.3" cy="707" rx="3.2" ry="2.35" class="s"/><ellipse cx="1024.9" cy="707" rx="3.2" ry="2.35" class="s"/>
<ellipse cx="1016.3" cy="732.5" rx="3.2" ry="2.35" class="s"/><ellipse cx="1024.9" cy="732.5" rx="3.2" ry="2.35" class="s"/>
<ellipse cx="1016.3" cy="757.75" rx="3.2" ry="2.35" class="s"/><ellipse cx="1024.9" cy="757.75" rx="3.2" ry="2.35" class="s"/>
<circle cx="1169.7" cy="73.45" r="2.15"/><circle cx="1181.9" cy="73.45" r="2.15"/>
<path d="M1170.1 93.15L1175.8 104.35L1181.5 93.15" class="v"/>
<circle cx="1169.7" cy="124.75" r="2.15"/><circle cx="1181.9" cy="124.75" r="2.15"/>
<path d="M1170.1 144.8L1175.8 156L1181.5 144.8" class="v"/>
<circle cx="1169.7" cy="176" r="2.15"/><circle cx="1181.9" cy="176" r="2.15"/>
<path d="M1170.1 211.9L1175.8 223.1L1181.5 211.9" class="v"/>
<ellipse cx="1172.8" cy="251.75" rx="3.2" ry="2.35" class="s"/><ellipse cx="1181.4" cy="251.75" rx="3.2" ry="2.35" class="s"/>
<ellipse cx="1172.8" cy="266.75" rx="3.2" ry="2.35" class="s"/><ellipse cx="1181.4" cy="266.75" rx="3.2" ry="2.35" class="s"/>
<ellipse cx="1172.8" cy="281.25" rx="3.2" ry="2.35" class="s"/><ellipse cx="1181.4" cy="281.25" rx="3.2" ry="2.35" class="s"/>
<circle cx="1169.4" cy="316.25" r="2.15"/><circle cx="1181.6" cy="316.25" r="2.15"/>
<rect x="1166.3" y="334" width="18.4" height="3.5"/>
<circle cx="1169.4" cy="355.5" r="2.15"/><circle cx="1181.6" cy="355.5" r="2.15"/>
<rect x="1166.3" y="373.25" width="18.4" height="3.5"/>
<circle cx="1169.4" cy="395" r="2.15"/><circle cx="1181.6" cy="395" r="2.15"/>
<path d="M1169.6 412.5L1175.3 423.7L1181 412.5" class="v"/>
<path d="M1169.2 454.15V441.75H1182.1" class="b"/>
<path d="M1169.2 502.9V490.5H1182.1" class="b"/>
<path d="M1171 562.4V550H1183.9" class="b"/>
<path d="M1171 614.4V602H1183.9" class="b"/>
<path d="M1171 645.65V633.25H1183.9" class="b"/>
<path d="M1171 676.9V664.5H1183.9" class="b"/>
<path d="M1171 709.15V696.75H1183.9" class="b"/>
<ellipse cx="1170.7" cy="735" rx="3.2" ry="2.35" class="s"/><ellipse cx="1179.3" cy="735" rx="3.2" ry="2.35" class="s"/>
<ellipse cx="1170.7" cy="757.5" rx="3.2" ry="2.35" class="s"/><ellipse cx="1179.3" cy="757.5" rx="3.2" ry="2.35" class="s"/>
<ellipse cx="1170.7" cy="862.25" rx="3.2" ry="2.35" class="s"/><ellipse cx="1179.3" cy="862.25" rx="3.2" ry="2.35" class="s"/>
<ellipse cx="1170.7" cy="886.25" rx="3.2" ry="2.35" class="s"/><ellipse cx="1179.3" cy="886.25" rx="3.2" ry="2.35" class="s"/>
<ellipse cx="1170.7" cy="909.5" rx="3.2" ry="2.35" class="s"/><ellipse cx="1179.3" cy="909.5" rx="3.2" ry="2.35" class="s"/>
<circle cx="1172" cy="529.25" r="2.15"/><circle cx="1182.8" cy="529.25" r="2.15"/>
<circle cx="1172" cy="581.5" r="2.15"/><circle cx="1182.8" cy="581.5" r="2.15"/>
<circle cx="1017.3" cy="581.5" r="2.15"/><circle cx="1027.9" cy="581.5" r="2.15"/>
<circle cx="1017.3" cy="628.9" r="2.15"/><circle cx="1027.9" cy="628.9" r="2.15"/>
<circle cx="1324.9" cy="73.45" r="2.15"/><circle cx="1337.1" cy="73.45" r="2.15"/>
<path d="M1325.3 93.15L1331 104.35L1336.7 93.15" class="v"/>
<circle cx="1324.9" cy="124.75" r="2.15"/><circle cx="1337.1" cy="124.75" r="2.15"/>
<path d="M1325.3 144.65L1331 155.85L1336.7 144.65" class="v"/>
<circle cx="1324.9" cy="176" r="2.15"/><circle cx="1337.1" cy="176" r="2.15"/>
<path d="M1325.3 224.4L1331 235.6L1336.7 224.4" class="v"/>
<path d="M1325.3 260.4L1331 271.6L1336.7 260.4" class="v"/>
<circle cx="1324.4" cy="303.25" r="2.15"/><circle cx="1336.6" cy="303.25" r="2.15"/>
<rect x="1321.3" y="318.25" width="18.4" height="3.5"/>
<circle cx="1324.4" cy="337.5" r="2.15"/><circle cx="1336.6" cy="337.5" r="2.15"/>
<path d="M1324.6 354.4L1330.3 365.6L1336 354.4" class="v"/>
<path d="M1324.6 379.4L1330.3 390.6L1336 379.4" class="v"/>
<path d="M1324.6 404.9L1330.3 416.1L1336 404.9" class="v"/>
<circle cx="1324.4" cy="432" r="2.15"/><circle cx="1336.6" cy="432" r="2.15"/>
<path d="M1324.6 448.15L1330.3 459.35L1336 448.15" class="v"/>
<path d="M1324.6 474.4L1330.3 485.6L1336 474.4" class="v"/>
<ellipse cx="1324.7" cy="501.75" rx="3.2" ry="2.35" class="s"/><ellipse cx="1336.9" cy="501.75" rx="3.2" ry="2.35" class="s"/>
<path d="M1321.2 527.5m.6 0h6.4m4.6 0h6.4" class="m"/>
<rect x="1321.3" y="539.5" width="18.4" height="3.5"/>
<path d="M1321.2 555.5m.6 0h6.4m4.6 0h6.4" class="m"/>
<rect x="1321.3" y="567.5" width="18.4" height="3.5"/>
<path d="M1321.2 583.25m.6 0h6.4m4.6 0h6.4" class="m"/>
<path d="M1321.2 595.75m.6 0h6.4m4.6 0h6.4" class="m"/>
<rect x="1321.3" y="604.5" width="18.4" height="3.5"/>
<path d="M1321.2 620.5m.6 0h6.4m4.6 0h6.4" class="m"/>
<path d="M1321.2 633.25m.6 0h6.4m4.6 0h6.4" class="m"/>
<path d="M1321.2 642.5m.6 0h6.4m4.6 0h6.4" class="m"/>
<path d="M1321.2 655m.6 0h6.4m4.6 0h6.4" class="m"/>
<path d="M1323.5 681.9V669.5H1336.4" class="b"/>
<path d="M1323.5 708.65V696.25H1336.4" class="b"/>
<ellipse cx="1326.6" cy="862" rx="3.2" ry="2.35" class="s"/><ellipse cx="1335.2" cy="862" rx="3.2" ry="2.35" class="s"/>
<ellipse cx="1326.6" cy="886" rx="3.2" ry="2.35" class="s"/><ellipse cx="1335.2" cy="886" rx="3.2" ry="2.35" class="s"/>
<ellipse cx="1326.6" cy="909.75" rx="3.2" ry="2.35" class="s"/><ellipse cx="1335.2" cy="909.75" rx="3.2" ry="2.35" class="s"/>
<circle cx="1479.2" cy="63" r="2.15"/><circle cx="1491.4" cy="63" r="2.15"/>
<circle cx="1479.2" cy="82" r="2.15"/><circle cx="1491.4" cy="82" r="2.15"/>
<circle cx="1479.2" cy="100.5" r="2.15"/><circle cx="1491.4" cy="100.5" r="2.15"/>
<circle cx="1479.2" cy="119.5" r="2.15"/><circle cx="1491.4" cy="119.5" r="2.15"/>
<ellipse cx="1480.7" cy="139.25" rx="3.2" ry="2.35" class="s"/><ellipse cx="1489.9" cy="139.25" rx="3.2" ry="2.35" class="s"/>
<circle cx="1479.2" cy="158.75" r="2.15"/><circle cx="1491.4" cy="158.75" r="2.15"/>
<ellipse cx="1480.7" cy="178.25" rx="3.2" ry="2.35" class="s"/><ellipse cx="1489.9" cy="178.25" rx="3.2" ry="2.35" class="s"/>
<circle cx="1479.2" cy="311" r="2.15"/><circle cx="1491.4" cy="311" r="2.15"/>
<path d="M1476 329.25m.6 0h6.4m4.6 0h6.4" class="m"/>
<path d="M1476 345m.6 0h6.4m4.6 0h6.4" class="m"/>
<circle cx="1479.2" cy="363" r="2.15"/><circle cx="1491.4" cy="363" r="2.15"/>
<rect x="1476.1" y="379.75" width="18.4" height="3.5"/>
<circle cx="1479.2" cy="400.75" r="2.15"/><circle cx="1491.4" cy="400.75" r="2.15"/>
<rect x="1476.1" y="422.5" width="18.4" height="3.5"/>
<path d="M1476 443m.6 0h6.4m4.6 0h6.4" class="m"/>
<circle cx="1479.2" cy="462" r="2.15"/><circle cx="1491.4" cy="462" r="2.15"/>
<circle cx="1479.2" cy="482.5" r="2.15"/><circle cx="1491.4" cy="482.5" r="2.15"/>
<ellipse cx="1478.7" cy="503.25" rx="3.2" ry="2.35" class="s"/><ellipse cx="1490.9" cy="503.25" rx="3.2" ry="2.35" class="s"/>
<path d="M1476.4 527.5m.6 0h6.4m4.6 0h6.4" class="m"/>
<rect x="1476.5" y="539.5" width="18.4" height="3.5"/>
<path d="M1476.4 555.5m.6 0h6.4m4.6 0h6.4" class="m"/>
<path d="M1476.4 567.75m.6 0h6.4m4.6 0h6.4" class="m"/>
<rect x="1476.5" y="576.5" width="18.4" height="3.5"/>
<path d="M1476.4 595m.6 0h6.4m4.6 0h6.4" class="m"/>
<circle cx="1479.6" cy="612.5" r="2.15"/><circle cx="1491.8" cy="612.5" r="2.15"/>
<path d="M1476.4 630m.6 0h6.4m4.6 0h6.4" class="m"/>
<path d="M118.1 337.9Q115.96 344.01 122.6 350.3Q123.66 341.21 118.1 337.9ZM129.1 339.4Q123.64 341.56 123.9 349.7Q130.61 345.07 129.1 339.4ZM114.9 346.1Q114.36 353.79 123.3 360.7Q121.82 349.5 114.9 346.1ZM129.9 347.1Q123.83 350.69 123.8 360.9Q131.33 354 129.9 347.1Z"/><path d="M122.6 348.5L123.6 363.1" stroke="#2a2526" stroke-width="2.1" stroke-linecap="round"/>
<path d="M118.1 470.9Q115.96 477.01 122.6 483.3Q123.66 474.21 118.1 470.9ZM129.1 472.4Q123.64 474.56 123.9 482.7Q130.61 478.07 129.1 472.4ZM114.9 479.1Q114.36 486.79 123.3 493.7Q121.82 482.5 114.9 479.1ZM129.9 480.1Q123.83 483.69 123.8 493.9Q131.33 487 129.9 480.1Z"/><path d="M122.6 481.5L123.6 496.1" stroke="#2a2526" stroke-width="2.1" stroke-linecap="round"/>
<path d="M119.6 521.7Q117.46 527.81 124.1 534.1Q125.16 525.01 119.6 521.7ZM130.6 523.2Q125.14 525.36 125.4 533.5Q132.11 528.87 130.6 523.2ZM116.4 529.9Q115.86 537.59 124.8 544.5Q123.32 533.3 116.4 529.9ZM131.4 530.9Q125.33 534.49 125.3 544.7Q132.83 537.8 131.4 530.9Z"/><path d="M124.1 532.3L125.1 546.9" stroke="#2a2526" stroke-width="2.1" stroke-linecap="round"/>
<path d="M275.85 365.2Q273.71 371.31 280.35 377.6Q281.41 368.51 275.85 365.2ZM286.85 366.7Q281.39 368.86 281.65 377Q288.36 372.37 286.85 366.7ZM272.65 373.4Q272.11 381.09 281.05 388Q279.57 376.8 272.65 373.4ZM287.65 374.4Q281.58 377.99 281.55 388.2Q289.08 381.3 287.65 374.4Z"/><path d="M280.35 375.8L281.35 390.4" stroke="#2a2526" stroke-width="2.1" stroke-linecap="round"/>
<path d="M275.85 482.9Q273.71 489.01 280.35 495.3Q281.41 486.21 275.85 482.9ZM286.85 484.4Q281.39 486.56 281.65 494.7Q288.36 490.07 286.85 484.4ZM272.65 491.1Q272.11 498.79 281.05 505.7Q279.57 494.5 272.65 491.1ZM287.65 492.1Q281.58 495.69 281.55 505.9Q289.08 499 287.65 492.1Z"/><path d="M280.35 493.5L281.35 508.1" stroke="#2a2526" stroke-width="2.1" stroke-linecap="round"/>
<path d="M434.85 277.1Q432.71 283.21 439.35 289.5Q440.41 280.41 434.85 277.1ZM445.85 278.6Q440.39 280.76 440.65 288.9Q447.36 284.27 445.85 278.6ZM431.65 285.3Q431.11 292.99 440.05 299.9Q438.57 288.7 431.65 285.3ZM446.65 286.3Q440.58 289.89 440.55 300.1Q448.08 293.2 446.65 286.3Z"/><path d="M439.35 287.7L440.35 302.3" stroke="#2a2526" stroke-width="2.1" stroke-linecap="round"/>
<path d="M428.85 481.1Q426.71 487.21 433.35 493.5Q434.41 484.41 428.85 481.1ZM439.85 482.6Q434.39 484.76 434.65 492.9Q441.36 488.27 439.85 482.6ZM425.65 489.3Q425.11 496.99 434.05 503.9Q432.57 492.7 425.65 489.3ZM440.65 490.3Q434.58 493.89 434.55 504.1Q442.08 497.2 440.65 490.3Z"/><path d="M433.35 491.7L434.35 506.3" stroke="#2a2526" stroke-width="2.1" stroke-linecap="round"/>
<path d="M580.1 317.1Q577.96 323.21 584.6 329.5Q585.66 320.41 580.1 317.1ZM591.1 318.6Q585.64 320.76 585.9 328.9Q592.61 324.27 591.1 318.6ZM576.9 325.3Q576.36 332.99 585.3 339.9Q583.82 328.7 576.9 325.3ZM591.9 326.3Q585.83 329.89 585.8 340.1Q593.33 333.2 591.9 326.3Z"/><path d="M584.6 327.7L585.6 342.3" stroke="#2a2526" stroke-width="2.1" stroke-linecap="round"/>
<path d="M580.6 479.9Q578.46 486.01 585.1 492.3Q586.16 483.21 580.6 479.9ZM591.6 481.4Q586.14 483.56 586.4 491.7Q593.11 487.07 591.6 481.4ZM577.4 488.1Q576.86 495.79 585.8 502.7Q584.32 491.5 577.4 488.1ZM592.4 489.1Q586.33 492.69 586.3 502.9Q593.83 496 592.4 489.1Z"/><path d="M585.1 490.5L586.1 505.1" stroke="#2a2526" stroke-width="2.1" stroke-linecap="round"/>
<path d="M738.1 250.6Q735.96 256.71 742.6 263Q743.66 253.91 738.1 250.6ZM749.1 252.1Q743.64 254.26 743.9 262.4Q750.61 257.77 749.1 252.1ZM734.9 258.8Q734.36 266.49 743.3 273.4Q741.82 262.2 734.9 258.8ZM749.9 259.8Q743.83 263.39 743.8 273.6Q751.33 266.7 749.9 259.8Z"/><path d="M742.6 261.2L743.6 275.8" stroke="#2a2526" stroke-width="2.1" stroke-linecap="round"/>
<path d="M734.85 479.9Q732.71 486.01 739.35 492.3Q740.41 483.21 734.85 479.9ZM745.85 481.4Q740.39 483.56 740.65 491.7Q747.36 487.07 745.85 481.4ZM731.65 488.1Q731.11 495.79 740.05 502.7Q738.57 491.5 731.65 488.1ZM746.65 489.1Q740.58 492.69 740.55 502.9Q748.08 496 746.65 489.1Z"/><path d="M739.35 490.5L740.35 505.1" stroke="#2a2526" stroke-width="2.1" stroke-linecap="round"/>
<path d="M736.1 531.4Q733.96 537.51 740.6 543.8Q741.66 534.71 736.1 531.4ZM747.1 532.9Q741.64 535.06 741.9 543.2Q748.61 538.57 747.1 532.9ZM732.9 539.6Q732.36 547.29 741.3 554.2Q739.82 543 732.9 539.6ZM747.9 540.6Q741.83 544.19 741.8 554.4Q749.33 547.5 747.9 540.6Z"/><path d="M740.6 542L741.6 556.6" stroke="#2a2526" stroke-width="2.1" stroke-linecap="round"/>
<path d="M890.35 264.1Q888.21 270.21 894.85 276.5Q895.91 267.41 890.35 264.1ZM901.35 265.6Q895.89 267.76 896.15 275.9Q902.86 271.27 901.35 265.6ZM887.15 272.3Q886.61 279.99 895.55 286.9Q894.07 275.7 887.15 272.3ZM902.15 273.3Q896.08 276.89 896.05 287.1Q903.58 280.2 902.15 273.3Z"/><path d="M894.85 274.7L895.85 289.3" stroke="#2a2526" stroke-width="2.1" stroke-linecap="round"/>
<path d="M896.1 479.4Q893.96 485.51 900.6 491.8Q901.66 482.71 896.1 479.4ZM907.1 480.9Q901.64 483.06 901.9 491.2Q908.61 486.57 907.1 480.9ZM892.9 487.6Q892.36 495.29 901.3 502.2Q899.82 491 892.9 487.6ZM907.9 488.6Q901.83 492.19 901.8 502.4Q909.33 495.5 907.9 488.6Z"/><path d="M900.6 490L901.6 504.6" stroke="#2a2526" stroke-width="2.1" stroke-linecap="round"/>
<path d="M1042.35 257.9Q1040.21 264.01 1046.85 270.3Q1047.91 261.21 1042.35 257.9ZM1053.35 259.4Q1047.89 261.56 1048.15 269.7Q1054.86 265.07 1053.35 259.4ZM1039.15 266.1Q1038.61 273.79 1047.55 280.7Q1046.07 269.5 1039.15 266.1ZM1054.15 267.1Q1048.08 270.69 1048.05 280.9Q1055.58 274 1054.15 267.1Z"/><path d="M1046.85 268.5L1047.85 283.1" stroke="#2a2526" stroke-width="2.1" stroke-linecap="round"/>
<path d="M1047.1 479.4Q1044.96 485.51 1051.6 491.8Q1052.66 482.71 1047.1 479.4ZM1058.1 480.9Q1052.64 483.06 1052.9 491.2Q1059.61 486.57 1058.1 480.9ZM1043.9 487.6Q1043.36 495.29 1052.3 502.2Q1050.82 491 1043.9 487.6ZM1058.9 488.6Q1052.83 492.19 1052.8 502.4Q1060.33 495.5 1058.9 488.6Z"/><path d="M1051.6 490L1052.6 504.6" stroke="#2a2526" stroke-width="2.1" stroke-linecap="round"/>
<path d="M1201.1 475.7Q1198.96 481.81 1205.6 488.1Q1206.66 479.01 1201.1 475.7ZM1212.1 477.2Q1206.64 479.36 1206.9 487.5Q1213.61 482.87 1212.1 477.2ZM1197.9 483.9Q1197.36 491.59 1206.3 498.5Q1204.82 487.3 1197.9 483.9ZM1212.9 484.9Q1206.83 488.49 1206.8 498.7Q1214.33 491.8 1212.9 484.9Z"/><path d="M1205.6 486.3L1206.6 500.9" stroke="#2a2526" stroke-width="2.1" stroke-linecap="round"/>
<path d="M1198.35 524.4Q1196.21 530.51 1202.85 536.8Q1203.91 527.71 1198.35 524.4ZM1209.35 525.9Q1203.89 528.06 1204.15 536.2Q1210.86 531.57 1209.35 525.9ZM1195.15 532.6Q1194.61 540.29 1203.55 547.2Q1202.07 536 1195.15 532.6ZM1210.15 533.6Q1204.08 537.19 1204.05 547.4Q1211.58 540.5 1210.15 533.6Z"/><path d="M1202.85 535L1203.85 549.6" stroke="#2a2526" stroke-width="2.1" stroke-linecap="round"/>
<path d="M1351.6 370.7Q1349.46 376.81 1356.1 383.1Q1357.16 374.01 1351.6 370.7ZM1362.6 372.2Q1357.14 374.36 1357.4 382.5Q1364.11 377.87 1362.6 372.2ZM1348.4 378.9Q1347.86 386.59 1356.8 393.5Q1355.32 382.3 1348.4 378.9ZM1363.4 379.9Q1357.33 383.49 1357.3 393.7Q1364.83 386.8 1363.4 379.9Z"/><path d="M1356.1 381.3L1357.1 395.9" stroke="#2a2526" stroke-width="2.1" stroke-linecap="round"/>
<path d="M1353.1 525.9Q1350.96 532.01 1357.6 538.3Q1358.66 529.21 1353.1 525.9ZM1364.1 527.4Q1358.64 529.56 1358.9 537.7Q1365.61 533.07 1364.1 527.4ZM1349.9 534.1Q1349.36 541.79 1358.3 548.7Q1356.82 537.5 1349.9 534.1ZM1364.9 535.1Q1358.83 538.69 1358.8 548.9Q1366.33 542 1364.9 535.1Z"/><path d="M1357.6 536.5L1358.6 551.1" stroke="#2a2526" stroke-width="2.1" stroke-linecap="round"/>
<path d="M115.4 677.9Q125.2 688.6 135.3 679Q125.2 694 115.4 677.9ZM115.4 686.1Q125.2 696.8 135.3 687.2Q125.2 702.2 115.4 686.1Z" stroke="#2a2526" stroke-width="0.5" stroke-linejoin="round"/><path d="M125.3 679.2V696.4" stroke="#2a2526" stroke-opacity=".8" stroke-width="1.3"/>
<path d="M271.65 612.6Q281.45 623.3 291.55 613.7Q281.45 628.7 271.65 612.6ZM271.65 620.8Q281.45 631.5 291.55 621.9Q281.45 636.9 271.65 620.8Z" stroke="#2a2526" stroke-width="0.5" stroke-linejoin="round"/><path d="M281.55 613.9V631.1" stroke="#2a2526" stroke-opacity=".8" stroke-width="1.3"/>
<path d="M269.65 686.9Q279.45 697.6 289.55 688Q279.45 703 269.65 686.9ZM269.65 695.1Q279.45 705.8 289.55 696.2Q279.45 711.2 269.65 695.1Z" stroke="#2a2526" stroke-width="0.5" stroke-linejoin="round"/><path d="M279.55 688.2V705.4" stroke="#2a2526" stroke-opacity=".8" stroke-width="1.3"/>
<path d="M579.15 686.2Q588.95 696.9 599.05 687.3Q588.95 702.3 579.15 686.2ZM579.15 694.4Q588.95 705.1 599.05 695.5Q588.95 710.5 579.15 694.4Z" stroke="#2a2526" stroke-width="0.5" stroke-linejoin="round"/><path d="M589.05 687.5V704.7" stroke="#2a2526" stroke-opacity=".8" stroke-width="1.3"/>
<path d="M731.9 678.5Q741.7 689.2 751.8 679.6Q741.7 694.6 731.9 678.5ZM731.9 686.7Q741.7 697.4 751.8 687.8Q741.7 702.8 731.9 686.7Z" stroke="#2a2526" stroke-width="0.5" stroke-linejoin="round"/><path d="M741.8 679.8V697" stroke="#2a2526" stroke-opacity=".8" stroke-width="1.3"/>
<path d="M1196.4 623.7Q1206.2 634.4 1216.3 624.8Q1206.2 639.8 1196.4 623.7ZM1196.4 631.9Q1206.2 642.6 1216.3 633Q1206.2 648 1196.4 631.9Z" stroke="#2a2526" stroke-width="0.5" stroke-linejoin="round"/><path d="M1206.3 625V642.2" stroke="#2a2526" stroke-opacity=".8" stroke-width="1.3"/>
<path d="M1352.65 622.5Q1362.45 633.2 1372.55 623.6Q1362.45 638.6 1352.65 622.5ZM1352.65 630.7Q1362.45 641.4 1372.55 631.8Q1362.45 646.8 1352.65 630.7Z" stroke="#2a2526" stroke-width="0.5" stroke-linejoin="round"/><path d="M1362.55 623.8V641" stroke="#2a2526" stroke-opacity=".8" stroke-width="1.3"/>
<path d="M185 241.45L189.1 244.85V252.65L185 256.05L180.9 252.65V244.85Z" class="z"/><ellipse cx="185" cy="248.75" rx="1.9" ry="4.3" class="z3"/>
<path d="M185 320.2L189.1 323.6V331.4L185 334.8L180.9 331.4V323.6Z" class="z"/><ellipse cx="185" cy="327.5" rx="1.9" ry="4.3" class="z3"/>
<path d="M477.5 605.7L481.6 609.1V616.9L477.5 620.3L473.4 616.9V609.1Z" class="z"/><ellipse cx="477.5" cy="613" rx="1.9" ry="4.3" class="z3"/>
<path d="M801.75 273.45L805.85 276.85V284.65L801.75 288.05L797.65 284.65V276.85Z" class="z"/><ellipse cx="801.75" cy="280.75" rx="1.9" ry="4.3" class="z3"/>
<path d="M801.5 698.2L805.6 701.6V709.4L801.5 712.8L797.4 709.4V701.6Z" class="z"/><ellipse cx="801.5" cy="705.5" rx="1.9" ry="4.3" class="z3"/>
<path d="M954.25 219.7L958.35 223.1V230.9L954.25 234.3L950.15 230.9V223.1Z" class="z"/><ellipse cx="954.25" cy="227" rx="1.9" ry="4.3" class="z3"/>
<path d="M950.75 524.7L954.85 528.1V535.9L950.75 539.3L946.65 535.9V528.1Z" class="z"/><ellipse cx="950.75" cy="532" rx="1.9" ry="4.3" class="z3"/>
<path d="M953 613.45L957.1 616.85V624.65L953 628.05L948.9 624.65V616.85Z" class="z"/><ellipse cx="953" cy="620.75" rx="1.9" ry="4.3" class="z3"/>
<path d="M1104 218.95L1108.1 222.35V230.15L1104 233.55L1099.9 230.15V222.35Z" class="z"/><ellipse cx="1104" cy="226.25" rx="1.9" ry="4.3" class="z3"/>
<path d="M1096 276.95L1100.1 280.35V288.15L1096 291.55L1091.9 288.15V280.35Z" class="z"/><ellipse cx="1096" cy="284.25" rx="1.9" ry="4.3" class="z3"/>
<path d="M1098.25 705.75L1098.65 701.15L1102.05 697.35L1107.85 697.55L1108.45 708.15L1105.85 710.35L1099.85 710.15Z" class="a"/><path d="M1101.85 701.55L1101.45 709.95M1104.85 698.15L1104.45 709.95M1098.65 701.35L1101.85 701.55L1104.85 697.95" class="a2"/>
<path d="M1104.5 747.7L1108.6 751.1V758.9L1104.5 762.3L1100.4 758.9V751.1Z" class="z"/><ellipse cx="1104.5" cy="755" rx="1.9" ry="4.3" class="z3"/>
<path d="M1254.5 253.75L1254.9 249.15L1258.3 245.35L1264.1 245.55L1264.7 256.15L1262.1 258.35L1256.1 258.15Z" class="a"/><path d="M1258.1 249.55L1257.7 257.95M1261.1 246.15L1260.7 257.95M1254.9 249.35L1258.1 249.55L1261.1 245.95" class="a2"/>
<path d="M1254.5 272.75L1254.9 268.15L1258.3 264.35L1264.1 264.55L1264.7 275.15L1262.1 277.35L1256.1 277.15Z" class="a"/><path d="M1258.1 268.55L1257.7 276.95M1261.1 265.15L1260.7 276.95M1254.9 268.35L1258.1 268.55L1261.1 264.95" class="a2"/>
<path d="M1262.25 341.45L1266.35 344.85V352.65L1262.25 356.05L1258.15 352.65V344.85Z" class="z"/><ellipse cx="1262.25" cy="348.75" rx="1.9" ry="4.3" class="z3"/>
<path d="M1263.25 477.2L1267.35 480.6V488.4L1263.25 491.8L1259.15 488.4V480.6Z" class="z"/><ellipse cx="1263.25" cy="484.5" rx="1.9" ry="4.3" class="z3"/>
<path d="M1263.25 495.2L1267.35 498.6V506.4L1263.25 509.8L1259.15 506.4V498.6Z" class="z"/><ellipse cx="1263.25" cy="502.5" rx="1.9" ry="4.3" class="z3"/>
<path d="M1274.75 696.45L1278.85 699.85V707.65L1274.75 711.05L1270.65 707.65V699.85Z" class="z"/><ellipse cx="1274.75" cy="703.75" rx="1.9" ry="4.3" class="z3"/>
<ellipse cx="1225.95" cy="968" rx="3.2" ry="2.35" class="s"/><ellipse cx="1234.55" cy="968" rx="3.2" ry="2.35" class="s"/>
<circle cx="1389.1" cy="968" r="2.15"/><circle cx="1401.7" cy="968" r="2.15"/>
<path d="M13.2 1020.5m.6 0h6.4m4.6 0h6.4" class="m"/>
<rect x="156.4" y="1018.75" width="18.4" height="3.5"/>
<path d="M307.3 1027.9V1015.5H320.2" class="b"/>
<path d="M433.05 1015.6L438.75 1026.8L444.45 1015.6" class="v"/>
<circle cx="570.5" cy="1017.95" r="1.75"/><circle cx="570.5" cy="1023.55" r="1.75"/><path d="M578.1 1023.45L581.2 1018.45H583.8L586.9 1023.45" class="c"/>
<path d="M678.58 1010.54Q676.95 1015.19 682 1019.97Q682.8 1013.06 678.58 1010.54ZM686.94 1011.68Q682.79 1013.32 682.98 1019.51Q688.08 1015.99 686.94 1011.68ZM676.14 1016.78Q675.74 1022.62 682.53 1027.87Q681.4 1019.36 676.14 1016.78ZM687.54 1017.54Q682.93 1020.26 682.91 1028.02Q688.63 1022.78 687.54 1017.54Z"/><path d="M682 1018.6L682.76 1029.7" stroke="#2a2526" stroke-width="1.6" stroke-linecap="round"/>
<path d="M927.3 1014.22Q934.65 1022.25 942.23 1015.05Q934.65 1026.3 927.3 1014.22ZM927.3 1020.38Q934.65 1028.4 942.23 1021.2Q934.65 1032.45 927.3 1020.38Z" stroke="#2a2526" stroke-width="0.38" stroke-linejoin="round"/><path d="M934.73 1015.2V1028.1" stroke="#2a2526" stroke-opacity=".8" stroke-width="0.98"/>
<path d="M1199.25 1014.41L1202.53 1017.13V1023.37L1199.25 1026.09L1195.97 1023.37V1017.13Z" class="z"/><ellipse cx="1199.25" cy="1020.25" rx="1.52" ry="3.44" class="z3"/>
<path d="M1373.75 1021.9L1374.09 1017.99L1376.98 1014.76L1381.91 1014.93L1382.42 1023.94L1380.21 1025.81L1375.11 1025.64Z" class="a"/><path d="M1376.81 1018.33L1376.47 1025.47M1379.36 1015.44L1379.02 1025.47M1374.09 1018.16L1376.81 1018.33L1379.36 1015.27" class="a2"/></g>
<g><text x="190.5" y="253" font-size="11.2" textLength="49.5" lengthAdjust="spacing" class="r">159±1Ma</text>
<text x="190.5" y="332" font-size="11.2" textLength="49.5" lengthAdjust="spacing" class="r">165±4Ma</text>
<text x="488" y="617" font-size="11.2" textLength="48.75" lengthAdjust="spacing" class="r">175±2Ma</text>
<text x="806.5" y="285" font-size="11.2" textLength="49.5" lengthAdjust="spacing" class="r">161±1Ma</text>
<text x="807.25" y="710" font-size="11.2" textLength="48.75" lengthAdjust="spacing" class="r">179±1Ma</text>
<text x="960.5" y="232" font-size="11.2" textLength="49.25" lengthAdjust="spacing" class="r">157±1Ma</text>
<text x="957.25" y="536.6" font-size="11.2" textLength="48.75" lengthAdjust="spacing" class="r">168±2Ma</text>
<text x="957.75" y="625" font-size="11.2" textLength="48.25" lengthAdjust="spacing" class="r">175±1Ma</text>
<text x="1110.25" y="231.25" font-size="11.2" textLength="49.25" lengthAdjust="spacing" class="r">158±1Ma</text>
<text x="1102.25" y="289.25" font-size="11.2" textLength="57.25" lengthAdjust="spacing" class="r">&lt;161±3Ma</text>
<text x="1109.5" y="708" font-size="11.2" textLength="49.5" lengthAdjust="spacing" class="r">180±2Ma</text>
<text x="1111.25" y="759.5" font-size="11.2" textLength="43.25" lengthAdjust="spacing" class="r">&lt;197Ma</text>
<text x="1269.5" y="255.75" font-size="11.2" textLength="49" lengthAdjust="spacing" class="r">159±1Ma</text>
<text x="1269.5" y="274.5" font-size="11.2" textLength="49" lengthAdjust="spacing" class="r">161±1Ma</text>
<text x="1268.25" y="353" font-size="11.2" textLength="49" lengthAdjust="spacing" class="r">164±3Ma</text>
<text x="1269.5" y="489.25" font-size="11.2" textLength="49" lengthAdjust="spacing" class="r">167±1Ma</text>
<text x="1269.5" y="506.75" font-size="11.2" textLength="49" lengthAdjust="spacing" class="r">169±1Ma</text>
<text x="1280.25" y="708" font-size="11.2" textLength="35.5" lengthAdjust="spacing" class="r">177Ma</text>
<text x="147" y="186.1" font-size="15.2" textLength="89.25" lengthAdjust="spacing">Kalazha Fm.</text>
<text x="155.5" y="277.85" font-size="15.2" textLength="64.5" lengthAdjust="spacing">Qigu Fm.</text>
<text x="135.5" y="356.15" font-size="15.2" textLength="97" lengthAdjust="spacing">Toutunhe Fm.</text>
<text x="130.5" y="436.15" font-size="15.2" textLength="107" lengthAdjust="spacing">Xishanyao Fm.</text>
<text x="135.5" y="565.4" font-size="15.2" textLength="82.5" lengthAdjust="spacing">Sangonghe</text>
<text x="163.25" y="582.4" font-size="15.2" textLength="26.75" lengthAdjust="spacing">Fm.</text>
<text x="131.75" y="668.15" font-size="15.2" textLength="105.75" lengthAdjust="spacing">Badaowan Fm.</text>
<text x="135.5" y="893.9" font-size="15.2" textLength="111.5" lengthAdjust="spacing">Haojiagou Fm.</text>
<text x="270.75" y="186.6" font-size="15.2" textLength="121.75" lengthAdjust="spacing">Hongshuigou Fm</text>
<text x="280" y="269.85" font-size="15.2" textLength="103" lengthAdjust="spacing">Caishiling Fm.</text>
<text x="296.25" y="382.4" font-size="15.2" textLength="81.75" lengthAdjust="spacing">Shimengou</text>
<text x="325.5" y="398.65" font-size="15.2" textLength="26.5" lengthAdjust="spacing">Fm.</text>
<text x="297" y="494.9" font-size="15.2" textLength="73.5" lengthAdjust="spacing">Dameigou</text>
<text x="322.5" y="511.15" font-size="15.2" textLength="26.25" lengthAdjust="spacing">Fm.</text>
<text x="285.5" y="600.4" font-size="15.2" textLength="102.5" lengthAdjust="spacing">Yinmagou Fm.</text>
<text x="278.25" y="683.65" font-size="15.2" textLength="116.25" lengthAdjust="spacing">Xiaomeigou Fm.</text>
<text x="437.25" y="186.6" font-size="15.2" textLength="108.25" lengthAdjust="spacing">Fenfanghe Fm.</text>
<text x="455" y="226.1" font-size="15.2" textLength="81.75" lengthAdjust="spacing">Anding Fm.</text>
<text x="457.5" y="294.85" font-size="15.2" textLength="76" lengthAdjust="spacing">Zhiluo Fm.</text>
<text x="455.5" y="426.15" font-size="15.2" textLength="75" lengthAdjust="spacing">Yanan Fm.</text>
<text x="452.5" y="575.65" font-size="15.2" textLength="78.5" lengthAdjust="spacing">Fuxian Fm.</text>
<text x="588" y="227.85" font-size="15.2" textLength="117.5" lengthAdjust="spacing">Daqingshan Fm.</text>
<text x="599.25" y="328.65" font-size="15.2" textLength="101.25" lengthAdjust="spacing">Changhangou</text>
<text x="638.75" y="345.65" font-size="15.2" textLength="25.5" lengthAdjust="spacing">Fm.</text>
<text x="603" y="422.4" font-size="15.2" textLength="95" lengthAdjust="spacing">Shaogou Fm.</text>
<text x="586.25" y="620.4" font-size="15.2" textLength="117.25" lengthAdjust="spacing">Wudanggou Fm.</text>
<text x="772.75" y="187.4" font-size="15.2" textLength="62.75" lengthAdjust="spacing">Baqi Fm.</text>
<text x="751.5" y="222.9" font-size="15.2" textLength="100.25" lengthAdjust="spacing">Tianhechi Fm.</text>
<text x="756.75" y="266.9" font-size="15.2" textLength="93.75" lengthAdjust="spacing">Yungang Fm.</text>
<text x="759.25" y="416.15" font-size="15.2" textLength="82.5" lengthAdjust="spacing">Datong Fm.</text>
<text x="735.5" y="620.4" font-size="15.2" textLength="120.5" lengthAdjust="spacing">Yongdingzhuang</text>
<text x="782.25" y="636.9" font-size="15.2" textLength="26.25" lengthAdjust="spacing">Fm.</text>
<text x="902.25" y="92.9" font-size="15.2" textLength="104.25" lengthAdjust="spacing">Houcheng Fm.</text>
<text x="905.25" y="208.15" font-size="15.2" textLength="105" lengthAdjust="spacing">Tiaojishan Fm.</text>
<text x="892.75" y="252.9" font-size="15.2" textLength="117.5" lengthAdjust="spacing">Jiulongshan Fm.</text>
<text x="908" y="281.15" font-size="15.2" textLength="98" lengthAdjust="spacing">Longmen Fm.</text>
<text x="913" y="411.9" font-size="15.2" textLength="75.5" lengthAdjust="spacing">Yaopo Fm.</text>
<text x="901" y="584.4" font-size="15.2" textLength="104.5" lengthAdjust="spacing">Nandaling Fm.</text>
<text x="898.25" y="713" font-size="15.2" textLength="111.75" lengthAdjust="spacing">Xingshikou Fm.</text>
<text x="1056.5" y="96.65" font-size="15.2" textLength="104.25" lengthAdjust="spacing">Houcheng Fm.</text>
<text x="1059" y="208.15" font-size="15.2" textLength="105" lengthAdjust="spacing">Tiaojishan Fm.</text>
<text x="1059" y="256.9" font-size="15.2" textLength="87" lengthAdjust="spacing">Jiulongshan</text>
<text x="1091.5" y="273.65" font-size="15.2" textLength="25.75" lengthAdjust="spacing">Fm.</text>
<text x="1044" y="415.4" font-size="15.2" textLength="116.25" lengthAdjust="spacing">Xiahuayuan Fm.</text>
<text x="1054" y="619.9" font-size="15.2" textLength="104.25" lengthAdjust="spacing">Nandaling Fm.</text>
<text x="1052.75" y="740.4" font-size="15.2" textLength="111.5" lengthAdjust="spacing">Xingshikou Fm.</text>
<text x="1061.25" y="893.65" font-size="15.2" textLength="98.25" lengthAdjust="spacing">Ermaying Fm.</text>
<text x="1232" y="97.9" font-size="15.2" textLength="74.5" lengthAdjust="spacing">Tuchengzi</text>
<text x="1257.75" y="114.4" font-size="15.2" textLength="26.25" lengthAdjust="spacing">Fm.</text>
<text x="1236.5" y="214.9" font-size="15.2" textLength="70.5" lengthAdjust="spacing">Lanqi Fm.</text>
<text x="1228.25" y="396.15" font-size="15.2" textLength="83.25" lengthAdjust="spacing">Haifanggou</text>
<text x="1258.25" y="412.4" font-size="15.2" textLength="26.5" lengthAdjust="spacing">Fm.</text>
<text x="1228.25" y="591.15" font-size="15.2" textLength="85.25" lengthAdjust="spacing">Beipiao Fm.</text>
<text x="1223.5" y="677.4" font-size="15.2" textLength="90.5" lengthAdjust="spacing">Xinglonggou</text>
<text x="1257.75" y="693.65" font-size="15.2" textLength="25.75" lengthAdjust="spacing">Fm.</text>
<text x="1213.5" y="893.9" font-size="15.2" textLength="102.5" lengthAdjust="spacing">Laohugou Fm.</text>
<text x="1361" y="119.4" font-size="15.2" textLength="99.5" lengthAdjust="spacing">Houjiatun Fm.</text>
<text x="1369.75" y="367.4" font-size="15.2" textLength="103.75" lengthAdjust="spacing">Sangeling Fm.</text>
<text x="1380.25" y="470.4" font-size="15.2" textLength="82" lengthAdjust="spacing" xml:space="preserve" style="white-space:pre">Dabao  Fm.</text>
<text x="1367.75" y="588.65" font-size="15.2" textLength="94" lengthAdjust="spacing">Changliangzi</text>
<text x="1404" y="604.9" font-size="15.2" textLength="25.75" lengthAdjust="spacing">Fm.</text>
<text x="1108.75" y="816.75" font-size="14" text-anchor="middle">?</text>
<text class="h" transform="translate(50.6 33.4) scale(1.04 1)" font-size="19" textLength="59.42" lengthAdjust="spacing">Series</text>
<text class="h" transform="translate(149 23.6) scale(1.04 1)" font-size="19" textLength="79.42" lengthAdjust="spacing">northern</text>
<text class="h" transform="translate(153.6 44.4) scale(1.04 1)" font-size="19" textLength="75.96" lengthAdjust="spacing">Xinjiang</text>
<text class="h" transform="translate(313.75 33) scale(1.04 1)" font-size="19" textLength="72.6" lengthAdjust="spacing">Qaidam</text>
<text class="h" transform="translate(463 33) scale(1.04 1)" font-size="19" textLength="56.73" lengthAdjust="spacing">Ordos</text>
<text class="h" transform="translate(626.25 22) scale(1.04 1)" font-size="19" textLength="47.36" lengthAdjust="spacing">Inner</text>
<text class="h" transform="translate(606.25 43) scale(1.04 1)" font-size="19" textLength="85.34" lengthAdjust="spacing">Mongolia</text>
<text class="h" transform="translate(770.75 23.75) scale(1.04 1)" font-size="19" textLength="78.61" lengthAdjust="spacing">northern</text>
<text class="h" transform="translate(776.25 44.5) scale(1.04 1)" font-size="19" textLength="64.42" lengthAdjust="spacing">Shanxi</text>
<text class="h" transform="translate(916.75 23.75) scale(1.04 1)" font-size="19" textLength="73.56" lengthAdjust="spacing">western</text>
<text class="h" transform="translate(922.5 44.5) scale(1.04 1)" font-size="19" textLength="64.42" lengthAdjust="spacing">Beijing</text>
<text class="h" transform="translate(1068.75 22) scale(1.04 1)" font-size="19" textLength="79.33" lengthAdjust="spacing">northern</text>
<text class="h" transform="translate(1082.5 42.5) scale(1.04 1)" font-size="19" textLength="54.09" lengthAdjust="spacing">Hebei</text>
<text class="h" transform="translate(1233 23) scale(1.04 1)" font-size="19" textLength="73.8" lengthAdjust="spacing">western</text>
<text class="h" transform="translate(1233.5 43.75) scale(1.04 1)" font-size="19" textLength="79.33" lengthAdjust="spacing">Liaoning</text>
<text class="h" transform="translate(1385.25 25) scale(1.04 1)" font-size="19" textLength="78.37" lengthAdjust="spacing">Tianshifu</text>
<text class="h" transform="translate(1401 45.75) scale(1.04 1)" font-size="19" textLength="47.6" lengthAdjust="spacing">Basin</text>
<text x="12" y="24.8" font-size="16" textLength="27.6" lengthAdjust="spacing" class="r">Age</text>
<text x="9.6" y="41.8" font-size="16" textLength="33" lengthAdjust="spacing" class="r">(Ma)</text>
<text x="7.3" y="331.3" font-size="15.5" textLength="39.5" lengthAdjust="spacing" class="r">163.5</text>
<text x="7.3" y="620.6" font-size="15.5" textLength="37.9" lengthAdjust="spacing" class="r">174.1</text>
<text x="6.6" y="831.2" font-size="15.5" textLength="40" lengthAdjust="spacing" class="r">201.3</text>
<text transform="translate(86.6 239.6) rotate(-90)" font-size="16" textLength="108.2" lengthAdjust="spacing">Upper Jurassic</text>
<text transform="translate(86.6 531.7) rotate(-90)" font-size="16" textLength="113.4" lengthAdjust="spacing">Middle Jurassic</text>
<text transform="translate(86.6 772.7) rotate(-90)" font-size="16" textLength="109.4" lengthAdjust="spacing">Lower Jurassic</text>
<text transform="translate(86.6 903.5) rotate(-90)" font-size="16" textLength="58" lengthAdjust="spacing">Triassic</text>
<text x="51.75" y="973" font-size="15.3" textLength="92.5" lengthAdjust="spacing">Clastic rocks</text>
<text x="223.25" y="962.75" font-size="15.3" textLength="126" lengthAdjust="spacing">Upper volcanic or</text>
<text x="223.25" y="979" font-size="15.3" textLength="121.25" lengthAdjust="spacing">pyroclastic rocks</text>
<text x="433" y="961.5" font-size="15.3" textLength="125" lengthAdjust="spacing">Lower volcanic or</text>
<text x="433" y="979" font-size="15.3" textLength="120.25" lengthAdjust="spacing">pyroclastic rocks</text>
<text x="639.25" y="972.75" font-size="15.3" textLength="138.75" lengthAdjust="spacing">Coal-bearing strata</text>
<text x="851.25" y="972.75" font-size="15.3" textLength="153.25" lengthAdjust="spacing">Angular unconformity</text>
<text x="1073" y="972.75" font-size="15.3" textLength="99" lengthAdjust="spacing">Disconformity</text>
<text x="1255.25" y="973.5" font-size="15.3" textLength="102.5" lengthAdjust="spacing">Conglomerate</text>
<text x="1421.75" y="972.25" font-size="15.3" textLength="77.5" lengthAdjust="spacing">Sandstone</text>
<text x="50.75" y="1026" font-size="15.3" textLength="70.75" lengthAdjust="spacing">Mudstone</text>
<text x="193" y="1026" font-size="15.3" textLength="72" lengthAdjust="spacing">Coal layer</text>
<text x="340.5" y="1024.5" font-size="15.3" textLength="45" lengthAdjust="spacing">Basalt</text>
<text x="468" y="1024.75" font-size="15.3" textLength="63.25" lengthAdjust="spacing">Andesite</text>
<text x="603.75" y="1026" font-size="15.3" textLength="26.25" lengthAdjust="spacing">Tuff</text>
<text x="711.25" y="1025.25" font-size="15.3" textLength="187.5" lengthAdjust="spacing" font-style="italic">Coniopteris-Phoenicopsis</text>
<text x="963.25" y="1025.25" font-size="15.3" textLength="200.5" lengthAdjust="spacing" font-style="italic">Neocalamites-Cladophlebis</text>
<text x="1224.75" y="1025.5" font-size="15.3" textLength="108" lengthAdjust="spacing">Ziron U-Pb age</text>
<text x="1403.5" y="1026.75" font-size="15.3" textLength="89.5" lengthAdjust="spacing"><tspan font-size="8" dy="-7.5">40</tspan><tspan dy="7.5">Ar-</tspan><tspan font-size="8" dy="-7.5">39</tspan><tspan dy="7.5">Ar age</tspan></text></g>
</g>
</svg>
</body></html>
